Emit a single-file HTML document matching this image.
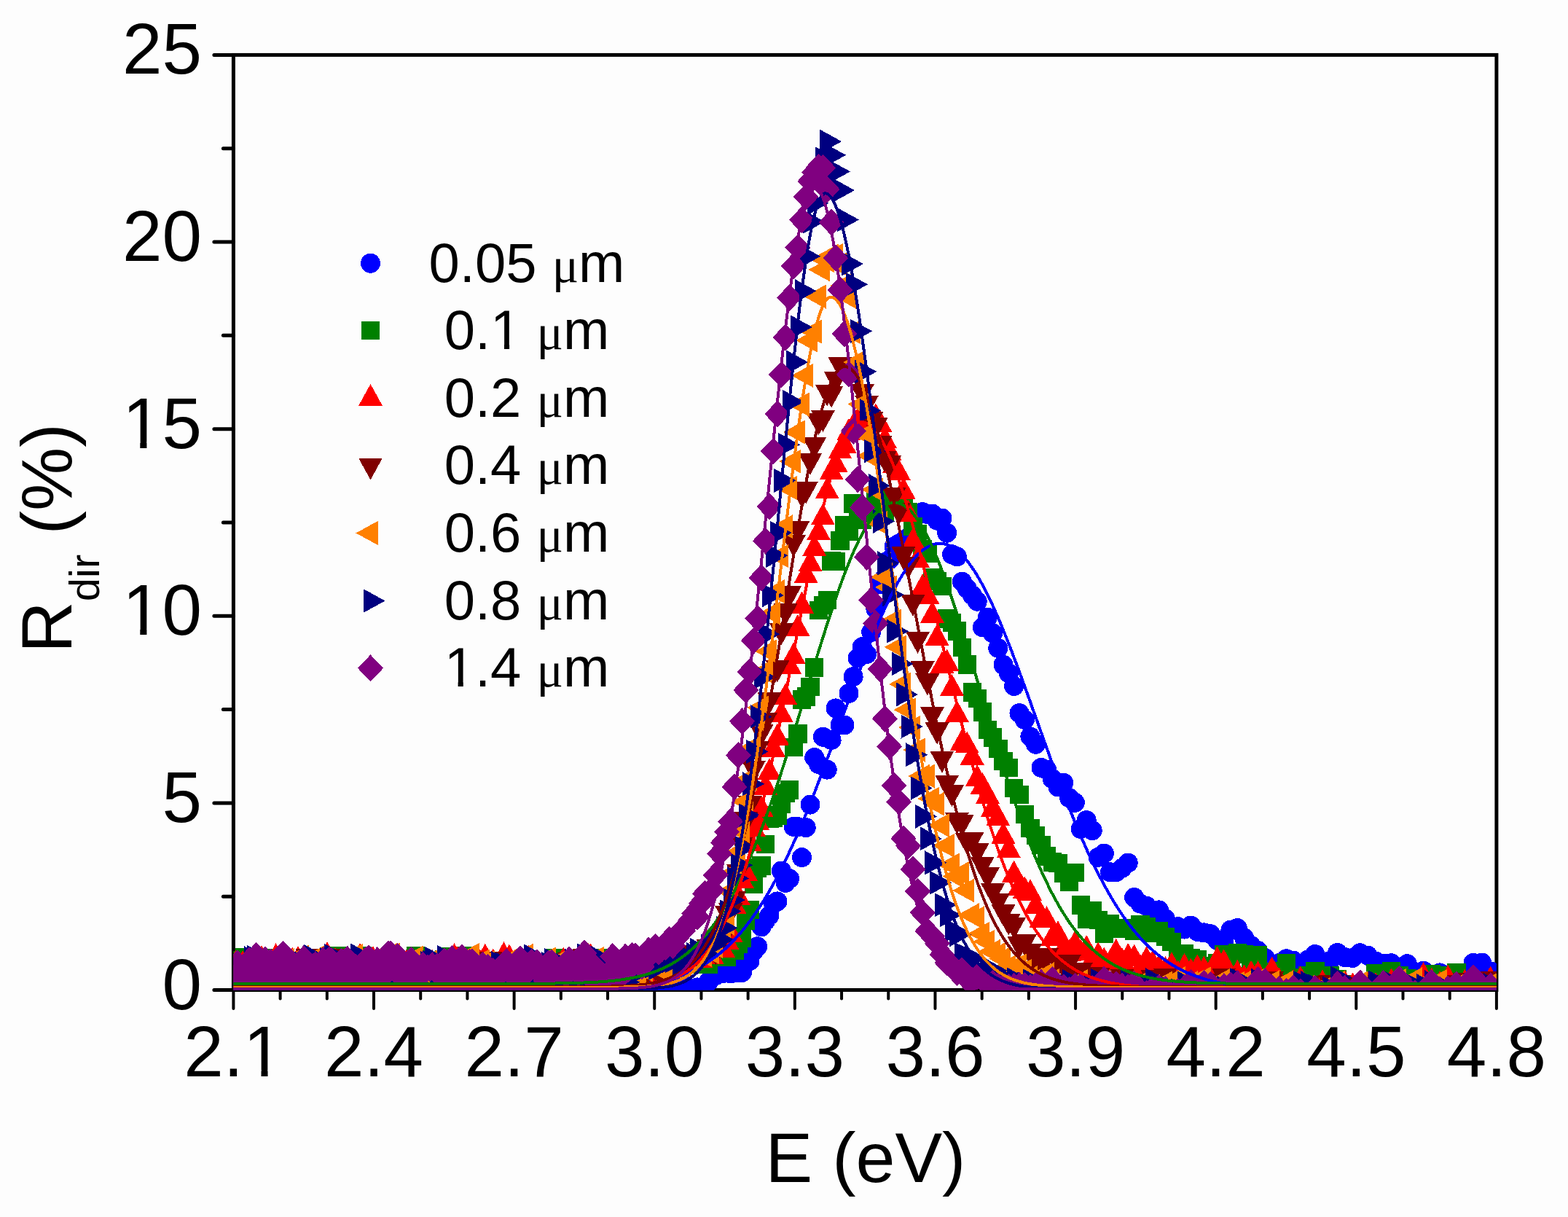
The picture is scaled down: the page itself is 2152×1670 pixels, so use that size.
<!DOCTYPE html>
<html><head><meta charset="utf-8"><style>
html,body{margin:0;padding:0;background:#fdfdfd;}
svg{display:block;}
</style></head><body>
<svg width="2152" height="1670" viewBox="0 0 2152 1670">
<rect width="2152" height="1670" fill="#fdfdfd"/>
<g stroke="#000" stroke-width="5" stroke-linecap="round" fill="none"><line x1="293.9" y1="1358.50" x2="320.4" y2="1358.50"/><line x1="293.9" y1="1101.88" x2="320.4" y2="1101.88"/><line x1="293.9" y1="845.26" x2="320.4" y2="845.26"/><line x1="293.9" y1="588.64" x2="320.4" y2="588.64"/><line x1="293.9" y1="332.02" x2="320.4" y2="332.02"/><line x1="293.9" y1="75.40" x2="320.4" y2="75.40"/><line x1="306.4" y1="1230.19" x2="320.4" y2="1230.19"/><line x1="306.4" y1="973.57" x2="320.4" y2="973.57"/><line x1="306.4" y1="716.95" x2="320.4" y2="716.95"/><line x1="306.4" y1="460.33" x2="320.4" y2="460.33"/><line x1="306.4" y1="203.71" x2="320.4" y2="203.71"/><line x1="320.40" y1="1358.5" x2="320.40" y2="1384.0" stroke-width="4"/><line x1="384.60" y1="1358.5" x2="384.60" y2="1370.5" stroke-width="4"/><line x1="448.81" y1="1358.5" x2="448.81" y2="1370.5" stroke-width="4"/><line x1="513.01" y1="1358.5" x2="513.01" y2="1384.0" stroke-width="4"/><line x1="577.21" y1="1358.5" x2="577.21" y2="1370.5" stroke-width="4"/><line x1="641.42" y1="1358.5" x2="641.42" y2="1370.5" stroke-width="4"/><line x1="705.62" y1="1358.5" x2="705.62" y2="1384.0" stroke-width="4"/><line x1="769.83" y1="1358.5" x2="769.83" y2="1370.5" stroke-width="4"/><line x1="834.03" y1="1358.5" x2="834.03" y2="1370.5" stroke-width="4"/><line x1="898.23" y1="1358.5" x2="898.23" y2="1384.0" stroke-width="4"/><line x1="962.44" y1="1358.5" x2="962.44" y2="1370.5" stroke-width="4"/><line x1="1026.64" y1="1358.5" x2="1026.64" y2="1370.5" stroke-width="4"/><line x1="1090.84" y1="1358.5" x2="1090.84" y2="1384.0" stroke-width="4"/><line x1="1155.05" y1="1358.5" x2="1155.05" y2="1370.5" stroke-width="4"/><line x1="1219.25" y1="1358.5" x2="1219.25" y2="1370.5" stroke-width="4"/><line x1="1283.46" y1="1358.5" x2="1283.46" y2="1384.0" stroke-width="4"/><line x1="1347.66" y1="1358.5" x2="1347.66" y2="1370.5" stroke-width="4"/><line x1="1411.86" y1="1358.5" x2="1411.86" y2="1370.5" stroke-width="4"/><line x1="1476.07" y1="1358.5" x2="1476.07" y2="1384.0" stroke-width="4"/><line x1="1540.27" y1="1358.5" x2="1540.27" y2="1370.5" stroke-width="4"/><line x1="1604.47" y1="1358.5" x2="1604.47" y2="1370.5" stroke-width="4"/><line x1="1668.68" y1="1358.5" x2="1668.68" y2="1384.0" stroke-width="4"/><line x1="1732.88" y1="1358.5" x2="1732.88" y2="1370.5" stroke-width="4"/><line x1="1797.09" y1="1358.5" x2="1797.09" y2="1370.5" stroke-width="4"/><line x1="1861.29" y1="1358.5" x2="1861.29" y2="1384.0" stroke-width="4"/><line x1="1925.49" y1="1358.5" x2="1925.49" y2="1370.5" stroke-width="4"/><line x1="1989.70" y1="1358.5" x2="1989.70" y2="1370.5" stroke-width="4"/><line x1="2053.90" y1="1358.5" x2="2053.90" y2="1384.0" stroke-width="4"/></g>
<rect x="320.4" y="75.4" width="1733.5" height="1283.1" fill="none" stroke="#000" stroke-width="5"/>
<defs><clipPath id="cp"><rect x="320.4" y="75.4" width="1733.5" height="1283.3999999999999"/></clipPath></defs>
<g clip-path="url(#cp)" shape-rendering="crispEdges"><path fill="#0000ff" d="M2032.1,1332.9a13.5,13.5 0 1,0 27.0,0a13.5,13.5 0 1,0 -27.0,0ZM2020.2,1321.1a13.5,13.5 0 1,0 27.0,0a13.5,13.5 0 1,0 -27.0,0ZM2008.5,1321.4a13.5,13.5 0 1,0 27.0,0a13.5,13.5 0 1,0 -27.0,0ZM1996.9,1335.4a13.5,13.5 0 1,0 27.0,0a13.5,13.5 0 1,0 -27.0,0ZM1985.3,1336.9a13.5,13.5 0 1,0 27.0,0a13.5,13.5 0 1,0 -27.0,0ZM1973.9,1341.6a13.5,13.5 0 1,0 27.0,0a13.5,13.5 0 1,0 -27.0,0ZM1962.5,1334.9a13.5,13.5 0 1,0 27.0,0a13.5,13.5 0 1,0 -27.0,0ZM1951.2,1338.9a13.5,13.5 0 1,0 27.0,0a13.5,13.5 0 1,0 -27.0,0ZM1940.0,1332.1a13.5,13.5 0 1,0 27.0,0a13.5,13.5 0 1,0 -27.0,0ZM1928.9,1349.0a13.5,13.5 0 1,0 27.0,0a13.5,13.5 0 1,0 -27.0,0ZM1917.8,1322.7a13.5,13.5 0 1,0 27.0,0a13.5,13.5 0 1,0 -27.0,0ZM1906.9,1332.2a13.5,13.5 0 1,0 27.0,0a13.5,13.5 0 1,0 -27.0,0ZM1896.0,1321.8a13.5,13.5 0 1,0 27.0,0a13.5,13.5 0 1,0 -27.0,0ZM1885.2,1322.0a13.5,13.5 0 1,0 27.0,0a13.5,13.5 0 1,0 -27.0,0ZM1874.5,1319.2a13.5,13.5 0 1,0 27.0,0a13.5,13.5 0 1,0 -27.0,0ZM1863.8,1311.3a13.5,13.5 0 1,0 27.0,0a13.5,13.5 0 1,0 -27.0,0ZM1853.3,1307.8a13.5,13.5 0 1,0 27.0,0a13.5,13.5 0 1,0 -27.0,0ZM1842.8,1314.5a13.5,13.5 0 1,0 27.0,0a13.5,13.5 0 1,0 -27.0,0ZM1832.4,1313.7a13.5,13.5 0 1,0 27.0,0a13.5,13.5 0 1,0 -27.0,0ZM1822.0,1307.4a13.5,13.5 0 1,0 27.0,0a13.5,13.5 0 1,0 -27.0,0ZM1811.8,1318.5a13.5,13.5 0 1,0 27.0,0a13.5,13.5 0 1,0 -27.0,0ZM1801.6,1323.1a13.5,13.5 0 1,0 27.0,0a13.5,13.5 0 1,0 -27.0,0ZM1791.4,1309.5a13.5,13.5 0 1,0 27.0,0a13.5,13.5 0 1,0 -27.0,0ZM1781.4,1317.1a13.5,13.5 0 1,0 27.0,0a13.5,13.5 0 1,0 -27.0,0ZM1771.4,1325.9a13.5,13.5 0 1,0 27.0,0a13.5,13.5 0 1,0 -27.0,0ZM1761.5,1318.1a13.5,13.5 0 1,0 27.0,0a13.5,13.5 0 1,0 -27.0,0ZM1751.7,1315.8a13.5,13.5 0 1,0 27.0,0a13.5,13.5 0 1,0 -27.0,0ZM1741.9,1321.7a13.5,13.5 0 1,0 27.0,0a13.5,13.5 0 1,0 -27.0,0ZM1732.2,1324.7a13.5,13.5 0 1,0 27.0,0a13.5,13.5 0 1,0 -27.0,0ZM1722.6,1314.6a13.5,13.5 0 1,0 27.0,0a13.5,13.5 0 1,0 -27.0,0ZM1713.0,1304.6a13.5,13.5 0 1,0 27.0,0a13.5,13.5 0 1,0 -27.0,0ZM1703.5,1297.7a13.5,13.5 0 1,0 27.0,0a13.5,13.5 0 1,0 -27.0,0ZM1694.1,1287.0a13.5,13.5 0 1,0 27.0,0a13.5,13.5 0 1,0 -27.0,0ZM1684.7,1273.5a13.5,13.5 0 1,0 27.0,0a13.5,13.5 0 1,0 -27.0,0ZM1675.4,1276.1a13.5,13.5 0 1,0 27.0,0a13.5,13.5 0 1,0 -27.0,0ZM1666.2,1291.8a13.5,13.5 0 1,0 27.0,0a13.5,13.5 0 1,0 -27.0,0ZM1657.0,1290.0a13.5,13.5 0 1,0 27.0,0a13.5,13.5 0 1,0 -27.0,0ZM1647.9,1281.7a13.5,13.5 0 1,0 27.0,0a13.5,13.5 0 1,0 -27.0,0ZM1638.8,1279.9a13.5,13.5 0 1,0 27.0,0a13.5,13.5 0 1,0 -27.0,0ZM1629.8,1278.3a13.5,13.5 0 1,0 27.0,0a13.5,13.5 0 1,0 -27.0,0ZM1620.9,1270.1a13.5,13.5 0 1,0 27.0,0a13.5,13.5 0 1,0 -27.0,0ZM1612.0,1275.0a13.5,13.5 0 1,0 27.0,0a13.5,13.5 0 1,0 -27.0,0ZM1603.2,1271.7a13.5,13.5 0 1,0 27.0,0a13.5,13.5 0 1,0 -27.0,0ZM1594.5,1289.5a13.5,13.5 0 1,0 27.0,0a13.5,13.5 0 1,0 -27.0,0ZM1585.8,1260.9a13.5,13.5 0 1,0 27.0,0a13.5,13.5 0 1,0 -27.0,0ZM1577.1,1248.9a13.5,13.5 0 1,0 27.0,0a13.5,13.5 0 1,0 -27.0,0ZM1568.5,1259.3a13.5,13.5 0 1,0 27.0,0a13.5,13.5 0 1,0 -27.0,0ZM1560.0,1243.3a13.5,13.5 0 1,0 27.0,0a13.5,13.5 0 1,0 -27.0,0ZM1551.5,1240.1a13.5,13.5 0 1,0 27.0,0a13.5,13.5 0 1,0 -27.0,0ZM1543.1,1231.5a13.5,13.5 0 1,0 27.0,0a13.5,13.5 0 1,0 -27.0,0ZM1534.7,1184.0a13.5,13.5 0 1,0 27.0,0a13.5,13.5 0 1,0 -27.0,0ZM1526.4,1191.3a13.5,13.5 0 1,0 27.0,0a13.5,13.5 0 1,0 -27.0,0ZM1518.2,1196.7a13.5,13.5 0 1,0 27.0,0a13.5,13.5 0 1,0 -27.0,0ZM1510.0,1196.8a13.5,13.5 0 1,0 27.0,0a13.5,13.5 0 1,0 -27.0,0ZM1501.8,1171.1a13.5,13.5 0 1,0 27.0,0a13.5,13.5 0 1,0 -27.0,0ZM1493.7,1176.4a13.5,13.5 0 1,0 27.0,0a13.5,13.5 0 1,0 -27.0,0ZM1485.7,1139.7a13.5,13.5 0 1,0 27.0,0a13.5,13.5 0 1,0 -27.0,0ZM1477.7,1125.6a13.5,13.5 0 1,0 27.0,0a13.5,13.5 0 1,0 -27.0,0ZM1469.7,1137.5a13.5,13.5 0 1,0 27.0,0a13.5,13.5 0 1,0 -27.0,0ZM1461.8,1101.3a13.5,13.5 0 1,0 27.0,0a13.5,13.5 0 1,0 -27.0,0ZM1454.0,1094.9a13.5,13.5 0 1,0 27.0,0a13.5,13.5 0 1,0 -27.0,0ZM1446.2,1074.4a13.5,13.5 0 1,0 27.0,0a13.5,13.5 0 1,0 -27.0,0ZM1438.4,1079.9a13.5,13.5 0 1,0 27.0,0a13.5,13.5 0 1,0 -27.0,0ZM1430.7,1068.8a13.5,13.5 0 1,0 27.0,0a13.5,13.5 0 1,0 -27.0,0ZM1423.1,1056.1a13.5,13.5 0 1,0 27.0,0a13.5,13.5 0 1,0 -27.0,0ZM1415.5,1053.4a13.5,13.5 0 1,0 27.0,0a13.5,13.5 0 1,0 -27.0,0ZM1407.9,1021.3a13.5,13.5 0 1,0 27.0,0a13.5,13.5 0 1,0 -27.0,0ZM1400.4,1010.8a13.5,13.5 0 1,0 27.0,0a13.5,13.5 0 1,0 -27.0,0ZM1392.9,987.6a13.5,13.5 0 1,0 27.0,0a13.5,13.5 0 1,0 -27.0,0ZM1385.5,978.6a13.5,13.5 0 1,0 27.0,0a13.5,13.5 0 1,0 -27.0,0ZM1378.1,941.5a13.5,13.5 0 1,0 27.0,0a13.5,13.5 0 1,0 -27.0,0ZM1370.8,923.7a13.5,13.5 0 1,0 27.0,0a13.5,13.5 0 1,0 -27.0,0ZM1363.5,912.3a13.5,13.5 0 1,0 27.0,0a13.5,13.5 0 1,0 -27.0,0ZM1356.3,889.4a13.5,13.5 0 1,0 27.0,0a13.5,13.5 0 1,0 -27.0,0ZM1349.1,868.9a13.5,13.5 0 1,0 27.0,0a13.5,13.5 0 1,0 -27.0,0ZM1341.9,847.3a13.5,13.5 0 1,0 27.0,0a13.5,13.5 0 1,0 -27.0,0ZM1334.8,860.8a13.5,13.5 0 1,0 27.0,0a13.5,13.5 0 1,0 -27.0,0ZM1327.7,825.2a13.5,13.5 0 1,0 27.0,0a13.5,13.5 0 1,0 -27.0,0ZM1320.7,816.6a13.5,13.5 0 1,0 27.0,0a13.5,13.5 0 1,0 -27.0,0ZM1313.7,807.6a13.5,13.5 0 1,0 27.0,0a13.5,13.5 0 1,0 -27.0,0ZM1306.8,798.2a13.5,13.5 0 1,0 27.0,0a13.5,13.5 0 1,0 -27.0,0ZM1299.9,763.8a13.5,13.5 0 1,0 27.0,0a13.5,13.5 0 1,0 -27.0,0ZM1293.0,760.7a13.5,13.5 0 1,0 27.0,0a13.5,13.5 0 1,0 -27.0,0ZM1286.2,731.2a13.5,13.5 0 1,0 27.0,0a13.5,13.5 0 1,0 -27.0,0ZM1279.4,711.1a13.5,13.5 0 1,0 27.0,0a13.5,13.5 0 1,0 -27.0,0ZM1272.6,714.2a13.5,13.5 0 1,0 27.0,0a13.5,13.5 0 1,0 -27.0,0ZM1265.9,705.0a13.5,13.5 0 1,0 27.0,0a13.5,13.5 0 1,0 -27.0,0ZM1259.3,705.6a13.5,13.5 0 1,0 27.0,0a13.5,13.5 0 1,0 -27.0,0ZM1252.6,702.6a13.5,13.5 0 1,0 27.0,0a13.5,13.5 0 1,0 -27.0,0ZM1246.0,705.1a13.5,13.5 0 1,0 27.0,0a13.5,13.5 0 1,0 -27.0,0ZM1239.5,711.3a13.5,13.5 0 1,0 27.0,0a13.5,13.5 0 1,0 -27.0,0ZM1233.0,737.6a13.5,13.5 0 1,0 27.0,0a13.5,13.5 0 1,0 -27.0,0ZM1226.5,742.5a13.5,13.5 0 1,0 27.0,0a13.5,13.5 0 1,0 -27.0,0ZM1220.1,746.1a13.5,13.5 0 1,0 27.0,0a13.5,13.5 0 1,0 -27.0,0ZM1213.6,750.0a13.5,13.5 0 1,0 27.0,0a13.5,13.5 0 1,0 -27.0,0ZM1207.3,768.1a13.5,13.5 0 1,0 27.0,0a13.5,13.5 0 1,0 -27.0,0ZM1200.9,792.8a13.5,13.5 0 1,0 27.0,0a13.5,13.5 0 1,0 -27.0,0ZM1194.6,801.4a13.5,13.5 0 1,0 27.0,0a13.5,13.5 0 1,0 -27.0,0ZM1188.4,835.6a13.5,13.5 0 1,0 27.0,0a13.5,13.5 0 1,0 -27.0,0ZM1182.2,867.4a13.5,13.5 0 1,0 27.0,0a13.5,13.5 0 1,0 -27.0,0ZM1176.0,897.6a13.5,13.5 0 1,0 27.0,0a13.5,13.5 0 1,0 -27.0,0ZM1169.8,887.7a13.5,13.5 0 1,0 27.0,0a13.5,13.5 0 1,0 -27.0,0ZM1163.7,903.1a13.5,13.5 0 1,0 27.0,0a13.5,13.5 0 1,0 -27.0,0ZM1157.6,928.6a13.5,13.5 0 1,0 27.0,0a13.5,13.5 0 1,0 -27.0,0ZM1151.5,951.5a13.5,13.5 0 1,0 27.0,0a13.5,13.5 0 1,0 -27.0,0ZM1145.5,995.0a13.5,13.5 0 1,0 27.0,0a13.5,13.5 0 1,0 -27.0,0ZM1139.5,994.8a13.5,13.5 0 1,0 27.0,0a13.5,13.5 0 1,0 -27.0,0ZM1133.5,971.9a13.5,13.5 0 1,0 27.0,0a13.5,13.5 0 1,0 -27.0,0ZM1127.6,1015.4a13.5,13.5 0 1,0 27.0,0a13.5,13.5 0 1,0 -27.0,0ZM1121.7,1056.1a13.5,13.5 0 1,0 27.0,0a13.5,13.5 0 1,0 -27.0,0ZM1115.9,1011.2a13.5,13.5 0 1,0 27.0,0a13.5,13.5 0 1,0 -27.0,0ZM1110.0,1048.6a13.5,13.5 0 1,0 27.0,0a13.5,13.5 0 1,0 -27.0,0ZM1104.2,1039.6a13.5,13.5 0 1,0 27.0,0a13.5,13.5 0 1,0 -27.0,0ZM1098.5,1104.1a13.5,13.5 0 1,0 27.0,0a13.5,13.5 0 1,0 -27.0,0ZM1092.7,1135.6a13.5,13.5 0 1,0 27.0,0a13.5,13.5 0 1,0 -27.0,0ZM1087.0,1176.6a13.5,13.5 0 1,0 27.0,0a13.5,13.5 0 1,0 -27.0,0ZM1081.4,1134.7a13.5,13.5 0 1,0 27.0,0a13.5,13.5 0 1,0 -27.0,0ZM1075.7,1134.4a13.5,13.5 0 1,0 27.0,0a13.5,13.5 0 1,0 -27.0,0ZM1070.1,1205.7a13.5,13.5 0 1,0 27.0,0a13.5,13.5 0 1,0 -27.0,0ZM1064.5,1211.3a13.5,13.5 0 1,0 27.0,0a13.5,13.5 0 1,0 -27.0,0ZM1058.9,1195.1a13.5,13.5 0 1,0 27.0,0a13.5,13.5 0 1,0 -27.0,0ZM1053.4,1236.9a13.5,13.5 0 1,0 27.0,0a13.5,13.5 0 1,0 -27.0,0ZM1047.9,1240.3a13.5,13.5 0 1,0 27.0,0a13.5,13.5 0 1,0 -27.0,0ZM1042.5,1256.2a13.5,13.5 0 1,0 27.0,0a13.5,13.5 0 1,0 -27.0,0ZM1037.0,1263.7a13.5,13.5 0 1,0 27.0,0a13.5,13.5 0 1,0 -27.0,0ZM1031.6,1271.8a13.5,13.5 0 1,0 27.0,0a13.5,13.5 0 1,0 -27.0,0ZM1026.2,1298.8a13.5,13.5 0 1,0 27.0,0a13.5,13.5 0 1,0 -27.0,0ZM1020.9,1304.9a13.5,13.5 0 1,0 27.0,0a13.5,13.5 0 1,0 -27.0,0ZM1015.5,1318.7a13.5,13.5 0 1,0 27.0,0a13.5,13.5 0 1,0 -27.0,0ZM1010.2,1319.1a13.5,13.5 0 1,0 27.0,0a13.5,13.5 0 1,0 -27.0,0ZM1005.0,1334.4a13.5,13.5 0 1,0 27.0,0a13.5,13.5 0 1,0 -27.0,0ZM999.7,1334.5a13.5,13.5 0 1,0 27.0,0a13.5,13.5 0 1,0 -27.0,0ZM994.5,1325.8a13.5,13.5 0 1,0 27.0,0a13.5,13.5 0 1,0 -27.0,0ZM989.3,1335.9a13.5,13.5 0 1,0 27.0,0a13.5,13.5 0 1,0 -27.0,0ZM984.1,1332.7a13.5,13.5 0 1,0 27.0,0a13.5,13.5 0 1,0 -27.0,0ZM979.0,1335.5a13.5,13.5 0 1,0 27.0,0a13.5,13.5 0 1,0 -27.0,0ZM973.9,1334.0a13.5,13.5 0 1,0 27.0,0a13.5,13.5 0 1,0 -27.0,0ZM968.8,1338.7a13.5,13.5 0 1,0 27.0,0a13.5,13.5 0 1,0 -27.0,0ZM963.7,1339.8a13.5,13.5 0 1,0 27.0,0a13.5,13.5 0 1,0 -27.0,0ZM958.7,1347.7a13.5,13.5 0 1,0 27.0,0a13.5,13.5 0 1,0 -27.0,0ZM953.7,1352.8a13.5,13.5 0 1,0 27.0,0a13.5,13.5 0 1,0 -27.0,0ZM948.7,1354.8a13.5,13.5 0 1,0 27.0,0a13.5,13.5 0 1,0 -27.0,0ZM943.7,1354.9a13.5,13.5 0 1,0 27.0,0a13.5,13.5 0 1,0 -27.0,0ZM938.8,1359.0a13.5,13.5 0 1,0 27.0,0a13.5,13.5 0 1,0 -27.0,0ZM933.9,1356.1a13.5,13.5 0 1,0 27.0,0a13.5,13.5 0 1,0 -27.0,0ZM929.0,1353.6a13.5,13.5 0 1,0 27.0,0a13.5,13.5 0 1,0 -27.0,0ZM924.1,1351.6a13.5,13.5 0 1,0 27.0,0a13.5,13.5 0 1,0 -27.0,0ZM919.3,1354.1a13.5,13.5 0 1,0 27.0,0a13.5,13.5 0 1,0 -27.0,0ZM914.5,1361.7a13.5,13.5 0 1,0 27.0,0a13.5,13.5 0 1,0 -27.0,0ZM909.7,1351.6a13.5,13.5 0 1,0 27.0,0a13.5,13.5 0 1,0 -27.0,0ZM904.9,1349.5a13.5,13.5 0 1,0 27.0,0a13.5,13.5 0 1,0 -27.0,0ZM900.1,1344.4a13.5,13.5 0 1,0 27.0,0a13.5,13.5 0 1,0 -27.0,0ZM895.4,1346.4a13.5,13.5 0 1,0 27.0,0a13.5,13.5 0 1,0 -27.0,0ZM890.7,1352.2a13.5,13.5 0 1,0 27.0,0a13.5,13.5 0 1,0 -27.0,0ZM886.0,1352.1a13.5,13.5 0 1,0 27.0,0a13.5,13.5 0 1,0 -27.0,0ZM881.4,1337.0a13.5,13.5 0 1,0 27.0,0a13.5,13.5 0 1,0 -27.0,0ZM876.8,1343.1a13.5,13.5 0 1,0 27.0,0a13.5,13.5 0 1,0 -27.0,0ZM872.1,1335.7a13.5,13.5 0 1,0 27.0,0a13.5,13.5 0 1,0 -27.0,0ZM867.6,1333.4a13.5,13.5 0 1,0 27.0,0a13.5,13.5 0 1,0 -27.0,0ZM863.0,1351.7a13.5,13.5 0 1,0 27.0,0a13.5,13.5 0 1,0 -27.0,0ZM858.4,1342.7a13.5,13.5 0 1,0 27.0,0a13.5,13.5 0 1,0 -27.0,0ZM853.9,1341.6a13.5,13.5 0 1,0 27.0,0a13.5,13.5 0 1,0 -27.0,0ZM849.4,1340.2a13.5,13.5 0 1,0 27.0,0a13.5,13.5 0 1,0 -27.0,0ZM844.9,1339.7a13.5,13.5 0 1,0 27.0,0a13.5,13.5 0 1,0 -27.0,0ZM840.5,1342.1a13.5,13.5 0 1,0 27.0,0a13.5,13.5 0 1,0 -27.0,0ZM836.0,1342.0a13.5,13.5 0 1,0 27.0,0a13.5,13.5 0 1,0 -27.0,0ZM831.6,1357.5a13.5,13.5 0 1,0 27.0,0a13.5,13.5 0 1,0 -27.0,0ZM827.2,1344.8a13.5,13.5 0 1,0 27.0,0a13.5,13.5 0 1,0 -27.0,0ZM822.8,1350.7a13.5,13.5 0 1,0 27.0,0a13.5,13.5 0 1,0 -27.0,0ZM818.5,1341.8a13.5,13.5 0 1,0 27.0,0a13.5,13.5 0 1,0 -27.0,0ZM814.2,1347.9a13.5,13.5 0 1,0 27.0,0a13.5,13.5 0 1,0 -27.0,0ZM809.8,1336.7a13.5,13.5 0 1,0 27.0,0a13.5,13.5 0 1,0 -27.0,0ZM805.5,1334.6a13.5,13.5 0 1,0 27.0,0a13.5,13.5 0 1,0 -27.0,0ZM801.3,1339.9a13.5,13.5 0 1,0 27.0,0a13.5,13.5 0 1,0 -27.0,0ZM797.0,1339.8a13.5,13.5 0 1,0 27.0,0a13.5,13.5 0 1,0 -27.0,0ZM792.8,1342.1a13.5,13.5 0 1,0 27.0,0a13.5,13.5 0 1,0 -27.0,0ZM788.6,1347.7a13.5,13.5 0 1,0 27.0,0a13.5,13.5 0 1,0 -27.0,0ZM784.4,1344.8a13.5,13.5 0 1,0 27.0,0a13.5,13.5 0 1,0 -27.0,0ZM780.2,1348.2a13.5,13.5 0 1,0 27.0,0a13.5,13.5 0 1,0 -27.0,0ZM776.0,1339.1a13.5,13.5 0 1,0 27.0,0a13.5,13.5 0 1,0 -27.0,0ZM771.9,1343.0a13.5,13.5 0 1,0 27.0,0a13.5,13.5 0 1,0 -27.0,0ZM767.8,1337.1a13.5,13.5 0 1,0 27.0,0a13.5,13.5 0 1,0 -27.0,0ZM763.7,1356.8a13.5,13.5 0 1,0 27.0,0a13.5,13.5 0 1,0 -27.0,0ZM759.6,1333.9a13.5,13.5 0 1,0 27.0,0a13.5,13.5 0 1,0 -27.0,0ZM755.5,1351.0a13.5,13.5 0 1,0 27.0,0a13.5,13.5 0 1,0 -27.0,0ZM751.5,1350.7a13.5,13.5 0 1,0 27.0,0a13.5,13.5 0 1,0 -27.0,0ZM747.4,1345.1a13.5,13.5 0 1,0 27.0,0a13.5,13.5 0 1,0 -27.0,0ZM743.4,1348.9a13.5,13.5 0 1,0 27.0,0a13.5,13.5 0 1,0 -27.0,0ZM739.4,1340.1a13.5,13.5 0 1,0 27.0,0a13.5,13.5 0 1,0 -27.0,0ZM735.5,1349.0a13.5,13.5 0 1,0 27.0,0a13.5,13.5 0 1,0 -27.0,0ZM731.5,1354.1a13.5,13.5 0 1,0 27.0,0a13.5,13.5 0 1,0 -27.0,0ZM727.6,1351.8a13.5,13.5 0 1,0 27.0,0a13.5,13.5 0 1,0 -27.0,0ZM723.6,1329.6a13.5,13.5 0 1,0 27.0,0a13.5,13.5 0 1,0 -27.0,0ZM719.7,1342.6a13.5,13.5 0 1,0 27.0,0a13.5,13.5 0 1,0 -27.0,0ZM715.8,1355.2a13.5,13.5 0 1,0 27.0,0a13.5,13.5 0 1,0 -27.0,0ZM712.0,1343.0a13.5,13.5 0 1,0 27.0,0a13.5,13.5 0 1,0 -27.0,0ZM708.1,1359.2a13.5,13.5 0 1,0 27.0,0a13.5,13.5 0 1,0 -27.0,0ZM704.3,1324.6a13.5,13.5 0 1,0 27.0,0a13.5,13.5 0 1,0 -27.0,0ZM700.5,1358.8a13.5,13.5 0 1,0 27.0,0a13.5,13.5 0 1,0 -27.0,0ZM696.7,1338.2a13.5,13.5 0 1,0 27.0,0a13.5,13.5 0 1,0 -27.0,0ZM692.9,1337.5a13.5,13.5 0 1,0 27.0,0a13.5,13.5 0 1,0 -27.0,0ZM689.1,1358.1a13.5,13.5 0 1,0 27.0,0a13.5,13.5 0 1,0 -27.0,0ZM685.4,1340.0a13.5,13.5 0 1,0 27.0,0a13.5,13.5 0 1,0 -27.0,0ZM681.6,1332.8a13.5,13.5 0 1,0 27.0,0a13.5,13.5 0 1,0 -27.0,0ZM677.9,1338.3a13.5,13.5 0 1,0 27.0,0a13.5,13.5 0 1,0 -27.0,0ZM674.2,1340.4a13.5,13.5 0 1,0 27.0,0a13.5,13.5 0 1,0 -27.0,0ZM670.5,1333.3a13.5,13.5 0 1,0 27.0,0a13.5,13.5 0 1,0 -27.0,0ZM666.8,1341.4a13.5,13.5 0 1,0 27.0,0a13.5,13.5 0 1,0 -27.0,0ZM663.2,1339.6a13.5,13.5 0 1,0 27.0,0a13.5,13.5 0 1,0 -27.0,0ZM659.5,1344.4a13.5,13.5 0 1,0 27.0,0a13.5,13.5 0 1,0 -27.0,0ZM655.9,1336.6a13.5,13.5 0 1,0 27.0,0a13.5,13.5 0 1,0 -27.0,0ZM652.3,1352.8a13.5,13.5 0 1,0 27.0,0a13.5,13.5 0 1,0 -27.0,0ZM648.7,1334.9a13.5,13.5 0 1,0 27.0,0a13.5,13.5 0 1,0 -27.0,0ZM645.1,1348.3a13.5,13.5 0 1,0 27.0,0a13.5,13.5 0 1,0 -27.0,0ZM641.5,1354.4a13.5,13.5 0 1,0 27.0,0a13.5,13.5 0 1,0 -27.0,0ZM638.0,1339.3a13.5,13.5 0 1,0 27.0,0a13.5,13.5 0 1,0 -27.0,0ZM634.5,1325.6a13.5,13.5 0 1,0 27.0,0a13.5,13.5 0 1,0 -27.0,0ZM630.9,1333.2a13.5,13.5 0 1,0 27.0,0a13.5,13.5 0 1,0 -27.0,0ZM627.4,1348.4a13.5,13.5 0 1,0 27.0,0a13.5,13.5 0 1,0 -27.0,0ZM623.9,1335.9a13.5,13.5 0 1,0 27.0,0a13.5,13.5 0 1,0 -27.0,0ZM620.5,1347.8a13.5,13.5 0 1,0 27.0,0a13.5,13.5 0 1,0 -27.0,0ZM617.0,1344.4a13.5,13.5 0 1,0 27.0,0a13.5,13.5 0 1,0 -27.0,0ZM613.6,1342.2a13.5,13.5 0 1,0 27.0,0a13.5,13.5 0 1,0 -27.0,0ZM610.1,1363.8a13.5,13.5 0 1,0 27.0,0a13.5,13.5 0 1,0 -27.0,0ZM606.7,1341.1a13.5,13.5 0 1,0 27.0,0a13.5,13.5 0 1,0 -27.0,0ZM603.3,1353.7a13.5,13.5 0 1,0 27.0,0a13.5,13.5 0 1,0 -27.0,0ZM599.9,1350.3a13.5,13.5 0 1,0 27.0,0a13.5,13.5 0 1,0 -27.0,0ZM596.5,1358.3a13.5,13.5 0 1,0 27.0,0a13.5,13.5 0 1,0 -27.0,0ZM593.2,1358.8a13.5,13.5 0 1,0 27.0,0a13.5,13.5 0 1,0 -27.0,0ZM589.8,1352.8a13.5,13.5 0 1,0 27.0,0a13.5,13.5 0 1,0 -27.0,0ZM586.5,1334.6a13.5,13.5 0 1,0 27.0,0a13.5,13.5 0 1,0 -27.0,0ZM583.2,1325.9a13.5,13.5 0 1,0 27.0,0a13.5,13.5 0 1,0 -27.0,0ZM579.9,1343.4a13.5,13.5 0 1,0 27.0,0a13.5,13.5 0 1,0 -27.0,0ZM576.6,1331.8a13.5,13.5 0 1,0 27.0,0a13.5,13.5 0 1,0 -27.0,0ZM573.3,1345.8a13.5,13.5 0 1,0 27.0,0a13.5,13.5 0 1,0 -27.0,0ZM570.0,1362.8a13.5,13.5 0 1,0 27.0,0a13.5,13.5 0 1,0 -27.0,0ZM566.7,1341.6a13.5,13.5 0 1,0 27.0,0a13.5,13.5 0 1,0 -27.0,0ZM563.5,1338.5a13.5,13.5 0 1,0 27.0,0a13.5,13.5 0 1,0 -27.0,0ZM560.3,1347.5a13.5,13.5 0 1,0 27.0,0a13.5,13.5 0 1,0 -27.0,0ZM557.1,1340.0a13.5,13.5 0 1,0 27.0,0a13.5,13.5 0 1,0 -27.0,0ZM553.9,1337.2a13.5,13.5 0 1,0 27.0,0a13.5,13.5 0 1,0 -27.0,0ZM550.7,1352.0a13.5,13.5 0 1,0 27.0,0a13.5,13.5 0 1,0 -27.0,0ZM547.5,1358.4a13.5,13.5 0 1,0 27.0,0a13.5,13.5 0 1,0 -27.0,0ZM544.3,1345.4a13.5,13.5 0 1,0 27.0,0a13.5,13.5 0 1,0 -27.0,0ZM541.2,1345.3a13.5,13.5 0 1,0 27.0,0a13.5,13.5 0 1,0 -27.0,0ZM538.0,1346.7a13.5,13.5 0 1,0 27.0,0a13.5,13.5 0 1,0 -27.0,0ZM534.9,1332.9a13.5,13.5 0 1,0 27.0,0a13.5,13.5 0 1,0 -27.0,0ZM531.8,1325.3a13.5,13.5 0 1,0 27.0,0a13.5,13.5 0 1,0 -27.0,0ZM528.7,1347.4a13.5,13.5 0 1,0 27.0,0a13.5,13.5 0 1,0 -27.0,0ZM525.6,1335.9a13.5,13.5 0 1,0 27.0,0a13.5,13.5 0 1,0 -27.0,0ZM522.5,1333.4a13.5,13.5 0 1,0 27.0,0a13.5,13.5 0 1,0 -27.0,0ZM519.5,1335.7a13.5,13.5 0 1,0 27.0,0a13.5,13.5 0 1,0 -27.0,0ZM516.4,1332.3a13.5,13.5 0 1,0 27.0,0a13.5,13.5 0 1,0 -27.0,0ZM513.4,1347.1a13.5,13.5 0 1,0 27.0,0a13.5,13.5 0 1,0 -27.0,0ZM510.3,1335.5a13.5,13.5 0 1,0 27.0,0a13.5,13.5 0 1,0 -27.0,0ZM507.3,1322.5a13.5,13.5 0 1,0 27.0,0a13.5,13.5 0 1,0 -27.0,0ZM504.3,1334.8a13.5,13.5 0 1,0 27.0,0a13.5,13.5 0 1,0 -27.0,0ZM501.3,1349.5a13.5,13.5 0 1,0 27.0,0a13.5,13.5 0 1,0 -27.0,0ZM498.3,1336.8a13.5,13.5 0 1,0 27.0,0a13.5,13.5 0 1,0 -27.0,0ZM495.3,1330.1a13.5,13.5 0 1,0 27.0,0a13.5,13.5 0 1,0 -27.0,0ZM492.4,1339.3a13.5,13.5 0 1,0 27.0,0a13.5,13.5 0 1,0 -27.0,0ZM489.4,1348.9a13.5,13.5 0 1,0 27.0,0a13.5,13.5 0 1,0 -27.0,0ZM486.5,1327.2a13.5,13.5 0 1,0 27.0,0a13.5,13.5 0 1,0 -27.0,0ZM483.6,1356.0a13.5,13.5 0 1,0 27.0,0a13.5,13.5 0 1,0 -27.0,0ZM480.7,1337.9a13.5,13.5 0 1,0 27.0,0a13.5,13.5 0 1,0 -27.0,0ZM477.8,1343.3a13.5,13.5 0 1,0 27.0,0a13.5,13.5 0 1,0 -27.0,0ZM474.9,1355.4a13.5,13.5 0 1,0 27.0,0a13.5,13.5 0 1,0 -27.0,0ZM472.0,1330.5a13.5,13.5 0 1,0 27.0,0a13.5,13.5 0 1,0 -27.0,0ZM469.1,1339.5a13.5,13.5 0 1,0 27.0,0a13.5,13.5 0 1,0 -27.0,0ZM466.2,1355.2a13.5,13.5 0 1,0 27.0,0a13.5,13.5 0 1,0 -27.0,0ZM463.4,1336.9a13.5,13.5 0 1,0 27.0,0a13.5,13.5 0 1,0 -27.0,0ZM460.6,1347.6a13.5,13.5 0 1,0 27.0,0a13.5,13.5 0 1,0 -27.0,0ZM457.7,1362.8a13.5,13.5 0 1,0 27.0,0a13.5,13.5 0 1,0 -27.0,0ZM454.9,1350.2a13.5,13.5 0 1,0 27.0,0a13.5,13.5 0 1,0 -27.0,0ZM452.1,1340.4a13.5,13.5 0 1,0 27.0,0a13.5,13.5 0 1,0 -27.0,0ZM449.3,1336.5a13.5,13.5 0 1,0 27.0,0a13.5,13.5 0 1,0 -27.0,0ZM446.5,1341.4a13.5,13.5 0 1,0 27.0,0a13.5,13.5 0 1,0 -27.0,0ZM443.7,1342.6a13.5,13.5 0 1,0 27.0,0a13.5,13.5 0 1,0 -27.0,0ZM441.0,1338.2a13.5,13.5 0 1,0 27.0,0a13.5,13.5 0 1,0 -27.0,0ZM438.2,1345.3a13.5,13.5 0 1,0 27.0,0a13.5,13.5 0 1,0 -27.0,0ZM435.5,1330.9a13.5,13.5 0 1,0 27.0,0a13.5,13.5 0 1,0 -27.0,0ZM432.7,1341.6a13.5,13.5 0 1,0 27.0,0a13.5,13.5 0 1,0 -27.0,0ZM430.0,1340.1a13.5,13.5 0 1,0 27.0,0a13.5,13.5 0 1,0 -27.0,0ZM427.3,1337.5a13.5,13.5 0 1,0 27.0,0a13.5,13.5 0 1,0 -27.0,0ZM424.6,1354.0a13.5,13.5 0 1,0 27.0,0a13.5,13.5 0 1,0 -27.0,0ZM421.9,1350.4a13.5,13.5 0 1,0 27.0,0a13.5,13.5 0 1,0 -27.0,0ZM419.2,1327.3a13.5,13.5 0 1,0 27.0,0a13.5,13.5 0 1,0 -27.0,0ZM416.5,1339.6a13.5,13.5 0 1,0 27.0,0a13.5,13.5 0 1,0 -27.0,0ZM413.9,1346.0a13.5,13.5 0 1,0 27.0,0a13.5,13.5 0 1,0 -27.0,0ZM411.2,1339.6a13.5,13.5 0 1,0 27.0,0a13.5,13.5 0 1,0 -27.0,0ZM408.6,1348.1a13.5,13.5 0 1,0 27.0,0a13.5,13.5 0 1,0 -27.0,0ZM405.9,1340.2a13.5,13.5 0 1,0 27.0,0a13.5,13.5 0 1,0 -27.0,0ZM403.3,1350.0a13.5,13.5 0 1,0 27.0,0a13.5,13.5 0 1,0 -27.0,0ZM400.7,1340.3a13.5,13.5 0 1,0 27.0,0a13.5,13.5 0 1,0 -27.0,0ZM398.1,1359.4a13.5,13.5 0 1,0 27.0,0a13.5,13.5 0 1,0 -27.0,0ZM395.5,1329.4a13.5,13.5 0 1,0 27.0,0a13.5,13.5 0 1,0 -27.0,0ZM392.9,1348.4a13.5,13.5 0 1,0 27.0,0a13.5,13.5 0 1,0 -27.0,0ZM390.3,1359.4a13.5,13.5 0 1,0 27.0,0a13.5,13.5 0 1,0 -27.0,0ZM387.7,1345.4a13.5,13.5 0 1,0 27.0,0a13.5,13.5 0 1,0 -27.0,0ZM385.2,1346.9a13.5,13.5 0 1,0 27.0,0a13.5,13.5 0 1,0 -27.0,0ZM382.6,1341.5a13.5,13.5 0 1,0 27.0,0a13.5,13.5 0 1,0 -27.0,0ZM380.1,1354.9a13.5,13.5 0 1,0 27.0,0a13.5,13.5 0 1,0 -27.0,0ZM377.6,1339.0a13.5,13.5 0 1,0 27.0,0a13.5,13.5 0 1,0 -27.0,0ZM375.0,1322.5a13.5,13.5 0 1,0 27.0,0a13.5,13.5 0 1,0 -27.0,0ZM372.5,1356.3a13.5,13.5 0 1,0 27.0,0a13.5,13.5 0 1,0 -27.0,0ZM370.0,1339.6a13.5,13.5 0 1,0 27.0,0a13.5,13.5 0 1,0 -27.0,0ZM367.5,1346.3a13.5,13.5 0 1,0 27.0,0a13.5,13.5 0 1,0 -27.0,0ZM365.0,1341.1a13.5,13.5 0 1,0 27.0,0a13.5,13.5 0 1,0 -27.0,0ZM362.5,1361.8a13.5,13.5 0 1,0 27.0,0a13.5,13.5 0 1,0 -27.0,0ZM360.1,1355.0a13.5,13.5 0 1,0 27.0,0a13.5,13.5 0 1,0 -27.0,0ZM357.6,1338.4a13.5,13.5 0 1,0 27.0,0a13.5,13.5 0 1,0 -27.0,0ZM355.2,1343.5a13.5,13.5 0 1,0 27.0,0a13.5,13.5 0 1,0 -27.0,0ZM352.7,1326.2a13.5,13.5 0 1,0 27.0,0a13.5,13.5 0 1,0 -27.0,0ZM350.3,1350.4a13.5,13.5 0 1,0 27.0,0a13.5,13.5 0 1,0 -27.0,0ZM347.8,1341.3a13.5,13.5 0 1,0 27.0,0a13.5,13.5 0 1,0 -27.0,0ZM345.4,1322.5a13.5,13.5 0 1,0 27.0,0a13.5,13.5 0 1,0 -27.0,0ZM343.0,1351.0a13.5,13.5 0 1,0 27.0,0a13.5,13.5 0 1,0 -27.0,0ZM340.6,1352.4a13.5,13.5 0 1,0 27.0,0a13.5,13.5 0 1,0 -27.0,0ZM338.2,1343.5a13.5,13.5 0 1,0 27.0,0a13.5,13.5 0 1,0 -27.0,0ZM335.8,1343.6a13.5,13.5 0 1,0 27.0,0a13.5,13.5 0 1,0 -27.0,0ZM333.4,1334.4a13.5,13.5 0 1,0 27.0,0a13.5,13.5 0 1,0 -27.0,0ZM331.1,1341.8a13.5,13.5 0 1,0 27.0,0a13.5,13.5 0 1,0 -27.0,0ZM328.7,1350.9a13.5,13.5 0 1,0 27.0,0a13.5,13.5 0 1,0 -27.0,0ZM326.4,1340.9a13.5,13.5 0 1,0 27.0,0a13.5,13.5 0 1,0 -27.0,0ZM324.0,1322.5a13.5,13.5 0 1,0 27.0,0a13.5,13.5 0 1,0 -27.0,0ZM321.7,1330.0a13.5,13.5 0 1,0 27.0,0a13.5,13.5 0 1,0 -27.0,0ZM319.3,1363.8a13.5,13.5 0 1,0 27.0,0a13.5,13.5 0 1,0 -27.0,0ZM317.0,1344.6a13.5,13.5 0 1,0 27.0,0a13.5,13.5 0 1,0 -27.0,0ZM314.7,1352.1a13.5,13.5 0 1,0 27.0,0a13.5,13.5 0 1,0 -27.0,0ZM312.4,1336.7a13.5,13.5 0 1,0 27.0,0a13.5,13.5 0 1,0 -27.0,0ZM310.1,1344.9a13.5,13.5 0 1,0 27.0,0a13.5,13.5 0 1,0 -27.0,0ZM307.8,1323.1a13.5,13.5 0 1,0 27.0,0a13.5,13.5 0 1,0 -27.0,0Z"/>
<path fill="#008000" d="M2032.9,1340.8h25.4v25.4h-25.4ZM2021.0,1339.7h25.4v25.4h-25.4ZM2009.3,1340.7h25.4v25.4h-25.4ZM1997.7,1336.1h25.4v25.4h-25.4ZM1986.1,1321.5h25.4v25.4h-25.4ZM1974.7,1343.7h25.4v25.4h-25.4ZM1963.3,1325.7h25.4v25.4h-25.4ZM1952.0,1323.8h25.4v25.4h-25.4ZM1940.8,1335.6h25.4v25.4h-25.4ZM1929.7,1338.4h25.4v25.4h-25.4ZM1918.6,1330.4h25.4v25.4h-25.4ZM1907.7,1325.5h25.4v25.4h-25.4ZM1896.8,1320.2h25.4v25.4h-25.4ZM1886.0,1328.2h25.4v25.4h-25.4ZM1875.3,1323.2h25.4v25.4h-25.4ZM1864.6,1336.9h25.4v25.4h-25.4ZM1854.1,1338.8h25.4v25.4h-25.4ZM1843.6,1343.3h25.4v25.4h-25.4ZM1833.2,1337.9h25.4v25.4h-25.4ZM1822.8,1331.0h25.4v25.4h-25.4ZM1812.6,1326.1h25.4v25.4h-25.4ZM1802.4,1335.9h25.4v25.4h-25.4ZM1792.2,1320.3h25.4v25.4h-25.4ZM1782.2,1326.1h25.4v25.4h-25.4ZM1772.2,1329.2h25.4v25.4h-25.4ZM1762.3,1329.2h25.4v25.4h-25.4ZM1752.5,1308.8h25.4v25.4h-25.4ZM1742.7,1319.6h25.4v25.4h-25.4ZM1733.0,1323.9h25.4v25.4h-25.4ZM1723.4,1320.7h25.4v25.4h-25.4ZM1713.8,1297.5h25.4v25.4h-25.4ZM1704.3,1311.3h25.4v25.4h-25.4ZM1694.9,1296.9h25.4v25.4h-25.4ZM1685.5,1294.8h25.4v25.4h-25.4ZM1676.2,1319.3h25.4v25.4h-25.4ZM1667.0,1296.8h25.4v25.4h-25.4ZM1657.8,1308.8h25.4v25.4h-25.4ZM1648.7,1315.8h25.4v25.4h-25.4ZM1639.6,1312.6h25.4v25.4h-25.4ZM1630.6,1304.1h25.4v25.4h-25.4ZM1621.7,1301.6h25.4v25.4h-25.4ZM1612.8,1296.1h25.4v25.4h-25.4ZM1604.0,1299.2h25.4v25.4h-25.4ZM1595.3,1280.0h25.4v25.4h-25.4ZM1586.6,1272.7h25.4v25.4h-25.4ZM1577.9,1265.1h25.4v25.4h-25.4ZM1569.3,1268.0h25.4v25.4h-25.4ZM1560.8,1258.8h25.4v25.4h-25.4ZM1552.3,1256.0h25.4v25.4h-25.4ZM1543.9,1264.2h25.4v25.4h-25.4ZM1535.5,1261.1h25.4v25.4h-25.4ZM1527.2,1262.0h25.4v25.4h-25.4ZM1519.0,1260.7h25.4v25.4h-25.4ZM1510.8,1255.2h25.4v25.4h-25.4ZM1502.6,1268.1h25.4v25.4h-25.4ZM1494.5,1250.0h25.4v25.4h-25.4ZM1486.5,1237.3h25.4v25.4h-25.4ZM1478.5,1249.0h25.4v25.4h-25.4ZM1470.5,1229.1h25.4v25.4h-25.4ZM1462.6,1184.9h25.4v25.4h-25.4ZM1454.8,1197.8h25.4v25.4h-25.4ZM1447.0,1185.5h25.4v25.4h-25.4ZM1439.2,1171.7h25.4v25.4h-25.4ZM1431.5,1170.4h25.4v25.4h-25.4ZM1423.9,1162.2h25.4v25.4h-25.4ZM1416.3,1146.6h25.4v25.4h-25.4ZM1408.7,1133.7h25.4v25.4h-25.4ZM1401.2,1123.5h25.4v25.4h-25.4ZM1393.7,1105.0h25.4v25.4h-25.4ZM1386.3,1077.7h25.4v25.4h-25.4ZM1378.9,1069.0h25.4v25.4h-25.4ZM1371.6,1040.9h25.4v25.4h-25.4ZM1364.3,1031.7h25.4v25.4h-25.4ZM1357.1,1014.6h25.4v25.4h-25.4ZM1349.9,999.4h25.4v25.4h-25.4ZM1342.7,988.9h25.4v25.4h-25.4ZM1335.6,964.2h25.4v25.4h-25.4ZM1328.5,945.6h25.4v25.4h-25.4ZM1321.5,937.1h25.4v25.4h-25.4ZM1314.5,899.3h25.4v25.4h-25.4ZM1307.6,875.6h25.4v25.4h-25.4ZM1300.7,853.2h25.4v25.4h-25.4ZM1293.8,841.8h25.4v25.4h-25.4ZM1287.0,836.3h25.4v25.4h-25.4ZM1280.2,791.8h25.4v25.4h-25.4ZM1273.4,784.9h25.4v25.4h-25.4ZM1266.7,780.0h25.4v25.4h-25.4ZM1260.1,746.8h25.4v25.4h-25.4ZM1253.4,740.6h25.4v25.4h-25.4ZM1246.8,719.7h25.4v25.4h-25.4ZM1240.3,709.6h25.4v25.4h-25.4ZM1233.8,690.4h25.4v25.4h-25.4ZM1227.3,684.0h25.4v25.4h-25.4ZM1220.9,680.8h25.4v25.4h-25.4ZM1214.4,679.1h25.4v25.4h-25.4ZM1208.1,671.8h25.4v25.4h-25.4ZM1201.7,689.8h25.4v25.4h-25.4ZM1195.4,668.9h25.4v25.4h-25.4ZM1189.2,675.5h25.4v25.4h-25.4ZM1183.0,696.9h25.4v25.4h-25.4ZM1176.8,690.3h25.4v25.4h-25.4ZM1170.6,701.0h25.4v25.4h-25.4ZM1164.5,692.9h25.4v25.4h-25.4ZM1158.4,678.3h25.4v25.4h-25.4ZM1152.3,716.9h25.4v25.4h-25.4ZM1146.3,707.9h25.4v25.4h-25.4ZM1140.3,729.3h25.4v25.4h-25.4ZM1134.3,758.0h25.4v25.4h-25.4ZM1128.4,757.4h25.4v25.4h-25.4ZM1122.5,810.9h25.4v25.4h-25.4ZM1116.7,817.9h25.4v25.4h-25.4ZM1110.8,824.8h25.4v25.4h-25.4ZM1105.0,903.2h25.4v25.4h-25.4ZM1099.3,929.5h25.4v25.4h-25.4ZM1093.5,943.3h25.4v25.4h-25.4ZM1087.8,947.4h25.4v25.4h-25.4ZM1082.2,994.2h25.4v25.4h-25.4ZM1076.5,1013.0h25.4v25.4h-25.4ZM1070.9,1071.2h25.4v25.4h-25.4ZM1065.3,1075.7h25.4v25.4h-25.4ZM1059.7,1090.4h25.4v25.4h-25.4ZM1054.2,1106.3h25.4v25.4h-25.4ZM1048.7,1109.1h25.4v25.4h-25.4ZM1043.3,1110.1h25.4v25.4h-25.4ZM1037.8,1145.5h25.4v25.4h-25.4ZM1032.4,1175.4h25.4v25.4h-25.4ZM1027.0,1178.4h25.4v25.4h-25.4ZM1021.7,1200.5h25.4v25.4h-25.4ZM1016.3,1236.0h25.4v25.4h-25.4ZM1011.0,1250.8h25.4v25.4h-25.4ZM1005.8,1274.1h25.4v25.4h-25.4ZM1000.5,1282.3h25.4v25.4h-25.4ZM995.3,1291.2h25.4v25.4h-25.4ZM990.1,1288.8h25.4v25.4h-25.4ZM984.9,1300.9h25.4v25.4h-25.4ZM979.8,1300.9h25.4v25.4h-25.4ZM974.7,1300.5h25.4v25.4h-25.4ZM969.6,1297.7h25.4v25.4h-25.4ZM964.5,1298.2h25.4v25.4h-25.4ZM959.5,1310.6h25.4v25.4h-25.4ZM954.5,1299.9h25.4v25.4h-25.4ZM949.5,1305.2h25.4v25.4h-25.4ZM944.5,1301.0h25.4v25.4h-25.4ZM939.6,1302.3h25.4v25.4h-25.4ZM934.7,1311.0h25.4v25.4h-25.4ZM929.8,1308.5h25.4v25.4h-25.4ZM924.9,1310.7h25.4v25.4h-25.4ZM920.1,1307.7h25.4v25.4h-25.4ZM915.3,1301.5h25.4v25.4h-25.4ZM910.5,1310.4h25.4v25.4h-25.4ZM905.7,1314.8h25.4v25.4h-25.4ZM900.9,1301.4h25.4v25.4h-25.4ZM896.2,1317.8h25.4v25.4h-25.4ZM891.5,1313.3h25.4v25.4h-25.4ZM886.8,1314.0h25.4v25.4h-25.4ZM882.2,1321.6h25.4v25.4h-25.4ZM877.6,1310.6h25.4v25.4h-25.4ZM872.9,1309.2h25.4v25.4h-25.4ZM868.4,1317.0h25.4v25.4h-25.4ZM863.8,1316.7h25.4v25.4h-25.4ZM859.2,1318.8h25.4v25.4h-25.4ZM854.7,1331.7h25.4v25.4h-25.4ZM850.2,1316.6h25.4v25.4h-25.4ZM845.7,1329.5h25.4v25.4h-25.4ZM841.3,1327.8h25.4v25.4h-25.4ZM836.8,1316.0h25.4v25.4h-25.4ZM832.4,1311.1h25.4v25.4h-25.4ZM828.0,1328.6h25.4v25.4h-25.4ZM823.6,1308.5h25.4v25.4h-25.4ZM819.3,1301.8h25.4v25.4h-25.4ZM815.0,1318.4h25.4v25.4h-25.4ZM810.6,1320.9h25.4v25.4h-25.4ZM806.3,1318.0h25.4v25.4h-25.4ZM802.1,1324.3h25.4v25.4h-25.4ZM797.8,1329.0h25.4v25.4h-25.4ZM793.6,1313.4h25.4v25.4h-25.4ZM789.4,1312.7h25.4v25.4h-25.4ZM785.2,1325.3h25.4v25.4h-25.4ZM781.0,1324.3h25.4v25.4h-25.4ZM776.8,1326.6h25.4v25.4h-25.4ZM772.7,1327.4h25.4v25.4h-25.4ZM768.6,1330.1h25.4v25.4h-25.4ZM764.5,1335.7h25.4v25.4h-25.4ZM760.4,1310.8h25.4v25.4h-25.4ZM756.3,1323.7h25.4v25.4h-25.4ZM752.3,1319.4h25.4v25.4h-25.4ZM748.2,1301.6h25.4v25.4h-25.4ZM744.2,1325.1h25.4v25.4h-25.4ZM740.2,1314.1h25.4v25.4h-25.4ZM736.3,1334.1h25.4v25.4h-25.4ZM732.3,1326.6h25.4v25.4h-25.4ZM728.4,1313.0h25.4v25.4h-25.4ZM724.4,1322.8h25.4v25.4h-25.4ZM720.5,1334.9h25.4v25.4h-25.4ZM716.6,1336.0h25.4v25.4h-25.4ZM712.8,1316.7h25.4v25.4h-25.4ZM708.9,1329.8h25.4v25.4h-25.4ZM705.1,1313.2h25.4v25.4h-25.4ZM701.3,1317.4h25.4v25.4h-25.4ZM697.5,1323.5h25.4v25.4h-25.4ZM693.7,1320.9h25.4v25.4h-25.4ZM689.9,1312.5h25.4v25.4h-25.4ZM686.2,1319.9h25.4v25.4h-25.4ZM682.4,1330.0h25.4v25.4h-25.4ZM678.7,1316.8h25.4v25.4h-25.4ZM675.0,1323.9h25.4v25.4h-25.4ZM671.3,1322.6h25.4v25.4h-25.4ZM667.6,1314.4h25.4v25.4h-25.4ZM664.0,1316.9h25.4v25.4h-25.4ZM660.3,1309.8h25.4v25.4h-25.4ZM656.7,1322.1h25.4v25.4h-25.4ZM653.1,1324.9h25.4v25.4h-25.4ZM649.5,1323.7h25.4v25.4h-25.4ZM645.9,1316.4h25.4v25.4h-25.4ZM642.3,1328.5h25.4v25.4h-25.4ZM638.8,1323.9h25.4v25.4h-25.4ZM635.3,1328.8h25.4v25.4h-25.4ZM631.7,1328.1h25.4v25.4h-25.4ZM628.2,1322.0h25.4v25.4h-25.4ZM624.7,1299.4h25.4v25.4h-25.4ZM621.3,1324.1h25.4v25.4h-25.4ZM617.8,1317.6h25.4v25.4h-25.4ZM614.4,1319.2h25.4v25.4h-25.4ZM610.9,1322.0h25.4v25.4h-25.4ZM607.5,1319.9h25.4v25.4h-25.4ZM604.1,1300.3h25.4v25.4h-25.4ZM600.7,1322.8h25.4v25.4h-25.4ZM597.3,1303.9h25.4v25.4h-25.4ZM594.0,1313.6h25.4v25.4h-25.4ZM590.6,1329.0h25.4v25.4h-25.4ZM587.3,1326.7h25.4v25.4h-25.4ZM584.0,1324.8h25.4v25.4h-25.4ZM580.7,1331.2h25.4v25.4h-25.4ZM577.4,1308.5h25.4v25.4h-25.4ZM574.1,1316.0h25.4v25.4h-25.4ZM570.8,1314.8h25.4v25.4h-25.4ZM567.5,1330.6h25.4v25.4h-25.4ZM564.3,1315.4h25.4v25.4h-25.4ZM561.1,1325.6h25.4v25.4h-25.4ZM557.9,1299.4h25.4v25.4h-25.4ZM554.7,1321.1h25.4v25.4h-25.4ZM551.5,1317.3h25.4v25.4h-25.4ZM548.3,1316.0h25.4v25.4h-25.4ZM545.1,1324.9h25.4v25.4h-25.4ZM542.0,1324.1h25.4v25.4h-25.4ZM538.8,1324.1h25.4v25.4h-25.4ZM535.7,1311.5h25.4v25.4h-25.4ZM532.6,1327.5h25.4v25.4h-25.4ZM529.5,1321.8h25.4v25.4h-25.4ZM526.4,1316.8h25.4v25.4h-25.4ZM523.3,1324.3h25.4v25.4h-25.4ZM520.3,1333.9h25.4v25.4h-25.4ZM517.2,1332.2h25.4v25.4h-25.4ZM514.2,1324.4h25.4v25.4h-25.4ZM511.1,1329.9h25.4v25.4h-25.4ZM508.1,1310.4h25.4v25.4h-25.4ZM505.1,1320.0h25.4v25.4h-25.4ZM502.1,1320.4h25.4v25.4h-25.4ZM499.1,1330.4h25.4v25.4h-25.4ZM496.1,1314.9h25.4v25.4h-25.4ZM493.2,1323.8h25.4v25.4h-25.4ZM490.2,1329.8h25.4v25.4h-25.4ZM487.3,1326.7h25.4v25.4h-25.4ZM484.4,1299.4h25.4v25.4h-25.4ZM481.5,1326.4h25.4v25.4h-25.4ZM478.6,1329.0h25.4v25.4h-25.4ZM475.7,1308.6h25.4v25.4h-25.4ZM472.8,1312.8h25.4v25.4h-25.4ZM469.9,1323.1h25.4v25.4h-25.4ZM467.0,1306.4h25.4v25.4h-25.4ZM464.2,1335.0h25.4v25.4h-25.4ZM461.4,1325.1h25.4v25.4h-25.4ZM458.5,1336.8h25.4v25.4h-25.4ZM455.7,1306.5h25.4v25.4h-25.4ZM452.9,1319.9h25.4v25.4h-25.4ZM450.1,1299.4h25.4v25.4h-25.4ZM447.3,1315.7h25.4v25.4h-25.4ZM444.5,1315.5h25.4v25.4h-25.4ZM441.8,1331.7h25.4v25.4h-25.4ZM439.0,1332.3h25.4v25.4h-25.4ZM436.3,1325.3h25.4v25.4h-25.4ZM433.5,1311.4h25.4v25.4h-25.4ZM430.8,1331.0h25.4v25.4h-25.4ZM428.1,1340.9h25.4v25.4h-25.4ZM425.4,1312.1h25.4v25.4h-25.4ZM422.7,1311.5h25.4v25.4h-25.4ZM420.0,1329.9h25.4v25.4h-25.4ZM417.3,1316.3h25.4v25.4h-25.4ZM414.7,1309.5h25.4v25.4h-25.4ZM412.0,1309.0h25.4v25.4h-25.4ZM409.4,1336.6h25.4v25.4h-25.4ZM406.7,1320.3h25.4v25.4h-25.4ZM404.1,1328.7h25.4v25.4h-25.4ZM401.5,1311.3h25.4v25.4h-25.4ZM398.9,1320.1h25.4v25.4h-25.4ZM396.3,1333.2h25.4v25.4h-25.4ZM393.7,1320.0h25.4v25.4h-25.4ZM391.1,1315.1h25.4v25.4h-25.4ZM388.5,1336.8h25.4v25.4h-25.4ZM386.0,1334.8h25.4v25.4h-25.4ZM383.4,1328.1h25.4v25.4h-25.4ZM380.9,1324.3h25.4v25.4h-25.4ZM378.4,1327.0h25.4v25.4h-25.4ZM375.8,1339.8h25.4v25.4h-25.4ZM373.3,1337.1h25.4v25.4h-25.4ZM370.8,1321.7h25.4v25.4h-25.4ZM368.3,1317.2h25.4v25.4h-25.4ZM365.8,1330.3h25.4v25.4h-25.4ZM363.3,1319.6h25.4v25.4h-25.4ZM360.9,1302.3h25.4v25.4h-25.4ZM358.4,1323.4h25.4v25.4h-25.4ZM356.0,1325.7h25.4v25.4h-25.4ZM353.5,1328.4h25.4v25.4h-25.4ZM351.1,1316.4h25.4v25.4h-25.4ZM348.6,1318.8h25.4v25.4h-25.4ZM346.2,1318.5h25.4v25.4h-25.4ZM343.8,1324.8h25.4v25.4h-25.4ZM341.4,1316.8h25.4v25.4h-25.4ZM339.0,1316.8h25.4v25.4h-25.4ZM336.6,1322.4h25.4v25.4h-25.4ZM334.2,1309.2h25.4v25.4h-25.4ZM331.9,1336.6h25.4v25.4h-25.4ZM329.5,1313.6h25.4v25.4h-25.4ZM327.2,1322.1h25.4v25.4h-25.4ZM324.8,1312.2h25.4v25.4h-25.4ZM322.5,1301.4h25.4v25.4h-25.4ZM320.1,1320.2h25.4v25.4h-25.4ZM317.8,1322.6h25.4v25.4h-25.4ZM315.5,1320.8h25.4v25.4h-25.4ZM313.2,1306.5h25.4v25.4h-25.4ZM310.9,1304.9h25.4v25.4h-25.4ZM308.6,1318.8h25.4v25.4h-25.4Z"/>
<path fill="#ff0000" d="M2045.6,1325.7L2062.1,1355.7L2029.1,1355.7ZM2033.7,1333.0L2050.2,1363.0L2017.2,1363.0ZM2022.0,1325.2L2038.5,1355.2L2005.5,1355.2ZM2010.4,1329.6L2026.9,1359.6L1993.9,1359.6ZM1998.8,1341.6L2015.3,1371.6L1982.3,1371.6ZM1987.4,1323.7L2003.9,1353.7L1970.9,1353.7ZM1976.0,1332.2L1992.5,1362.2L1959.5,1362.2ZM1964.7,1327.9L1981.2,1357.9L1948.2,1357.9ZM1953.5,1320.0L1970.0,1350.0L1937.0,1350.0ZM1942.4,1332.0L1958.9,1362.0L1925.9,1362.0ZM1931.3,1342.2L1947.8,1372.2L1914.8,1372.2ZM1920.4,1340.0L1936.9,1370.0L1903.9,1370.0ZM1909.5,1328.5L1926.0,1358.5L1893.0,1358.5ZM1898.7,1346.2L1915.2,1376.2L1882.2,1376.2ZM1888.0,1334.1L1904.5,1364.1L1871.5,1364.1ZM1877.3,1333.2L1893.8,1363.2L1860.8,1363.2ZM1866.8,1343.8L1883.3,1373.8L1850.3,1373.8ZM1856.3,1334.3L1872.8,1364.3L1839.8,1364.3ZM1845.9,1331.3L1862.4,1361.3L1829.4,1361.3ZM1835.5,1340.3L1852.0,1370.3L1819.0,1370.3ZM1825.3,1337.9L1841.8,1367.9L1808.8,1367.9ZM1815.1,1330.4L1831.6,1360.4L1798.6,1360.4ZM1804.9,1342.8L1821.4,1372.8L1788.4,1372.8ZM1794.9,1339.4L1811.4,1369.4L1778.4,1369.4ZM1784.9,1325.7L1801.4,1355.7L1768.4,1355.7ZM1775.0,1330.3L1791.5,1360.3L1758.5,1360.3ZM1765.2,1339.0L1781.7,1369.0L1748.7,1369.0ZM1755.4,1327.4L1771.9,1357.4L1738.9,1357.4ZM1745.7,1312.4L1762.2,1342.4L1729.2,1342.4ZM1736.1,1335.0L1752.6,1365.0L1719.6,1365.0ZM1726.5,1317.9L1743.0,1347.9L1710.0,1347.9ZM1717.0,1317.7L1733.5,1347.7L1700.5,1347.7ZM1707.6,1323.5L1724.1,1353.5L1691.1,1353.5ZM1698.2,1316.9L1714.7,1346.9L1681.7,1346.9ZM1688.9,1322.1L1705.4,1352.1L1672.4,1352.1ZM1679.7,1302.3L1696.2,1332.3L1663.2,1332.3ZM1670.5,1298.5L1687.0,1328.5L1654.0,1328.5ZM1661.4,1316.3L1677.9,1346.3L1644.9,1346.3ZM1652.3,1311.7L1668.8,1341.7L1635.8,1341.7ZM1643.3,1309.4L1659.8,1339.4L1626.8,1339.4ZM1634.4,1314.6L1650.9,1344.6L1617.9,1344.6ZM1625.5,1307.8L1642.0,1337.8L1609.0,1337.8ZM1616.7,1317.4L1633.2,1347.4L1600.2,1347.4ZM1608.0,1306.3L1624.5,1336.3L1591.5,1336.3ZM1599.3,1312.1L1615.8,1342.1L1582.8,1342.1ZM1590.6,1309.1L1607.1,1339.1L1574.1,1339.1ZM1582.0,1303.6L1598.5,1333.6L1565.5,1333.6ZM1573.5,1298.3L1590.0,1328.3L1557.0,1328.3ZM1565.0,1309.3L1581.5,1339.3L1548.5,1339.3ZM1556.6,1295.7L1573.1,1325.7L1540.1,1325.7ZM1548.2,1294.0L1564.7,1324.0L1531.7,1324.0ZM1539.9,1299.8L1556.4,1329.8L1523.4,1329.8ZM1531.7,1287.8L1548.2,1317.8L1515.2,1317.8ZM1523.5,1302.1L1540.0,1332.1L1507.0,1332.1ZM1515.3,1299.5L1531.8,1329.5L1498.8,1329.5ZM1507.2,1292.3L1523.7,1322.3L1490.7,1322.3ZM1499.2,1297.5L1515.7,1327.5L1482.7,1327.5ZM1491.2,1283.1L1507.7,1313.1L1474.7,1313.1ZM1483.2,1288.3L1499.7,1318.3L1466.7,1318.3ZM1475.3,1276.9L1491.8,1306.9L1458.8,1306.9ZM1467.5,1289.1L1484.0,1319.1L1451.0,1319.1ZM1459.7,1282.9L1476.2,1312.9L1443.2,1312.9ZM1451.9,1263.0L1468.4,1293.0L1435.4,1293.0ZM1444.2,1267.9L1460.7,1297.9L1427.7,1297.9ZM1436.6,1243.3L1453.1,1273.3L1420.1,1273.3ZM1429.0,1242.6L1445.5,1272.6L1412.5,1272.6ZM1421.4,1224.0L1437.9,1254.0L1404.9,1254.0ZM1413.9,1206.2L1430.4,1236.2L1397.4,1236.2ZM1406.4,1202.5L1422.9,1232.5L1389.9,1232.5ZM1399.0,1198.8L1415.5,1228.8L1382.5,1228.8ZM1391.6,1180.6L1408.1,1210.6L1375.1,1210.6ZM1384.3,1146.9L1400.8,1176.9L1367.8,1176.9ZM1377.0,1127.7L1393.5,1157.7L1360.5,1157.7ZM1369.8,1103.3L1386.3,1133.3L1353.3,1133.3ZM1362.6,1090.6L1379.1,1120.6L1346.1,1120.6ZM1355.4,1072.7L1371.9,1102.7L1338.9,1102.7ZM1348.3,1059.5L1364.8,1089.5L1331.8,1089.5ZM1341.2,1049.2L1357.7,1079.2L1324.7,1079.2ZM1334.2,1019.6L1350.7,1049.6L1317.7,1049.6ZM1327.2,1003.4L1343.7,1033.4L1310.7,1033.4ZM1320.3,1000.0L1336.8,1030.0L1303.8,1030.0ZM1313.4,960.9L1329.9,990.9L1296.9,990.9ZM1306.5,924.9L1323.0,954.9L1290.0,954.9ZM1299.7,890.6L1316.2,920.6L1283.2,920.6ZM1292.9,893.7L1309.4,923.7L1276.4,923.7ZM1286.1,855.8L1302.6,885.8L1269.6,885.8ZM1279.4,824.8L1295.9,854.8L1262.9,854.8ZM1272.8,798.6L1289.3,828.6L1256.3,828.6ZM1266.1,787.3L1282.6,817.3L1249.6,817.3ZM1259.5,749.0L1276.0,779.0L1243.0,779.0ZM1253.0,723.8L1269.5,753.8L1236.5,753.8ZM1246.5,685.6L1263.0,715.6L1230.0,715.6ZM1240.0,654.7L1256.5,684.7L1223.5,684.7ZM1233.6,629.4L1250.1,659.4L1217.1,659.4ZM1227.1,619.2L1243.6,649.2L1210.6,649.2ZM1220.8,601.7L1237.3,631.7L1204.3,631.7ZM1214.4,584.9L1230.9,614.9L1197.9,614.9ZM1208.1,563.3L1224.6,593.3L1191.6,593.3ZM1201.9,553.4L1218.4,583.4L1185.4,583.4ZM1195.7,553.8L1212.2,583.8L1179.2,583.8ZM1189.5,555.4L1206.0,585.4L1173.0,585.4ZM1183.3,555.5L1199.8,585.5L1166.8,585.5ZM1177.2,558.6L1193.7,588.6L1160.7,588.6ZM1171.1,566.5L1187.6,596.5L1154.6,596.5ZM1165.0,573.6L1181.5,603.6L1148.5,603.6ZM1159.0,591.8L1175.5,621.8L1142.5,621.8ZM1153.0,599.4L1169.5,629.4L1136.5,629.4ZM1147.0,617.8L1163.5,647.8L1130.5,647.8ZM1141.1,628.2L1157.6,658.2L1124.6,658.2ZM1135.2,654.4L1151.7,684.4L1118.7,684.4ZM1129.4,690.3L1145.9,720.3L1112.9,720.3ZM1123.5,711.1L1140.0,741.1L1107.0,741.1ZM1117.7,733.0L1134.2,763.0L1101.2,763.0ZM1112.0,754.3L1128.5,784.3L1095.5,784.3ZM1106.2,769.9L1122.7,799.9L1089.7,799.9ZM1100.5,811.6L1117.0,841.6L1084.0,841.6ZM1094.9,842.9L1111.4,872.9L1078.4,872.9ZM1089.2,881.2L1105.7,911.2L1072.7,911.2ZM1083.6,894.8L1100.1,924.8L1067.1,924.8ZM1078.0,937.2L1094.5,967.2L1061.5,967.2ZM1072.4,961.2L1088.9,991.2L1055.9,991.2ZM1066.9,992.6L1083.4,1022.6L1050.4,1022.6ZM1061.4,1008.5L1077.9,1038.5L1044.9,1038.5ZM1056.0,1040.3L1072.5,1070.3L1039.5,1070.3ZM1050.5,1060.7L1067.0,1090.7L1034.0,1090.7ZM1045.1,1091.1L1061.6,1121.1L1028.6,1121.1ZM1039.7,1109.2L1056.2,1139.2L1023.2,1139.2ZM1034.4,1118.0L1050.9,1148.0L1017.9,1148.0ZM1029.0,1137.6L1045.5,1167.6L1012.5,1167.6ZM1023.7,1179.1L1040.2,1209.1L1007.2,1209.1ZM1018.5,1189.1L1035.0,1219.1L1002.0,1219.1ZM1013.2,1211.6L1029.7,1241.6L996.7,1241.6ZM1008.0,1223.8L1024.5,1253.8L991.5,1253.8ZM1002.8,1262.5L1019.3,1292.5L986.3,1292.5ZM997.6,1272.5L1014.1,1302.5L981.1,1302.5ZM992.5,1284.0L1009.0,1314.0L976.0,1314.0ZM987.4,1281.1L1003.9,1311.1L970.9,1311.1ZM982.3,1284.1L998.8,1314.1L965.8,1314.1ZM977.2,1292.9L993.7,1322.9L960.7,1322.9ZM972.2,1285.1L988.7,1315.1L955.7,1315.1ZM967.2,1283.7L983.7,1313.7L950.7,1313.7ZM962.2,1297.9L978.7,1327.9L945.7,1327.9ZM957.2,1293.4L973.7,1323.4L940.7,1323.4ZM952.3,1298.1L968.8,1328.1L935.8,1328.1ZM947.4,1301.1L963.9,1331.1L930.9,1331.1ZM942.5,1300.8L959.0,1330.8L926.0,1330.8ZM937.6,1300.3L954.1,1330.3L921.1,1330.3ZM932.8,1306.5L949.3,1336.5L916.3,1336.5ZM928.0,1300.9L944.5,1330.9L911.5,1330.9ZM923.2,1297.1L939.7,1327.1L906.7,1327.1ZM918.4,1307.1L934.9,1337.1L901.9,1337.1ZM913.6,1305.7L930.1,1335.7L897.1,1335.7ZM908.9,1308.6L925.4,1338.6L892.4,1338.6ZM904.2,1302.7L920.7,1332.7L887.7,1332.7ZM899.5,1306.0L916.0,1336.0L883.0,1336.0ZM894.9,1301.2L911.4,1331.2L878.4,1331.2ZM890.3,1309.0L906.8,1339.0L873.8,1339.0ZM885.6,1317.1L902.1,1347.1L869.1,1347.1ZM881.1,1304.9L897.6,1334.9L864.6,1334.9ZM876.5,1311.4L893.0,1341.4L860.0,1341.4ZM871.9,1301.6L888.4,1331.6L855.4,1331.6ZM867.4,1305.0L883.9,1335.0L850.9,1335.0ZM862.9,1327.2L879.4,1357.2L846.4,1357.2ZM858.4,1328.2L874.9,1358.2L841.9,1358.2ZM854.0,1311.8L870.5,1341.8L837.5,1341.8ZM849.5,1319.2L866.0,1349.2L833.0,1349.2ZM845.1,1331.5L861.6,1361.5L828.6,1361.5ZM840.7,1318.1L857.2,1348.1L824.2,1348.1ZM836.3,1299.8L852.8,1329.8L819.8,1329.8ZM832.0,1306.4L848.5,1336.4L815.5,1336.4ZM827.7,1322.1L844.2,1352.1L811.2,1352.1ZM823.3,1310.0L839.8,1340.0L806.8,1340.0ZM819.0,1302.4L835.5,1332.4L802.5,1332.4ZM814.8,1314.8L831.3,1344.8L798.3,1344.8ZM810.5,1294.6L827.0,1324.6L794.0,1324.6ZM806.3,1320.3L822.8,1350.3L789.8,1350.3ZM802.1,1292.1L818.6,1322.1L785.6,1322.1ZM797.9,1297.0L814.4,1327.0L781.4,1327.0ZM793.7,1307.5L810.2,1337.5L777.2,1337.5ZM789.5,1310.6L806.0,1340.6L773.0,1340.6ZM785.4,1312.6L801.9,1342.6L768.9,1342.6ZM781.3,1322.6L797.8,1352.6L764.8,1352.6ZM777.2,1302.7L793.7,1332.7L760.7,1332.7ZM773.1,1299.7L789.6,1329.7L756.6,1329.7ZM769.0,1304.8L785.5,1334.8L752.5,1334.8ZM765.0,1310.0L781.5,1340.0L748.5,1340.0ZM760.9,1311.8L777.4,1341.8L744.4,1341.8ZM756.9,1322.6L773.4,1352.6L740.4,1352.6ZM752.9,1319.7L769.4,1349.7L736.4,1349.7ZM749.0,1327.9L765.5,1357.9L732.5,1357.9ZM745.0,1307.9L761.5,1337.9L728.5,1337.9ZM741.1,1322.2L757.6,1352.2L724.6,1352.2ZM737.1,1304.2L753.6,1334.2L720.6,1334.2ZM733.2,1319.8L749.7,1349.8L716.7,1349.8ZM729.3,1298.2L745.8,1328.2L712.8,1328.2ZM725.5,1296.6L742.0,1326.6L709.0,1326.6ZM721.6,1297.0L738.1,1327.0L705.1,1327.0ZM717.8,1301.0L734.3,1331.0L701.3,1331.0ZM714.0,1316.0L730.5,1346.0L697.5,1346.0ZM710.2,1316.1L726.7,1346.1L693.7,1346.1ZM706.4,1320.5L722.9,1350.5L689.9,1350.5ZM702.6,1309.5L719.1,1339.5L686.1,1339.5ZM698.9,1295.5L715.4,1325.5L682.4,1325.5ZM695.1,1324.2L711.6,1354.2L678.6,1354.2ZM691.4,1292.1L707.9,1322.1L674.9,1322.1ZM687.7,1318.8L704.2,1348.8L671.2,1348.8ZM684.0,1325.0L700.5,1355.0L667.5,1355.0ZM680.3,1309.4L696.8,1339.4L663.8,1339.4ZM676.7,1301.7L693.2,1331.7L660.2,1331.7ZM673.0,1316.6L689.5,1346.6L656.5,1346.6ZM669.4,1323.5L685.9,1353.5L652.9,1353.5ZM665.8,1294.7L682.3,1324.7L649.3,1324.7ZM662.2,1324.3L678.7,1354.3L645.7,1354.3ZM658.6,1302.6L675.1,1332.6L642.1,1332.6ZM655.0,1311.3L671.5,1341.3L638.5,1341.3ZM651.5,1316.8L668.0,1346.8L635.0,1346.8ZM648.0,1312.4L664.5,1342.4L631.5,1342.4ZM644.4,1324.2L660.9,1354.2L627.9,1354.2ZM640.9,1324.4L657.4,1354.4L624.4,1354.4ZM637.4,1309.7L653.9,1339.7L620.9,1339.7ZM634.0,1323.7L650.5,1353.7L617.5,1353.7ZM630.5,1320.9L647.0,1350.9L614.0,1350.9ZM627.1,1297.9L643.6,1327.9L610.6,1327.9ZM623.6,1294.2L640.1,1324.2L607.1,1324.2ZM620.2,1301.4L636.7,1331.4L603.7,1331.4ZM616.8,1303.6L633.3,1333.6L600.3,1333.6ZM613.4,1315.5L629.9,1345.5L596.9,1345.5ZM610.0,1311.9L626.5,1341.9L593.5,1341.9ZM606.7,1320.5L623.2,1350.5L590.2,1350.5ZM603.3,1333.6L619.8,1363.6L586.8,1363.6ZM600.0,1310.9L616.5,1340.9L583.5,1340.9ZM596.7,1310.6L613.2,1340.6L580.2,1340.6ZM593.4,1302.7L609.9,1332.7L576.9,1332.7ZM590.1,1325.3L606.6,1355.3L573.6,1355.3ZM586.8,1301.0L603.3,1331.0L570.3,1331.0ZM583.5,1318.5L600.0,1348.5L567.0,1348.5ZM580.2,1325.8L596.7,1355.8L563.7,1355.8ZM577.0,1315.6L593.5,1345.6L560.5,1345.6ZM573.8,1303.3L590.3,1333.3L557.3,1333.3ZM570.6,1313.1L587.1,1343.1L554.1,1343.1ZM567.4,1308.4L583.9,1338.4L550.9,1338.4ZM564.2,1322.1L580.7,1352.1L547.7,1352.1ZM561.0,1308.0L577.5,1338.0L544.5,1338.0ZM557.8,1302.8L574.3,1332.8L541.3,1332.8ZM554.7,1322.1L571.2,1352.1L538.2,1352.1ZM551.5,1308.6L568.0,1338.6L535.0,1338.6ZM548.4,1326.9L564.9,1356.9L531.9,1356.9ZM545.3,1310.6L561.8,1340.6L528.8,1340.6ZM542.2,1328.5L558.7,1358.5L525.7,1358.5ZM539.1,1308.8L555.6,1338.8L522.6,1338.8ZM536.0,1313.0L552.5,1343.0L519.5,1343.0ZM533.0,1324.6L549.5,1354.6L516.5,1354.6ZM529.9,1309.2L546.4,1339.2L513.4,1339.2ZM526.9,1323.2L543.4,1353.2L510.4,1353.2ZM523.8,1312.1L540.3,1342.1L507.3,1342.1ZM520.8,1322.4L537.3,1352.4L504.3,1352.4ZM517.8,1307.4L534.3,1337.4L501.3,1337.4ZM514.8,1318.8L531.3,1348.8L498.3,1348.8ZM511.8,1298.1L528.3,1328.1L495.3,1328.1ZM508.8,1308.2L525.3,1338.2L492.3,1338.2ZM505.9,1307.4L522.4,1337.4L489.4,1337.4ZM502.9,1326.7L519.4,1356.7L486.4,1356.7ZM500.0,1333.6L516.5,1363.6L483.5,1363.6ZM497.1,1321.2L513.6,1351.2L480.6,1351.2ZM494.2,1294.1L510.7,1324.1L477.7,1324.1ZM491.3,1322.6L507.8,1352.6L474.8,1352.6ZM488.4,1300.2L504.9,1330.2L471.9,1330.2ZM485.5,1299.9L502.0,1329.9L469.0,1329.9ZM482.6,1318.9L499.1,1348.9L466.1,1348.9ZM479.7,1315.0L496.2,1345.0L463.2,1345.0ZM476.9,1299.3L493.4,1329.3L460.4,1329.3ZM474.1,1315.5L490.6,1345.5L457.6,1345.5ZM471.2,1317.1L487.7,1347.1L454.7,1347.1ZM468.4,1318.8L484.9,1348.8L451.9,1348.8ZM465.6,1312.1L482.1,1342.1L449.1,1342.1ZM462.8,1314.0L479.3,1344.0L446.3,1344.0ZM460.0,1300.1L476.5,1330.1L443.5,1330.1ZM457.2,1310.4L473.7,1340.4L440.7,1340.4ZM454.5,1300.6L471.0,1330.6L438.0,1330.6ZM451.7,1313.9L468.2,1343.9L435.2,1343.9ZM449.0,1292.1L465.5,1322.1L432.5,1322.1ZM446.2,1314.0L462.7,1344.0L429.7,1344.0ZM443.5,1314.3L460.0,1344.3L427.0,1344.3ZM440.8,1321.1L457.3,1351.1L424.3,1351.1ZM438.1,1330.3L454.6,1360.3L421.6,1360.3ZM435.4,1321.8L451.9,1351.8L418.9,1351.8ZM432.7,1310.6L449.2,1340.6L416.2,1340.6ZM430.0,1323.1L446.5,1353.1L413.5,1353.1ZM427.4,1304.2L443.9,1334.2L410.9,1334.2ZM424.7,1329.7L441.2,1359.7L408.2,1359.7ZM422.1,1330.1L438.6,1360.1L405.6,1360.1ZM419.4,1309.7L435.9,1339.7L402.9,1339.7ZM416.8,1308.9L433.3,1338.9L400.3,1338.9ZM414.2,1324.5L430.7,1354.5L397.7,1354.5ZM411.6,1301.6L428.1,1331.6L395.1,1331.6ZM409.0,1298.5L425.5,1328.5L392.5,1328.5ZM406.4,1309.0L422.9,1339.0L389.9,1339.0ZM403.8,1326.1L420.3,1356.1L387.3,1356.1ZM401.2,1299.9L417.7,1329.9L384.7,1329.9ZM398.7,1315.7L415.2,1345.7L382.2,1345.7ZM396.1,1314.6L412.6,1344.6L379.6,1344.6ZM393.6,1307.8L410.1,1337.8L377.1,1337.8ZM391.1,1319.9L407.6,1349.9L374.6,1349.9ZM388.5,1297.1L405.0,1327.1L372.0,1327.1ZM386.0,1319.2L402.5,1349.2L369.5,1349.2ZM383.5,1301.7L400.0,1331.7L367.0,1331.7ZM381.0,1304.7L397.5,1334.7L364.5,1334.7ZM378.5,1294.4L395.0,1324.4L362.0,1324.4ZM376.0,1307.5L392.5,1337.5L359.5,1337.5ZM373.6,1303.8L390.1,1333.8L357.1,1333.8ZM371.1,1316.7L387.6,1346.7L354.6,1346.7ZM368.7,1315.1L385.2,1345.1L352.2,1345.1ZM366.2,1318.9L382.7,1348.9L349.7,1348.9ZM363.8,1304.8L380.3,1334.8L347.3,1334.8ZM361.3,1319.3L377.8,1349.3L344.8,1349.3ZM358.9,1297.0L375.4,1327.0L342.4,1327.0ZM356.5,1313.7L373.0,1343.7L340.0,1343.7ZM354.1,1324.8L370.6,1354.8L337.6,1354.8ZM351.7,1319.4L368.2,1349.4L335.2,1349.4ZM349.3,1300.5L365.8,1330.5L332.8,1330.5ZM346.9,1317.5L363.4,1347.5L330.4,1347.5ZM344.6,1306.4L361.1,1336.4L328.1,1336.4ZM342.2,1328.7L358.7,1358.7L325.7,1358.7ZM339.9,1307.8L356.4,1337.8L323.4,1337.8ZM337.5,1304.4L354.0,1334.4L321.0,1334.4ZM335.2,1307.1L351.7,1337.1L318.7,1337.1ZM332.8,1304.2L349.3,1334.2L316.3,1334.2ZM330.5,1322.5L347.0,1352.5L314.0,1352.5ZM328.2,1329.3L344.7,1359.3L311.7,1359.3ZM325.9,1325.8L342.4,1355.8L309.4,1355.8ZM323.6,1303.6L340.1,1333.6L307.1,1333.6ZM321.3,1308.1L337.8,1338.1L304.8,1338.1Z"/>
<path fill="#800000" d="M2045.6,1363.0L2062.1,1333.0L2029.1,1333.0ZM2033.7,1372.6L2050.2,1342.6L2017.2,1342.6ZM2022.0,1371.0L2038.5,1341.0L2005.5,1341.0ZM2010.4,1365.2L2026.9,1335.2L1993.9,1335.2ZM1998.8,1367.5L2015.3,1337.5L1982.3,1337.5ZM1987.4,1369.2L2003.9,1339.2L1970.9,1339.2ZM1976.0,1376.1L1992.5,1346.1L1959.5,1346.1ZM1964.7,1380.6L1981.2,1350.6L1948.2,1350.6ZM1953.5,1370.7L1970.0,1340.7L1937.0,1340.7ZM1942.4,1377.0L1958.9,1347.0L1925.9,1347.0ZM1931.3,1367.5L1947.8,1337.5L1914.8,1337.5ZM1920.4,1371.9L1936.9,1341.9L1903.9,1341.9ZM1909.5,1378.6L1926.0,1348.6L1893.0,1348.6ZM1898.7,1371.5L1915.2,1341.5L1882.2,1341.5ZM1888.0,1368.4L1904.5,1338.4L1871.5,1338.4ZM1877.3,1372.1L1893.8,1342.1L1860.8,1342.1ZM1866.8,1378.9L1883.3,1348.9L1850.3,1348.9ZM1856.3,1371.5L1872.8,1341.5L1839.8,1341.5ZM1845.9,1370.9L1862.4,1340.9L1829.4,1340.9ZM1835.5,1367.6L1852.0,1337.6L1819.0,1337.6ZM1825.3,1368.3L1841.8,1338.3L1808.8,1338.3ZM1815.1,1379.7L1831.6,1349.7L1798.6,1349.7ZM1804.9,1376.8L1821.4,1346.8L1788.4,1346.8ZM1794.9,1369.2L1811.4,1339.2L1778.4,1339.2ZM1784.9,1385.1L1801.4,1355.1L1768.4,1355.1ZM1775.0,1367.9L1791.5,1337.9L1758.5,1337.9ZM1765.2,1379.1L1781.7,1349.1L1748.7,1349.1ZM1755.4,1376.2L1771.9,1346.2L1738.9,1346.2ZM1745.7,1363.2L1762.2,1333.2L1729.2,1333.2ZM1736.1,1373.5L1752.6,1343.5L1719.6,1343.5ZM1726.5,1375.1L1743.0,1345.1L1710.0,1345.1ZM1717.0,1371.0L1733.5,1341.0L1700.5,1341.0ZM1707.6,1373.4L1724.1,1343.4L1691.1,1343.4ZM1698.2,1377.0L1714.7,1347.0L1681.7,1347.0ZM1688.9,1370.8L1705.4,1340.8L1672.4,1340.8ZM1679.7,1358.7L1696.2,1328.7L1663.2,1328.7ZM1670.5,1366.0L1687.0,1336.0L1654.0,1336.0ZM1661.4,1369.1L1677.9,1339.1L1644.9,1339.1ZM1652.3,1370.1L1668.8,1340.1L1635.8,1340.1ZM1643.3,1366.3L1659.8,1336.3L1626.8,1336.3ZM1634.4,1367.3L1650.9,1337.3L1617.9,1337.3ZM1625.5,1377.1L1642.0,1347.1L1609.0,1347.1ZM1616.7,1367.7L1633.2,1337.7L1600.2,1337.7ZM1608.0,1370.5L1624.5,1340.5L1591.5,1340.5ZM1599.3,1359.0L1615.8,1329.0L1582.8,1329.0ZM1590.6,1371.7L1607.1,1341.7L1574.1,1341.7ZM1582.0,1361.2L1598.5,1331.2L1565.5,1331.2ZM1573.5,1376.8L1590.0,1346.8L1557.0,1346.8ZM1565.0,1366.1L1581.5,1336.1L1548.5,1336.1ZM1556.6,1372.1L1573.1,1342.1L1540.1,1342.1ZM1548.2,1372.2L1564.7,1342.2L1531.7,1342.2ZM1539.9,1360.0L1556.4,1330.0L1523.4,1330.0ZM1531.7,1370.6L1548.2,1340.6L1515.2,1340.6ZM1523.5,1363.8L1540.0,1333.8L1507.0,1333.8ZM1515.3,1366.1L1531.8,1336.1L1498.8,1336.1ZM1507.2,1357.9L1523.7,1327.9L1490.7,1327.9ZM1499.2,1357.2L1515.7,1327.2L1482.7,1327.2ZM1491.2,1369.2L1507.7,1339.2L1474.7,1339.2ZM1483.2,1351.2L1499.7,1321.2L1466.7,1321.2ZM1475.3,1356.7L1491.8,1326.7L1458.8,1326.7ZM1467.5,1339.6L1484.0,1309.6L1451.0,1309.6ZM1459.7,1343.4L1476.2,1313.4L1443.2,1313.4ZM1451.9,1340.4L1468.4,1310.4L1435.4,1310.4ZM1444.2,1353.2L1460.7,1323.2L1427.7,1323.2ZM1436.6,1330.5L1453.1,1300.5L1420.1,1300.5ZM1429.0,1335.6L1445.5,1305.6L1412.5,1305.6ZM1421.4,1338.1L1437.9,1308.1L1404.9,1308.1ZM1413.9,1324.7L1430.4,1294.7L1397.4,1294.7ZM1406.4,1312.1L1422.9,1282.1L1389.9,1282.1ZM1399.0,1315.4L1415.5,1285.4L1382.5,1285.4ZM1391.6,1288.8L1408.1,1258.8L1375.1,1258.8ZM1384.3,1283.6L1400.8,1253.6L1367.8,1253.6ZM1377.0,1271.2L1393.5,1241.2L1360.5,1241.2ZM1369.8,1255.5L1386.3,1225.5L1353.3,1225.5ZM1362.6,1242.3L1379.1,1212.3L1346.1,1212.3ZM1355.4,1220.2L1371.9,1190.2L1338.9,1190.2ZM1348.3,1205.8L1364.8,1175.8L1331.8,1175.8ZM1341.2,1187.0L1357.7,1157.0L1324.7,1157.0ZM1334.2,1171.7L1350.7,1141.7L1317.7,1141.7ZM1327.2,1172.9L1343.7,1142.9L1310.7,1142.9ZM1320.3,1147.9L1336.8,1117.9L1303.8,1117.9ZM1313.4,1144.9L1329.9,1114.9L1296.9,1114.9ZM1306.5,1107.2L1323.0,1077.2L1290.0,1077.2ZM1299.7,1093.5L1316.2,1063.5L1283.2,1063.5ZM1292.9,1060.7L1309.4,1030.7L1276.4,1030.7ZM1286.1,1021.4L1302.6,991.4L1269.6,991.4ZM1279.4,1000.2L1295.9,970.2L1262.9,970.2ZM1272.8,954.3L1289.3,924.3L1256.3,924.3ZM1266.1,937.4L1282.6,907.4L1249.6,907.4ZM1259.5,896.8L1276.0,866.8L1243.0,866.8ZM1253.0,845.9L1269.5,815.9L1236.5,815.9ZM1246.5,794.3L1263.0,764.3L1230.0,764.3ZM1240.0,779.9L1256.5,749.9L1223.5,749.9ZM1233.6,720.4L1250.1,690.4L1217.1,690.4ZM1227.1,699.1L1243.6,669.1L1210.6,669.1ZM1220.8,655.0L1237.3,625.0L1204.3,625.0ZM1214.4,648.5L1230.9,618.5L1197.9,618.5ZM1208.1,627.9L1224.6,597.9L1191.6,597.9ZM1201.9,603.4L1218.4,573.4L1185.4,573.4ZM1195.7,595.4L1212.2,565.4L1179.2,565.4ZM1189.5,572.6L1206.0,542.6L1173.0,542.6ZM1183.3,557.2L1199.8,527.2L1166.8,527.2ZM1177.2,533.7L1193.7,503.7L1160.7,503.7ZM1171.1,524.0L1187.6,494.0L1154.6,494.0ZM1165.0,523.3L1181.5,493.3L1148.5,493.3ZM1159.0,520.5L1175.5,490.5L1142.5,490.5ZM1153.0,520.3L1169.5,490.3L1136.5,490.3ZM1147.0,539.6L1163.5,509.6L1130.5,509.6ZM1141.1,559.5L1157.6,529.5L1124.6,529.5ZM1135.2,557.7L1151.7,527.7L1118.7,527.7ZM1129.4,593.1L1145.9,563.1L1112.9,563.1ZM1123.5,597.2L1140.0,567.2L1107.0,567.2ZM1117.7,629.9L1134.2,599.9L1101.2,599.9ZM1112.0,651.7L1128.5,621.7L1095.5,621.7ZM1106.2,691.3L1122.7,661.3L1089.7,661.3ZM1100.5,697.0L1117.0,667.0L1084.0,667.0ZM1094.9,745.0L1111.4,715.0L1078.4,715.0ZM1089.2,764.4L1105.7,734.4L1072.7,734.4ZM1083.6,834.3L1100.1,804.3L1067.1,804.3ZM1078.0,858.4L1094.5,828.4L1061.5,828.4ZM1072.4,885.3L1088.9,855.3L1055.9,855.3ZM1066.9,936.3L1083.4,906.3L1050.4,906.3ZM1061.4,941.2L1077.9,911.2L1044.9,911.2ZM1056.0,980.2L1072.5,950.2L1039.5,950.2ZM1050.5,1007.8L1067.0,977.8L1034.0,977.8ZM1045.1,1023.9L1061.6,993.9L1028.6,993.9ZM1039.7,1046.8L1056.2,1016.8L1023.2,1016.8ZM1034.4,1073.9L1050.9,1043.9L1017.9,1043.9ZM1029.0,1121.8L1045.5,1091.8L1012.5,1091.8ZM1023.7,1144.3L1040.2,1114.3L1007.2,1114.3ZM1018.5,1179.0L1035.0,1149.0L1002.0,1149.0ZM1013.2,1215.5L1029.7,1185.5L996.7,1185.5ZM1008.0,1252.5L1024.5,1222.5L991.5,1222.5ZM1002.8,1269.4L1019.3,1239.4L986.3,1239.4ZM997.6,1273.0L1014.1,1243.0L981.1,1243.0ZM992.5,1304.7L1009.0,1274.7L976.0,1274.7ZM987.4,1311.8L1003.9,1281.8L970.9,1281.8ZM982.3,1324.7L998.8,1294.7L965.8,1294.7ZM977.2,1318.7L993.7,1288.7L960.7,1288.7ZM972.2,1319.4L988.7,1289.4L955.7,1289.4ZM967.2,1324.0L983.7,1294.0L950.7,1294.0ZM962.2,1322.6L978.7,1292.6L945.7,1292.6ZM957.2,1334.8L973.7,1304.8L940.7,1304.8ZM952.3,1327.0L968.8,1297.0L935.8,1297.0ZM947.4,1341.1L963.9,1311.1L930.9,1311.1ZM942.5,1329.7L959.0,1299.7L926.0,1299.7ZM937.6,1331.0L954.1,1301.0L921.1,1301.0ZM932.8,1342.8L949.3,1312.8L916.3,1312.8ZM928.0,1335.6L944.5,1305.6L911.5,1305.6ZM923.2,1347.0L939.7,1317.0L906.7,1317.0ZM918.4,1349.6L934.9,1319.6L901.9,1319.6ZM913.6,1350.5L930.1,1320.5L897.1,1320.5ZM908.9,1349.9L925.4,1319.9L892.4,1319.9ZM904.2,1351.0L920.7,1321.0L887.7,1321.0ZM899.5,1346.5L916.0,1316.5L883.0,1316.5ZM894.9,1337.2L911.4,1307.2L878.4,1307.2ZM890.3,1349.0L906.8,1319.0L873.8,1319.0ZM885.6,1353.5L902.1,1323.5L869.1,1323.5ZM881.1,1344.5L897.6,1314.5L864.6,1314.5ZM876.5,1351.4L893.0,1321.4L860.0,1321.4ZM871.9,1349.6L888.4,1319.6L855.4,1319.6ZM867.4,1347.8L883.9,1317.8L850.9,1317.8ZM862.9,1347.9L879.4,1317.9L846.4,1317.9ZM858.4,1357.6L874.9,1327.6L841.9,1327.6ZM854.0,1354.4L870.5,1324.4L837.5,1324.4ZM849.5,1344.1L866.0,1314.1L833.0,1314.1ZM845.1,1356.3L861.6,1326.3L828.6,1326.3ZM840.7,1355.3L857.2,1325.3L824.2,1325.3ZM836.3,1349.9L852.8,1319.9L819.8,1319.9ZM832.0,1348.7L848.5,1318.7L815.5,1318.7ZM827.7,1356.3L844.2,1326.3L811.2,1326.3ZM823.3,1347.2L839.8,1317.2L806.8,1317.2ZM819.0,1353.1L835.5,1323.1L802.5,1323.1ZM814.8,1366.6L831.3,1336.6L798.3,1336.6ZM810.5,1346.3L827.0,1316.3L794.0,1316.3ZM806.3,1362.0L822.8,1332.0L789.8,1332.0ZM802.1,1332.1L818.6,1302.1L785.6,1302.1ZM797.9,1350.0L814.4,1320.0L781.4,1320.0ZM793.7,1355.9L810.2,1325.9L777.2,1325.9ZM789.5,1344.2L806.0,1314.2L773.0,1314.2ZM785.4,1337.8L801.9,1307.8L768.9,1307.8ZM781.3,1337.3L797.8,1307.3L764.8,1307.3ZM777.2,1349.8L793.7,1319.8L760.7,1319.8ZM773.1,1341.9L789.6,1311.9L756.6,1311.9ZM769.0,1345.7L785.5,1315.7L752.5,1315.7ZM765.0,1352.0L781.5,1322.0L748.5,1322.0ZM760.9,1368.6L777.4,1338.6L744.4,1338.6ZM756.9,1352.7L773.4,1322.7L740.4,1322.7ZM752.9,1373.6L769.4,1343.6L736.4,1343.6ZM749.0,1362.1L765.5,1332.1L732.5,1332.1ZM745.0,1338.8L761.5,1308.8L728.5,1308.8ZM741.1,1351.1L757.6,1321.1L724.6,1321.1ZM737.1,1353.4L753.6,1323.4L720.6,1323.4ZM733.2,1362.0L749.7,1332.0L716.7,1332.0ZM729.3,1361.8L745.8,1331.8L712.8,1331.8ZM725.5,1360.0L742.0,1330.0L709.0,1330.0ZM721.6,1367.4L738.1,1337.4L705.1,1337.4ZM717.8,1373.6L734.3,1343.6L701.3,1343.6ZM714.0,1342.3L730.5,1312.3L697.5,1312.3ZM710.2,1335.8L726.7,1305.8L693.7,1305.8ZM706.4,1359.6L722.9,1329.6L689.9,1329.6ZM702.6,1345.0L719.1,1315.0L686.1,1315.0ZM698.9,1365.7L715.4,1335.7L682.4,1335.7ZM695.1,1349.3L711.6,1319.3L678.6,1319.3ZM691.4,1367.3L707.9,1337.3L674.9,1337.3ZM687.7,1343.5L704.2,1313.5L671.2,1313.5ZM684.0,1352.4L700.5,1322.4L667.5,1322.4ZM680.3,1366.2L696.8,1336.2L663.8,1336.2ZM676.7,1347.3L693.2,1317.3L660.2,1317.3ZM673.0,1335.9L689.5,1305.9L656.5,1305.9ZM669.4,1352.9L685.9,1322.9L652.9,1322.9ZM665.8,1353.4L682.3,1323.4L649.3,1323.4ZM662.2,1352.9L678.7,1322.9L645.7,1322.9ZM658.6,1351.7L675.1,1321.7L642.1,1321.7ZM655.0,1340.0L671.5,1310.0L638.5,1310.0ZM651.5,1339.6L668.0,1309.6L635.0,1309.6ZM648.0,1373.6L664.5,1343.6L631.5,1343.6ZM644.4,1340.5L660.9,1310.5L627.9,1310.5ZM640.9,1355.1L657.4,1325.1L624.4,1325.1ZM637.4,1335.7L653.9,1305.7L620.9,1305.7ZM634.0,1348.2L650.5,1318.2L617.5,1318.2ZM630.5,1343.0L647.0,1313.0L614.0,1313.0ZM627.1,1358.3L643.6,1328.3L610.6,1328.3ZM623.6,1366.9L640.1,1336.9L607.1,1336.9ZM620.2,1350.5L636.7,1320.5L603.7,1320.5ZM616.8,1343.0L633.3,1313.0L600.3,1313.0ZM613.4,1345.4L629.9,1315.4L596.9,1315.4ZM610.0,1344.9L626.5,1314.9L593.5,1314.9ZM606.7,1350.7L623.2,1320.7L590.2,1320.7ZM603.3,1345.5L619.8,1315.5L586.8,1315.5ZM600.0,1361.6L616.5,1331.6L583.5,1331.6ZM596.7,1354.5L613.2,1324.5L580.2,1324.5ZM593.4,1369.2L609.9,1339.2L576.9,1339.2ZM590.1,1353.6L606.6,1323.6L573.6,1323.6ZM586.8,1356.2L603.3,1326.2L570.3,1326.2ZM583.5,1352.5L600.0,1322.5L567.0,1322.5ZM580.2,1342.2L596.7,1312.2L563.7,1312.2ZM577.0,1352.4L593.5,1322.4L560.5,1322.4ZM573.8,1373.6L590.3,1343.6L557.3,1343.6ZM570.6,1338.8L587.1,1308.8L554.1,1308.8ZM567.4,1351.4L583.9,1321.4L550.9,1321.4ZM564.2,1345.0L580.7,1315.0L547.7,1315.0ZM561.0,1361.2L577.5,1331.2L544.5,1331.2ZM557.8,1344.4L574.3,1314.4L541.3,1314.4ZM554.7,1337.1L571.2,1307.1L538.2,1307.1ZM551.5,1369.8L568.0,1339.8L535.0,1339.8ZM548.4,1340.3L564.9,1310.3L531.9,1310.3ZM545.3,1362.7L561.8,1332.7L528.8,1332.7ZM542.2,1361.0L558.7,1331.0L525.7,1331.0ZM539.1,1353.0L555.6,1323.0L522.6,1323.0ZM536.0,1332.1L552.5,1302.1L519.5,1302.1ZM533.0,1371.8L549.5,1341.8L516.5,1341.8ZM529.9,1359.7L546.4,1329.7L513.4,1329.7ZM526.9,1352.6L543.4,1322.6L510.4,1322.6ZM523.8,1346.3L540.3,1316.3L507.3,1316.3ZM520.8,1354.2L537.3,1324.2L504.3,1324.2ZM517.8,1348.6L534.3,1318.6L501.3,1318.6ZM514.8,1363.8L531.3,1333.8L498.3,1333.8ZM511.8,1345.0L528.3,1315.0L495.3,1315.0ZM508.8,1342.1L525.3,1312.1L492.3,1312.1ZM505.9,1364.5L522.4,1334.5L489.4,1334.5ZM502.9,1361.2L519.4,1331.2L486.4,1331.2ZM500.0,1348.9L516.5,1318.9L483.5,1318.9ZM497.1,1349.6L513.6,1319.6L480.6,1319.6ZM494.2,1347.5L510.7,1317.5L477.7,1317.5ZM491.3,1365.7L507.8,1335.7L474.8,1335.7ZM488.4,1357.1L504.9,1327.1L471.9,1327.1ZM485.5,1358.1L502.0,1328.1L469.0,1328.1ZM482.6,1338.9L499.1,1308.9L466.1,1308.9ZM479.7,1354.0L496.2,1324.0L463.2,1324.0ZM476.9,1358.3L493.4,1328.3L460.4,1328.3ZM474.1,1362.4L490.6,1332.4L457.6,1332.4ZM471.2,1353.0L487.7,1323.0L454.7,1323.0ZM468.4,1340.5L484.9,1310.5L451.9,1310.5ZM465.6,1369.2L482.1,1339.2L449.1,1339.2ZM462.8,1351.8L479.3,1321.8L446.3,1321.8ZM460.0,1347.7L476.5,1317.7L443.5,1317.7ZM457.2,1332.2L473.7,1302.2L440.7,1302.2ZM454.5,1345.9L471.0,1315.9L438.0,1315.9ZM451.7,1338.8L468.2,1308.8L435.2,1308.8ZM449.0,1352.5L465.5,1322.5L432.5,1322.5ZM446.2,1367.5L462.7,1337.5L429.7,1337.5ZM443.5,1367.8L460.0,1337.8L427.0,1337.8ZM440.8,1360.5L457.3,1330.5L424.3,1330.5ZM438.1,1351.6L454.6,1321.6L421.6,1321.6ZM435.4,1356.0L451.9,1326.0L418.9,1326.0ZM432.7,1357.9L449.2,1327.9L416.2,1327.9ZM430.0,1334.1L446.5,1304.1L413.5,1304.1ZM427.4,1373.6L443.9,1343.6L410.9,1343.6ZM424.7,1364.0L441.2,1334.0L408.2,1334.0ZM422.1,1332.1L438.6,1302.1L405.6,1302.1ZM419.4,1349.8L435.9,1319.8L402.9,1319.8ZM416.8,1360.0L433.3,1330.0L400.3,1330.0ZM414.2,1364.7L430.7,1334.7L397.7,1334.7ZM411.6,1344.6L428.1,1314.6L395.1,1314.6ZM409.0,1345.7L425.5,1315.7L392.5,1315.7ZM406.4,1344.5L422.9,1314.5L389.9,1314.5ZM403.8,1366.6L420.3,1336.6L387.3,1336.6ZM401.2,1351.6L417.7,1321.6L384.7,1321.6ZM398.7,1355.3L415.2,1325.3L382.2,1325.3ZM396.1,1348.4L412.6,1318.4L379.6,1318.4ZM393.6,1369.9L410.1,1339.9L377.1,1339.9ZM391.1,1346.8L407.6,1316.8L374.6,1316.8ZM388.5,1336.9L405.0,1306.9L372.0,1306.9ZM386.0,1367.3L402.5,1337.3L369.5,1337.3ZM383.5,1343.8L400.0,1313.8L367.0,1313.8ZM381.0,1335.5L397.5,1305.5L364.5,1305.5ZM378.5,1343.7L395.0,1313.7L362.0,1313.7ZM376.0,1353.5L392.5,1323.5L359.5,1323.5ZM373.6,1351.6L390.1,1321.6L357.1,1321.6ZM371.1,1358.5L387.6,1328.5L354.6,1328.5ZM368.7,1350.6L385.2,1320.6L352.2,1320.6ZM366.2,1363.8L382.7,1333.8L349.7,1333.8ZM363.8,1352.4L380.3,1322.4L347.3,1322.4ZM361.3,1361.7L377.8,1331.7L344.8,1331.7ZM358.9,1368.1L375.4,1338.1L342.4,1338.1ZM356.5,1337.2L373.0,1307.2L340.0,1307.2ZM354.1,1372.3L370.6,1342.3L337.6,1342.3ZM351.7,1334.2L368.2,1304.2L335.2,1304.2ZM349.3,1373.6L365.8,1343.6L332.8,1343.6ZM346.9,1343.1L363.4,1313.1L330.4,1313.1ZM344.6,1350.9L361.1,1320.9L328.1,1320.9ZM342.2,1369.9L358.7,1339.9L325.7,1339.9ZM339.9,1358.2L356.4,1328.2L323.4,1328.2ZM337.5,1363.6L354.0,1333.6L321.0,1333.6ZM335.2,1362.9L351.7,1332.9L318.7,1332.9ZM332.8,1343.6L349.3,1313.6L316.3,1313.6ZM330.5,1365.2L347.0,1335.2L314.0,1335.2ZM328.2,1373.1L344.7,1343.1L311.7,1343.1ZM325.9,1341.2L342.4,1311.2L309.4,1311.2ZM323.6,1348.8L340.1,1318.8L307.1,1318.8ZM321.3,1352.9L337.8,1322.9L304.8,1322.9Z"/>
<path fill="#ff8000" d="M2025.6,1350.9L2055.6,1334.4L2055.6,1367.4ZM2013.7,1371.3L2043.7,1354.8L2043.7,1387.8ZM2002.0,1359.1L2032.0,1342.6L2032.0,1375.6ZM1990.4,1346.6L2020.4,1330.1L2020.4,1363.1ZM1978.8,1365.8L2008.8,1349.3L2008.8,1382.3ZM1967.4,1356.6L1997.4,1340.1L1997.4,1373.1ZM1956.0,1346.3L1986.0,1329.8L1986.0,1362.8ZM1944.7,1365.2L1974.7,1348.7L1974.7,1381.7ZM1933.5,1351.2L1963.5,1334.7L1963.5,1367.7ZM1922.4,1343.5L1952.4,1327.0L1952.4,1360.0ZM1911.3,1353.8L1941.3,1337.3L1941.3,1370.3ZM1900.4,1345.4L1930.4,1328.9L1930.4,1361.9ZM1889.5,1357.9L1919.5,1341.4L1919.5,1374.4ZM1878.7,1359.9L1908.7,1343.4L1908.7,1376.4ZM1868.0,1353.6L1898.0,1337.1L1898.0,1370.1ZM1857.3,1367.0L1887.3,1350.5L1887.3,1383.5ZM1846.8,1349.1L1876.8,1332.6L1876.8,1365.6ZM1836.3,1356.5L1866.3,1340.0L1866.3,1373.0ZM1825.9,1365.9L1855.9,1349.4L1855.9,1382.4ZM1815.5,1348.9L1845.5,1332.4L1845.5,1365.4ZM1805.3,1352.1L1835.3,1335.6L1835.3,1368.6ZM1795.1,1359.1L1825.1,1342.6L1825.1,1375.6ZM1784.9,1361.1L1814.9,1344.6L1814.9,1377.6ZM1774.9,1354.2L1804.9,1337.7L1804.9,1370.7ZM1764.9,1367.7L1794.9,1351.2L1794.9,1384.2ZM1755.0,1364.7L1785.0,1348.2L1785.0,1381.2ZM1745.2,1347.8L1775.2,1331.3L1775.2,1364.3ZM1735.4,1354.2L1765.4,1337.7L1765.4,1370.7ZM1725.7,1347.9L1755.7,1331.4L1755.7,1364.4ZM1716.1,1355.0L1746.1,1338.5L1746.1,1371.5ZM1706.5,1344.6L1736.5,1328.1L1736.5,1361.1ZM1697.0,1363.4L1727.0,1346.9L1727.0,1379.9ZM1687.6,1347.8L1717.6,1331.3L1717.6,1364.3ZM1678.2,1349.4L1708.2,1332.9L1708.2,1365.9ZM1668.9,1347.8L1698.9,1331.3L1698.9,1364.3ZM1659.7,1344.7L1689.7,1328.2L1689.7,1361.2ZM1650.5,1358.0L1680.5,1341.5L1680.5,1374.5ZM1641.4,1355.3L1671.4,1338.8L1671.4,1371.8ZM1632.3,1342.8L1662.3,1326.3L1662.3,1359.3ZM1623.3,1346.6L1653.3,1330.1L1653.3,1363.1ZM1614.4,1348.5L1644.4,1332.0L1644.4,1365.0ZM1605.5,1364.9L1635.5,1348.4L1635.5,1381.4ZM1596.7,1342.8L1626.7,1326.3L1626.7,1359.3ZM1588.0,1351.8L1618.0,1335.3L1618.0,1368.3ZM1579.3,1348.9L1609.3,1332.4L1609.3,1365.4ZM1570.6,1366.9L1600.6,1350.4L1600.6,1383.4ZM1562.0,1353.0L1592.0,1336.5L1592.0,1369.5ZM1553.5,1369.5L1583.5,1353.0L1583.5,1386.0ZM1545.0,1349.8L1575.0,1333.3L1575.0,1366.3ZM1536.6,1355.0L1566.6,1338.5L1566.6,1371.5ZM1528.2,1353.5L1558.2,1337.0L1558.2,1370.0ZM1519.9,1361.6L1549.9,1345.1L1549.9,1378.1ZM1511.7,1352.9L1541.7,1336.4L1541.7,1369.4ZM1503.5,1355.7L1533.5,1339.2L1533.5,1372.2ZM1495.3,1365.3L1525.3,1348.8L1525.3,1381.8ZM1487.2,1352.3L1517.2,1335.8L1517.2,1368.8ZM1479.2,1354.9L1509.2,1338.4L1509.2,1371.4ZM1471.2,1361.7L1501.2,1345.2L1501.2,1378.2ZM1463.2,1346.4L1493.2,1329.9L1493.2,1362.9ZM1455.3,1359.3L1485.3,1342.8L1485.3,1375.8ZM1447.5,1354.9L1477.5,1338.4L1477.5,1371.4ZM1439.7,1360.2L1469.7,1343.7L1469.7,1376.7ZM1431.9,1358.0L1461.9,1341.5L1461.9,1374.5ZM1424.2,1345.5L1454.2,1329.0L1454.2,1362.0ZM1416.6,1336.9L1446.6,1320.4L1446.6,1353.4ZM1409.0,1347.8L1439.0,1331.3L1439.0,1364.3ZM1401.4,1343.9L1431.4,1327.4L1431.4,1360.4ZM1393.9,1341.6L1423.9,1325.1L1423.9,1358.1ZM1386.4,1332.2L1416.4,1315.7L1416.4,1348.7ZM1379.0,1324.9L1409.0,1308.4L1409.0,1341.4ZM1371.6,1328.3L1401.6,1311.8L1401.6,1344.8ZM1364.3,1326.8L1394.3,1310.3L1394.3,1343.3ZM1357.0,1315.5L1387.0,1299.0L1387.0,1332.0ZM1349.8,1309.6L1379.8,1293.1L1379.8,1326.1ZM1342.6,1305.4L1372.6,1288.9L1372.6,1321.9ZM1335.4,1292.1L1365.4,1275.6L1365.4,1308.6ZM1328.3,1281.2L1358.3,1264.7L1358.3,1297.7ZM1321.2,1259.6L1351.2,1243.1L1351.2,1276.1ZM1314.2,1255.5L1344.2,1239.0L1344.2,1272.0ZM1307.2,1222.0L1337.2,1205.5L1337.2,1238.5ZM1300.3,1198.3L1330.3,1181.8L1330.3,1214.8ZM1293.4,1202.6L1323.4,1186.1L1323.4,1219.1ZM1286.5,1187.1L1316.5,1170.6L1316.5,1203.6ZM1279.7,1160.4L1309.7,1143.9L1309.7,1176.9ZM1272.9,1132.6L1302.9,1116.1L1302.9,1149.1ZM1266.1,1103.1L1296.1,1086.6L1296.1,1119.6ZM1259.4,1096.1L1289.4,1079.6L1289.4,1112.6ZM1252.8,1065.2L1282.8,1048.7L1282.8,1081.7ZM1246.1,1065.1L1276.1,1048.6L1276.1,1081.6ZM1239.5,1029.0L1269.5,1012.5L1269.5,1045.5ZM1233.0,998.2L1263.0,981.7L1263.0,1014.7ZM1226.5,974.1L1256.5,957.6L1256.5,990.6ZM1220.0,938.9L1250.0,922.4L1250.0,955.4ZM1213.6,888.0L1243.6,871.5L1243.6,904.5ZM1207.1,851.7L1237.1,835.2L1237.1,868.2ZM1200.8,805.9L1230.8,789.4L1230.8,822.4ZM1194.4,791.8L1224.4,775.3L1224.4,808.3ZM1188.1,717.4L1218.1,700.9L1218.1,733.9ZM1181.9,671.8L1211.9,655.3L1211.9,688.3ZM1175.7,625.6L1205.7,609.1L1205.7,642.1ZM1169.5,596.6L1199.5,580.1L1199.5,613.1ZM1163.3,554.7L1193.3,538.2L1193.3,571.2ZM1157.2,497.1L1187.2,480.6L1187.2,513.6ZM1151.1,455.7L1181.1,439.2L1181.1,472.2ZM1145.0,407.3L1175.0,390.8L1175.0,423.8ZM1139.0,392.0L1169.0,375.5L1169.0,408.5ZM1133.0,362.3L1163.0,345.8L1163.0,378.8ZM1127.0,350.5L1157.0,334.0L1157.0,367.0ZM1121.1,350.9L1151.1,334.4L1151.1,367.4ZM1115.2,357.8L1145.2,341.3L1145.2,374.3ZM1109.4,370.1L1139.4,353.6L1139.4,386.6ZM1103.5,407.1L1133.5,390.6L1133.5,423.6ZM1097.7,455.0L1127.7,438.5L1127.7,471.5ZM1092.0,467.1L1122.0,450.6L1122.0,483.6ZM1086.2,515.4L1116.2,498.9L1116.2,531.9ZM1080.5,555.2L1110.5,538.7L1110.5,571.7ZM1074.9,593.0L1104.9,576.5L1104.9,609.5ZM1069.2,633.2L1099.2,616.7L1099.2,649.7ZM1063.6,669.6L1093.6,653.1L1093.6,686.1ZM1058.0,722.7L1088.0,706.2L1088.0,739.2ZM1052.4,763.0L1082.4,746.5L1082.4,779.5ZM1046.9,811.6L1076.9,795.1L1076.9,828.1ZM1041.4,841.5L1071.4,825.0L1071.4,858.0ZM1036.0,893.8L1066.0,877.3L1066.0,910.3ZM1030.5,921.5L1060.5,905.0L1060.5,938.0ZM1025.1,971.1L1055.1,954.6L1055.1,987.6ZM1019.7,987.6L1049.7,971.1L1049.7,1004.1ZM1014.4,1025.9L1044.4,1009.4L1044.4,1042.4ZM1009.0,1068.9L1039.0,1052.4L1039.0,1085.4ZM1003.7,1100.1L1033.7,1083.6L1033.7,1116.6ZM998.5,1140.1L1028.5,1123.6L1028.5,1156.6ZM993.2,1170.2L1023.2,1153.7L1023.2,1186.7ZM988.0,1197.5L1018.0,1181.0L1018.0,1214.0ZM982.8,1223.2L1012.8,1206.7L1012.8,1239.7ZM977.6,1267.1L1007.6,1250.6L1007.6,1283.6ZM972.5,1273.3L1002.5,1256.8L1002.5,1289.8ZM967.4,1278.0L997.4,1261.5L997.4,1294.5ZM962.3,1298.8L992.3,1282.3L992.3,1315.3ZM957.2,1306.8L987.2,1290.3L987.2,1323.3ZM952.2,1299.2L982.2,1282.7L982.2,1315.7ZM947.2,1310.6L977.2,1294.1L977.2,1327.1ZM942.2,1300.2L972.2,1283.7L972.2,1316.7ZM937.2,1308.0L967.2,1291.5L967.2,1324.5ZM932.3,1313.9L962.3,1297.4L962.3,1330.4ZM927.4,1316.6L957.4,1300.1L957.4,1333.1ZM922.5,1318.0L952.5,1301.5L952.5,1334.5ZM917.6,1319.7L947.6,1303.2L947.6,1336.2ZM912.8,1321.8L942.8,1305.3L942.8,1338.3ZM908.0,1328.0L938.0,1311.5L938.0,1344.5ZM903.2,1323.9L933.2,1307.4L933.2,1340.4ZM898.4,1320.2L928.4,1303.7L928.4,1336.7ZM893.6,1328.7L923.6,1312.2L923.6,1345.2ZM888.9,1330.0L918.9,1313.5L918.9,1346.5ZM884.2,1328.5L914.2,1312.0L914.2,1345.0ZM879.5,1316.0L909.5,1299.5L909.5,1332.5ZM874.9,1317.8L904.9,1301.3L904.9,1334.3ZM870.3,1322.7L900.3,1306.2L900.3,1339.2ZM865.6,1330.7L895.6,1314.2L895.6,1347.2ZM861.1,1320.8L891.1,1304.3L891.1,1337.3ZM856.5,1341.2L886.5,1324.7L886.5,1357.7ZM851.9,1323.2L881.9,1306.7L881.9,1339.7ZM847.4,1328.0L877.4,1311.5L877.4,1344.5ZM842.9,1313.4L872.9,1296.9L872.9,1329.9ZM838.4,1324.2L868.4,1307.7L868.4,1340.7ZM834.0,1334.1L864.0,1317.6L864.0,1350.6ZM829.5,1328.0L859.5,1311.5L859.5,1344.5ZM825.1,1337.8L855.1,1321.3L855.1,1354.3ZM820.7,1326.2L850.7,1309.7L850.7,1342.7ZM816.3,1335.4L846.3,1318.9L846.3,1351.9ZM812.0,1322.6L842.0,1306.1L842.0,1339.1ZM807.7,1320.2L837.7,1303.7L837.7,1336.7ZM803.3,1343.1L833.3,1326.6L833.3,1359.6ZM799.0,1315.2L829.0,1298.7L829.0,1331.7ZM794.8,1351.5L824.8,1335.0L824.8,1368.0ZM790.5,1344.7L820.5,1328.2L820.5,1361.2ZM786.3,1322.2L816.3,1305.7L816.3,1338.7ZM782.1,1322.2L812.1,1305.7L812.1,1338.7ZM777.9,1310.0L807.9,1293.5L807.9,1326.5ZM773.7,1333.2L803.7,1316.7L803.7,1349.7ZM769.5,1331.7L799.5,1315.2L799.5,1348.2ZM765.4,1321.7L795.4,1305.2L795.4,1338.2ZM761.3,1337.1L791.3,1320.6L791.3,1353.6ZM757.2,1324.9L787.2,1308.4L787.2,1341.4ZM753.1,1337.2L783.1,1320.7L783.1,1353.7ZM749.0,1335.4L779.0,1318.9L779.0,1351.9ZM745.0,1321.3L775.0,1304.8L775.0,1337.8ZM740.9,1324.6L770.9,1308.1L770.9,1341.1ZM736.9,1340.3L766.9,1323.8L766.9,1356.8ZM732.9,1315.8L762.9,1299.3L762.9,1332.3ZM729.0,1346.3L759.0,1329.8L759.0,1362.8ZM725.0,1326.2L755.0,1309.7L755.0,1342.7ZM721.1,1322.4L751.1,1305.9L751.1,1338.9ZM717.1,1335.7L747.1,1319.2L747.1,1352.2ZM713.2,1344.1L743.2,1327.6L743.2,1360.6ZM709.3,1341.7L739.3,1325.2L739.3,1358.2ZM705.5,1328.6L735.5,1312.1L735.5,1345.1ZM701.6,1311.4L731.6,1294.9L731.6,1327.9ZM697.8,1333.4L727.8,1316.9L727.8,1349.9ZM694.0,1351.2L724.0,1334.7L724.0,1367.7ZM690.2,1336.6L720.2,1320.1L720.2,1353.1ZM686.4,1349.4L716.4,1332.9L716.4,1365.9ZM682.6,1316.6L712.6,1300.1L712.6,1333.1ZM678.9,1324.8L708.9,1308.3L708.9,1341.3ZM675.1,1325.5L705.1,1309.0L705.1,1342.0ZM671.4,1351.5L701.4,1335.0L701.4,1368.0ZM667.7,1348.6L697.7,1332.1L697.7,1365.1ZM664.0,1344.3L694.0,1327.8L694.0,1360.8ZM660.3,1333.7L690.3,1317.2L690.3,1350.2ZM656.7,1333.6L686.7,1317.1L686.7,1350.1ZM653.0,1337.3L683.0,1320.8L683.0,1353.8ZM649.4,1320.4L679.4,1303.9L679.4,1336.9ZM645.8,1343.0L675.8,1326.5L675.8,1359.5ZM642.2,1318.7L672.2,1302.2L672.2,1335.2ZM638.6,1324.7L668.6,1308.2L668.6,1341.2ZM635.0,1341.1L665.0,1324.6L665.0,1357.6ZM631.5,1335.5L661.5,1319.0L661.5,1352.0ZM628.0,1310.2L658.0,1293.7L658.0,1326.7ZM624.4,1326.6L654.4,1310.1L654.4,1343.1ZM620.9,1344.3L650.9,1327.8L650.9,1360.8ZM617.4,1332.3L647.4,1315.8L647.4,1348.8ZM614.0,1334.9L644.0,1318.4L644.0,1351.4ZM610.5,1323.5L640.5,1307.0L640.5,1340.0ZM607.1,1338.3L637.1,1321.8L637.1,1354.8ZM603.6,1322.1L633.6,1305.6L633.6,1338.6ZM600.2,1334.4L630.2,1317.9L630.2,1350.9ZM596.8,1337.5L626.8,1321.0L626.8,1354.0ZM593.4,1319.6L623.4,1303.1L623.4,1336.1ZM590.0,1327.2L620.0,1310.7L620.0,1343.7ZM586.7,1349.9L616.7,1333.4L616.7,1366.4ZM583.3,1329.2L613.3,1312.7L613.3,1345.7ZM580.0,1331.0L610.0,1314.5L610.0,1347.5ZM576.7,1327.3L606.7,1310.8L606.7,1343.8ZM573.4,1318.2L603.4,1301.7L603.4,1334.7ZM570.1,1347.0L600.1,1330.5L600.1,1363.5ZM566.8,1324.1L596.8,1307.6L596.8,1340.6ZM563.5,1334.9L593.5,1318.4L593.5,1351.4ZM560.2,1322.0L590.2,1305.5L590.2,1338.5ZM557.0,1340.6L587.0,1324.1L587.0,1357.1ZM553.8,1328.6L583.8,1312.1L583.8,1345.1ZM550.6,1314.3L580.6,1297.8L580.6,1330.8ZM547.4,1331.1L577.4,1314.6L577.4,1347.6ZM544.2,1322.3L574.2,1305.8L574.2,1338.8ZM541.0,1351.5L571.0,1335.0L571.0,1368.0ZM537.8,1343.3L567.8,1326.8L567.8,1359.8ZM534.7,1342.3L564.7,1325.8L564.7,1358.8ZM531.5,1334.0L561.5,1317.5L561.5,1350.5ZM528.4,1333.6L558.4,1317.1L558.4,1350.1ZM525.3,1323.5L555.3,1307.0L555.3,1340.0ZM522.2,1343.1L552.2,1326.6L552.2,1359.6ZM519.1,1310.0L549.1,1293.5L549.1,1326.5ZM516.0,1310.0L546.0,1293.5L546.0,1326.5ZM513.0,1337.9L543.0,1321.4L543.0,1354.4ZM509.9,1322.7L539.9,1306.2L539.9,1339.2ZM506.9,1310.2L536.9,1293.7L536.9,1326.7ZM503.8,1334.1L533.8,1317.6L533.8,1350.6ZM500.8,1327.8L530.8,1311.3L530.8,1344.3ZM497.8,1318.5L527.8,1302.0L527.8,1335.0ZM494.8,1317.4L524.8,1300.9L524.8,1333.9ZM491.8,1327.5L521.8,1311.0L521.8,1344.0ZM488.8,1331.3L518.8,1314.8L518.8,1347.8ZM485.9,1324.4L515.9,1307.9L515.9,1340.9ZM482.9,1331.2L512.9,1314.7L512.9,1347.7ZM480.0,1318.1L510.0,1301.6L510.0,1334.6ZM477.1,1332.2L507.1,1315.7L507.1,1348.7ZM474.2,1334.2L504.2,1317.7L504.2,1350.7ZM471.3,1339.2L501.3,1322.7L501.3,1355.7ZM468.4,1311.2L498.4,1294.7L498.4,1327.7ZM465.5,1335.0L495.5,1318.5L495.5,1351.5ZM462.6,1344.0L492.6,1327.5L492.6,1360.5ZM459.7,1324.3L489.7,1307.8L489.7,1340.8ZM456.9,1336.3L486.9,1319.8L486.9,1352.8ZM454.1,1323.8L484.1,1307.3L484.1,1340.3ZM451.2,1331.7L481.2,1315.2L481.2,1348.2ZM448.4,1329.9L478.4,1313.4L478.4,1346.4ZM445.6,1330.3L475.6,1313.8L475.6,1346.8ZM442.8,1327.1L472.8,1310.6L472.8,1343.6ZM440.0,1332.4L470.0,1315.9L470.0,1348.9ZM437.2,1340.0L467.2,1323.5L467.2,1356.5ZM434.5,1327.8L464.5,1311.3L464.5,1344.3ZM431.7,1325.4L461.7,1308.9L461.7,1341.9ZM429.0,1348.3L459.0,1331.8L459.0,1364.8ZM426.2,1335.1L456.2,1318.6L456.2,1351.6ZM423.5,1327.6L453.5,1311.1L453.5,1344.1ZM420.8,1322.5L450.8,1306.0L450.8,1339.0ZM418.1,1312.3L448.1,1295.8L448.1,1328.8ZM415.4,1320.6L445.4,1304.1L445.4,1337.1ZM412.7,1322.8L442.7,1306.3L442.7,1339.3ZM410.0,1329.6L440.0,1313.1L440.0,1346.1ZM407.4,1326.7L437.4,1310.2L437.4,1343.2ZM404.7,1331.3L434.7,1314.8L434.7,1347.8ZM402.1,1324.0L432.1,1307.5L432.1,1340.5ZM399.4,1351.5L429.4,1335.0L429.4,1368.0ZM396.8,1332.1L426.8,1315.6L426.8,1348.6ZM394.2,1312.7L424.2,1296.2L424.2,1329.2ZM391.6,1336.9L421.6,1320.4L421.6,1353.4ZM389.0,1345.5L419.0,1329.0L419.0,1362.0ZM386.4,1336.9L416.4,1320.4L416.4,1353.4ZM383.8,1332.1L413.8,1315.6L413.8,1348.6ZM381.2,1319.9L411.2,1303.4L411.2,1336.4ZM378.7,1351.5L408.7,1335.0L408.7,1368.0ZM376.1,1333.6L406.1,1317.1L406.1,1350.1ZM373.6,1317.5L403.6,1301.0L403.6,1334.0ZM371.1,1326.4L401.1,1309.9L401.1,1342.9ZM368.5,1339.6L398.5,1323.1L398.5,1356.1ZM366.0,1317.1L396.0,1300.6L396.0,1333.6ZM363.5,1329.7L393.5,1313.2L393.5,1346.2ZM361.0,1331.8L391.0,1315.3L391.0,1348.3ZM358.5,1330.0L388.5,1313.5L388.5,1346.5ZM356.0,1336.0L386.0,1319.5L386.0,1352.5ZM353.6,1320.4L383.6,1303.9L383.6,1336.9ZM351.1,1318.6L381.1,1302.1L381.1,1335.1ZM348.7,1328.1L378.7,1311.6L378.7,1344.6ZM346.2,1322.7L376.2,1306.2L376.2,1339.2ZM343.8,1330.0L373.8,1313.5L373.8,1346.5ZM341.3,1333.9L371.3,1317.4L371.3,1350.4ZM338.9,1329.1L368.9,1312.6L368.9,1345.6ZM336.5,1334.1L366.5,1317.6L366.5,1350.6ZM334.1,1331.1L364.1,1314.6L364.1,1347.6ZM331.7,1331.8L361.7,1315.3L361.7,1348.3ZM329.3,1314.9L359.3,1298.4L359.3,1331.4ZM326.9,1347.9L356.9,1331.4L356.9,1364.4ZM324.6,1335.0L354.6,1318.5L354.6,1351.5ZM322.2,1322.8L352.2,1306.3L352.2,1339.3ZM319.9,1338.0L349.9,1321.5L349.9,1354.5ZM317.5,1332.7L347.5,1316.2L347.5,1349.2ZM315.2,1330.6L345.2,1314.1L345.2,1347.1ZM312.8,1332.0L342.8,1315.5L342.8,1348.5ZM310.5,1329.3L340.5,1312.8L340.5,1345.8ZM308.2,1339.0L338.2,1322.5L338.2,1355.5ZM305.9,1335.8L335.9,1319.3L335.9,1352.3ZM303.6,1342.2L333.6,1325.7L333.6,1358.7ZM301.3,1335.2L331.3,1318.7L331.3,1351.7Z"/>
<path fill="#000080" d="M2065.6,1351.5L2035.6,1335.0L2035.6,1368.0ZM2053.7,1359.3L2023.7,1342.8L2023.7,1375.8ZM2042.0,1359.0L2012.0,1342.5L2012.0,1375.5ZM2030.4,1363.0L2000.4,1346.5L2000.4,1379.5ZM2018.8,1364.9L1988.8,1348.4L1988.8,1381.4ZM2007.4,1366.5L1977.4,1350.0L1977.4,1383.0ZM1996.0,1351.8L1966.0,1335.3L1966.0,1368.3ZM1984.7,1347.5L1954.7,1331.0L1954.7,1364.0ZM1973.5,1352.3L1943.5,1335.8L1943.5,1368.8ZM1962.4,1353.4L1932.4,1336.9L1932.4,1369.9ZM1951.3,1353.3L1921.3,1336.8L1921.3,1369.8ZM1940.4,1356.3L1910.4,1339.8L1910.4,1372.8ZM1929.5,1348.6L1899.5,1332.1L1899.5,1365.1ZM1918.7,1360.9L1888.7,1344.4L1888.7,1377.4ZM1908.0,1347.9L1878.0,1331.4L1878.0,1364.4ZM1897.3,1356.5L1867.3,1340.0L1867.3,1373.0ZM1886.8,1355.8L1856.8,1339.3L1856.8,1372.3ZM1876.3,1364.0L1846.3,1347.5L1846.3,1380.5ZM1865.9,1354.9L1835.9,1338.4L1835.9,1371.4ZM1855.5,1341.5L1825.5,1325.0L1825.5,1358.0ZM1845.3,1355.9L1815.3,1339.4L1815.3,1372.4ZM1835.1,1358.2L1805.1,1341.7L1805.1,1374.7ZM1824.9,1352.7L1794.9,1336.2L1794.9,1369.2ZM1814.9,1348.5L1784.9,1332.0L1784.9,1365.0ZM1804.9,1348.2L1774.9,1331.7L1774.9,1364.7ZM1795.0,1360.3L1765.0,1343.8L1765.0,1376.8ZM1785.2,1363.6L1755.2,1347.1L1755.2,1380.1ZM1775.4,1362.7L1745.4,1346.2L1745.4,1379.2ZM1765.7,1355.8L1735.7,1339.3L1735.7,1372.3ZM1756.1,1369.2L1726.1,1352.7L1726.1,1385.7ZM1746.5,1344.8L1716.5,1328.3L1716.5,1361.3ZM1737.0,1360.0L1707.0,1343.5L1707.0,1376.5ZM1727.6,1357.0L1697.6,1340.5L1697.6,1373.5ZM1718.2,1344.3L1688.2,1327.8L1688.2,1360.8ZM1708.9,1362.4L1678.9,1345.9L1678.9,1378.9ZM1699.7,1355.4L1669.7,1338.9L1669.7,1371.9ZM1690.5,1360.1L1660.5,1343.6L1660.5,1376.6ZM1681.4,1351.4L1651.4,1334.9L1651.4,1367.9ZM1672.3,1360.0L1642.3,1343.5L1642.3,1376.5ZM1663.3,1353.6L1633.3,1337.1L1633.3,1370.1ZM1654.4,1361.0L1624.4,1344.5L1624.4,1377.5ZM1645.5,1348.7L1615.5,1332.2L1615.5,1365.2ZM1636.7,1359.0L1606.7,1342.5L1606.7,1375.5ZM1628.0,1364.1L1598.0,1347.6L1598.0,1380.6ZM1619.3,1353.7L1589.3,1337.2L1589.3,1370.2ZM1610.6,1368.9L1580.6,1352.4L1580.6,1385.4ZM1602.0,1344.7L1572.0,1328.2L1572.0,1361.2ZM1593.5,1352.4L1563.5,1335.9L1563.5,1368.9ZM1585.0,1353.2L1555.0,1336.7L1555.0,1369.7ZM1576.6,1354.6L1546.6,1338.1L1546.6,1371.1ZM1568.2,1347.2L1538.2,1330.7L1538.2,1363.7ZM1559.9,1355.1L1529.9,1338.6L1529.9,1371.6ZM1551.7,1356.7L1521.7,1340.2L1521.7,1373.2ZM1543.5,1359.0L1513.5,1342.5L1513.5,1375.5ZM1535.3,1354.0L1505.3,1337.5L1505.3,1370.5ZM1527.2,1345.3L1497.2,1328.8L1497.2,1361.8ZM1519.2,1361.6L1489.2,1345.1L1489.2,1378.1ZM1511.2,1349.9L1481.2,1333.4L1481.2,1366.4ZM1503.2,1353.8L1473.2,1337.3L1473.2,1370.3ZM1495.3,1352.2L1465.3,1335.7L1465.3,1368.7ZM1487.5,1346.2L1457.5,1329.7L1457.5,1362.7ZM1479.7,1350.6L1449.7,1334.1L1449.7,1367.1ZM1471.9,1359.6L1441.9,1343.1L1441.9,1376.1ZM1464.2,1354.4L1434.2,1337.9L1434.2,1370.9ZM1456.6,1361.1L1426.6,1344.6L1426.6,1377.6ZM1449.0,1352.6L1419.0,1336.1L1419.0,1369.1ZM1441.4,1357.9L1411.4,1341.4L1411.4,1374.4ZM1433.9,1345.8L1403.9,1329.3L1403.9,1362.3ZM1426.4,1350.2L1396.4,1333.7L1396.4,1366.7ZM1419.0,1360.4L1389.0,1343.9L1389.0,1376.9ZM1411.6,1343.7L1381.6,1327.2L1381.6,1360.2ZM1404.3,1351.0L1374.3,1334.5L1374.3,1367.5ZM1397.0,1349.7L1367.0,1333.2L1367.0,1366.2ZM1389.8,1338.5L1359.8,1322.0L1359.8,1355.0ZM1382.6,1331.8L1352.6,1315.3L1352.6,1348.3ZM1375.4,1328.7L1345.4,1312.2L1345.4,1345.2ZM1368.3,1336.9L1338.3,1320.4L1338.3,1353.4ZM1361.2,1333.6L1331.2,1317.1L1331.2,1350.1ZM1354.2,1315.0L1324.2,1298.5L1324.2,1331.5ZM1347.2,1312.3L1317.2,1295.8L1317.2,1328.8ZM1340.3,1309.4L1310.3,1292.9L1310.3,1325.9ZM1333.4,1282.7L1303.4,1266.2L1303.4,1299.2ZM1326.5,1276.5L1296.5,1260.0L1296.5,1293.0ZM1319.7,1255.9L1289.7,1239.4L1289.7,1272.4ZM1312.9,1241.7L1282.9,1225.2L1282.9,1258.2ZM1306.1,1211.2L1276.1,1194.7L1276.1,1227.7ZM1299.4,1183.9L1269.4,1167.4L1269.4,1200.4ZM1292.8,1150.8L1262.8,1134.3L1262.8,1167.3ZM1286.1,1120.4L1256.1,1103.9L1256.1,1136.9ZM1279.5,1081.6L1249.5,1065.1L1249.5,1098.1ZM1273.0,1035.7L1243.0,1019.2L1243.0,1052.2ZM1266.5,997.0L1236.5,980.5L1236.5,1013.5ZM1260.0,953.0L1230.0,936.5L1230.0,969.5ZM1253.6,910.9L1223.6,894.4L1223.6,927.4ZM1247.1,866.2L1217.1,849.7L1217.1,882.7ZM1240.8,816.2L1210.8,799.7L1210.8,832.7ZM1234.4,772.8L1204.4,756.3L1204.4,789.3ZM1228.1,715.4L1198.1,698.9L1198.1,731.9ZM1221.9,666.5L1191.9,650.0L1191.9,683.0ZM1215.7,619.1L1185.7,602.6L1185.7,635.6ZM1209.5,563.4L1179.5,546.9L1179.5,579.9ZM1203.3,509.9L1173.3,493.4L1173.3,526.4ZM1197.2,454.4L1167.2,437.9L1167.2,470.9ZM1191.1,390.3L1161.1,373.8L1161.1,406.8ZM1185.0,362.1L1155.0,345.6L1155.0,378.6ZM1179.0,301.5L1149.0,285.0L1149.0,318.0ZM1173.0,261.1L1143.0,244.6L1143.0,277.6ZM1167.0,235.4L1137.0,218.9L1137.0,251.9ZM1161.1,212.8L1131.1,196.3L1131.1,229.3ZM1155.2,194.1L1125.2,177.6L1125.2,210.6ZM1149.4,218.1L1119.4,201.6L1119.4,234.6ZM1143.5,243.3L1113.5,226.8L1113.5,259.8ZM1137.7,278.8L1107.7,262.3L1107.7,295.3ZM1132.0,304.2L1102.0,287.7L1102.0,320.7ZM1126.2,351.8L1096.2,335.3L1096.2,368.3ZM1120.5,399.3L1090.5,382.8L1090.5,415.8ZM1114.9,448.9L1084.9,432.4L1084.9,465.4ZM1109.2,497.0L1079.2,480.5L1079.2,513.5ZM1103.6,551.2L1073.6,534.7L1073.6,567.7ZM1098.0,610.3L1068.0,593.8L1068.0,626.8ZM1092.4,659.4L1062.4,642.9L1062.4,675.9ZM1086.9,731.2L1056.9,714.7L1056.9,747.7ZM1081.4,762.4L1051.4,745.9L1051.4,778.9ZM1076.0,816.9L1046.0,800.4L1046.0,833.4ZM1070.5,870.3L1040.5,853.8L1040.5,886.8ZM1065.1,929.3L1035.1,912.8L1035.1,945.8ZM1059.7,983.4L1029.7,966.9L1029.7,999.9ZM1054.4,1031.4L1024.4,1014.9L1024.4,1047.9ZM1049.0,1075.7L1019.0,1059.2L1019.0,1092.2ZM1043.7,1118.8L1013.7,1102.3L1013.7,1135.3ZM1038.5,1163.2L1008.5,1146.7L1008.5,1179.7ZM1033.2,1187.3L1003.2,1170.8L1003.2,1203.8ZM1028.0,1205.4L998.0,1188.9L998.0,1221.9ZM1022.8,1235.1L992.8,1218.6L992.8,1251.6ZM1017.6,1250.6L987.6,1234.1L987.6,1267.1ZM1012.5,1273.3L982.5,1256.8L982.5,1289.8ZM1007.4,1289.3L977.4,1272.8L977.4,1305.8ZM1002.3,1289.9L972.3,1273.4L972.3,1306.4ZM997.2,1297.2L967.2,1280.7L967.2,1313.7ZM992.2,1298.1L962.2,1281.6L962.2,1314.6ZM987.2,1309.0L957.2,1292.5L957.2,1325.5ZM982.2,1309.0L952.2,1292.5L952.2,1325.5ZM977.2,1303.6L947.2,1287.1L947.2,1320.1ZM972.3,1309.7L942.3,1293.2L942.3,1326.2ZM967.4,1316.6L937.4,1300.1L937.4,1333.1ZM962.5,1322.0L932.5,1305.5L932.5,1338.5ZM957.6,1314.4L927.6,1297.9L927.6,1330.9ZM952.8,1322.5L922.8,1306.0L922.8,1339.0ZM948.0,1312.4L918.0,1295.9L918.0,1328.9ZM943.2,1318.7L913.2,1302.2L913.2,1335.2ZM938.4,1319.0L908.4,1302.5L908.4,1335.5ZM933.6,1314.4L903.6,1297.9L903.6,1330.9ZM928.9,1322.6L898.9,1306.1L898.9,1339.1ZM924.2,1321.3L894.2,1304.8L894.2,1337.8ZM919.5,1328.9L889.5,1312.4L889.5,1345.4ZM914.9,1326.1L884.9,1309.6L884.9,1342.6ZM910.3,1326.0L880.3,1309.5L880.3,1342.5ZM905.6,1328.5L875.6,1312.0L875.6,1345.0ZM901.1,1319.9L871.1,1303.4L871.1,1336.4ZM896.5,1332.8L866.5,1316.3L866.5,1349.3ZM891.9,1326.7L861.9,1310.2L861.9,1343.2ZM887.4,1338.2L857.4,1321.7L857.4,1354.7ZM882.9,1334.6L852.9,1318.1L852.9,1351.1ZM878.4,1347.7L848.4,1331.2L848.4,1364.2ZM874.0,1328.5L844.0,1312.0L844.0,1345.0ZM869.5,1334.1L839.5,1317.6L839.5,1350.6ZM865.1,1334.6L835.1,1318.1L835.1,1351.1ZM860.7,1343.5L830.7,1327.0L830.7,1360.0ZM856.3,1343.2L826.3,1326.7L826.3,1359.7ZM852.0,1342.2L822.0,1325.7L822.0,1358.7ZM847.7,1340.7L817.7,1324.2L817.7,1357.2ZM843.3,1324.7L813.3,1308.2L813.3,1341.2ZM839.0,1352.6L809.0,1336.1L809.0,1369.1ZM834.8,1311.1L804.8,1294.6L804.8,1327.6ZM830.5,1324.9L800.5,1308.4L800.5,1341.4ZM826.3,1335.9L796.3,1319.4L796.3,1352.4ZM822.1,1311.1L792.1,1294.6L792.1,1327.6ZM817.9,1341.9L787.9,1325.4L787.9,1358.4ZM813.7,1331.8L783.7,1315.3L783.7,1348.3ZM809.5,1352.6L779.5,1336.1L779.5,1369.1ZM805.4,1318.1L775.4,1301.6L775.4,1334.6ZM801.3,1336.5L771.3,1320.0L771.3,1353.0ZM797.2,1330.9L767.2,1314.4L767.2,1347.4ZM793.1,1324.3L763.1,1307.8L763.1,1340.8ZM789.0,1346.1L759.0,1329.6L759.0,1362.6ZM785.0,1329.5L755.0,1313.0L755.0,1346.0ZM780.9,1331.7L750.9,1315.2L750.9,1348.2ZM776.9,1317.3L746.9,1300.8L746.9,1333.8ZM772.9,1322.4L742.9,1305.9L742.9,1338.9ZM769.0,1352.6L739.0,1336.1L739.0,1369.1ZM765.0,1328.8L735.0,1312.3L735.0,1345.3ZM761.1,1350.5L731.1,1334.0L731.1,1367.0ZM757.1,1342.8L727.1,1326.3L727.1,1359.3ZM753.2,1337.1L723.2,1320.6L723.2,1353.6ZM749.3,1312.2L719.3,1295.7L719.3,1328.7ZM745.5,1352.6L715.5,1336.1L715.5,1369.1ZM741.6,1338.2L711.6,1321.7L711.6,1354.7ZM737.8,1344.7L707.8,1328.2L707.8,1361.2ZM734.0,1333.3L704.0,1316.8L704.0,1349.8ZM730.2,1331.0L700.2,1314.5L700.2,1347.5ZM726.4,1341.0L696.4,1324.5L696.4,1357.5ZM722.6,1349.9L692.6,1333.4L692.6,1366.4ZM718.9,1329.9L688.9,1313.4L688.9,1346.4ZM715.1,1339.6L685.1,1323.1L685.1,1356.1ZM711.4,1323.8L681.4,1307.3L681.4,1340.3ZM707.7,1322.6L677.7,1306.1L677.7,1339.1ZM704.0,1321.2L674.0,1304.7L674.0,1337.7ZM700.3,1337.7L670.3,1321.2L670.3,1354.2ZM696.7,1344.5L666.7,1328.0L666.7,1361.0ZM693.0,1340.9L663.0,1324.4L663.0,1357.4ZM689.4,1334.0L659.4,1317.5L659.4,1350.5ZM685.8,1330.7L655.8,1314.2L655.8,1347.2ZM682.2,1329.8L652.2,1313.3L652.2,1346.3ZM678.6,1330.1L648.6,1313.6L648.6,1346.6ZM675.0,1323.9L645.0,1307.4L645.0,1340.4ZM671.5,1332.8L641.5,1316.3L641.5,1349.3ZM668.0,1320.8L638.0,1304.3L638.0,1337.3ZM664.4,1319.7L634.4,1303.2L634.4,1336.2ZM660.9,1319.9L630.9,1303.4L630.9,1336.4ZM657.4,1345.0L627.4,1328.5L627.4,1361.5ZM654.0,1328.8L624.0,1312.3L624.0,1345.3ZM650.5,1346.8L620.5,1330.3L620.5,1363.3ZM647.1,1339.5L617.1,1323.0L617.1,1356.0ZM643.6,1323.3L613.6,1306.8L613.6,1339.8ZM640.2,1326.3L610.2,1309.8L610.2,1342.8ZM636.8,1341.3L606.8,1324.8L606.8,1357.8ZM633.4,1315.7L603.4,1299.2L603.4,1332.2ZM630.0,1313.5L600.0,1297.0L600.0,1330.0ZM626.7,1334.4L596.7,1317.9L596.7,1350.9ZM623.3,1335.3L593.3,1318.8L593.3,1351.8ZM620.0,1345.2L590.0,1328.7L590.0,1361.7ZM616.7,1329.7L586.7,1313.2L586.7,1346.2ZM613.4,1315.4L583.4,1298.9L583.4,1331.9ZM610.1,1320.5L580.1,1304.0L580.1,1337.0ZM606.8,1321.3L576.8,1304.8L576.8,1337.8ZM603.5,1327.3L573.5,1310.8L573.5,1343.8ZM600.2,1330.1L570.2,1313.6L570.2,1346.6ZM597.0,1340.4L567.0,1323.9L567.0,1356.9ZM593.8,1335.2L563.8,1318.7L563.8,1351.7ZM590.6,1329.4L560.6,1312.9L560.6,1345.9ZM587.4,1340.3L557.4,1323.8L557.4,1356.8ZM584.2,1339.5L554.2,1323.0L554.2,1356.0ZM581.0,1338.9L551.0,1322.4L551.0,1355.4ZM577.8,1329.3L547.8,1312.8L547.8,1345.8ZM574.7,1337.8L544.7,1321.3L544.7,1354.3ZM571.5,1326.2L541.5,1309.7L541.5,1342.7ZM568.4,1337.0L538.4,1320.5L538.4,1353.5ZM565.3,1338.7L535.3,1322.2L535.3,1355.2ZM562.2,1331.7L532.2,1315.2L532.2,1348.2ZM559.1,1329.1L529.1,1312.6L529.1,1345.6ZM556.0,1326.3L526.0,1309.8L526.0,1342.8ZM553.0,1345.5L523.0,1329.0L523.0,1362.0ZM549.9,1330.0L519.9,1313.5L519.9,1346.5ZM546.9,1330.0L516.9,1313.5L516.9,1346.5ZM543.8,1337.0L513.8,1320.5L513.8,1353.5ZM540.8,1324.0L510.8,1307.5L510.8,1340.5ZM537.8,1319.8L507.8,1303.3L507.8,1336.3ZM534.8,1340.0L504.8,1323.5L504.8,1356.5ZM531.8,1323.8L501.8,1307.3L501.8,1340.3ZM528.8,1317.1L498.8,1300.6L498.8,1333.6ZM525.9,1337.4L495.9,1320.9L495.9,1353.9ZM522.9,1345.4L492.9,1328.9L492.9,1361.9ZM520.0,1322.1L490.0,1305.6L490.0,1338.6ZM517.1,1328.6L487.1,1312.1L487.1,1345.1ZM514.2,1331.2L484.2,1314.7L484.2,1347.7ZM511.3,1311.1L481.3,1294.6L481.3,1327.6ZM508.4,1318.5L478.4,1302.0L478.4,1335.0ZM505.5,1333.6L475.5,1317.1L475.5,1350.1ZM502.6,1323.7L472.6,1307.2L472.6,1340.2ZM499.7,1322.7L469.7,1306.2L469.7,1339.2ZM496.9,1321.0L466.9,1304.5L466.9,1337.5ZM494.1,1324.8L464.1,1308.3L464.1,1341.3ZM491.2,1349.3L461.2,1332.8L461.2,1365.8ZM488.4,1329.1L458.4,1312.6L458.4,1345.6ZM485.6,1329.4L455.6,1312.9L455.6,1345.9ZM482.8,1321.2L452.8,1304.7L452.8,1337.7ZM480.0,1328.8L450.0,1312.3L450.0,1345.3ZM477.2,1332.8L447.2,1316.3L447.2,1349.3ZM474.5,1311.1L444.5,1294.6L444.5,1327.6ZM471.7,1324.3L441.7,1307.8L441.7,1340.8ZM469.0,1316.6L439.0,1300.1L439.0,1333.1ZM466.2,1331.9L436.2,1315.4L436.2,1348.4ZM463.5,1328.1L433.5,1311.6L433.5,1344.6ZM460.8,1351.4L430.8,1334.9L430.8,1367.9ZM458.1,1329.5L428.1,1313.0L428.1,1346.0ZM455.4,1328.7L425.4,1312.2L425.4,1345.2ZM452.7,1337.3L422.7,1320.8L422.7,1353.8ZM450.0,1326.2L420.0,1309.7L420.0,1342.7ZM447.4,1312.5L417.4,1296.0L417.4,1329.0ZM444.7,1336.1L414.7,1319.6L414.7,1352.6ZM442.1,1331.6L412.1,1315.1L412.1,1348.1ZM439.4,1327.9L409.4,1311.4L409.4,1344.4ZM436.8,1336.3L406.8,1319.8L406.8,1352.8ZM434.2,1322.2L404.2,1305.7L404.2,1338.7ZM431.6,1330.9L401.6,1314.4L401.6,1347.4ZM429.0,1346.4L399.0,1329.9L399.0,1362.9ZM426.4,1325.4L396.4,1308.9L396.4,1341.9ZM423.8,1338.7L393.8,1322.2L393.8,1355.2ZM421.2,1323.2L391.2,1306.7L391.2,1339.7ZM418.7,1339.8L388.7,1323.3L388.7,1356.3ZM416.1,1325.5L386.1,1309.0L386.1,1342.0ZM413.6,1340.7L383.6,1324.2L383.6,1357.2ZM411.1,1323.0L381.1,1306.5L381.1,1339.5ZM408.5,1328.9L378.5,1312.4L378.5,1345.4ZM406.0,1325.8L376.0,1309.3L376.0,1342.3ZM403.5,1324.7L373.5,1308.2L373.5,1341.2ZM401.0,1333.4L371.0,1316.9L371.0,1349.9ZM398.5,1337.6L368.5,1321.1L368.5,1354.1ZM396.0,1338.1L366.0,1321.6L366.0,1354.6ZM393.6,1332.9L363.6,1316.4L363.6,1349.4ZM391.1,1327.9L361.1,1311.4L361.1,1344.4ZM388.7,1331.0L358.7,1314.5L358.7,1347.5ZM386.2,1332.1L356.2,1315.6L356.2,1348.6ZM383.8,1318.4L353.8,1301.9L353.8,1334.9ZM381.3,1320.5L351.3,1304.0L351.3,1337.0ZM378.9,1331.0L348.9,1314.5L348.9,1347.5ZM376.5,1330.1L346.5,1313.6L346.5,1346.6ZM374.1,1344.5L344.1,1328.0L344.1,1361.0ZM371.7,1321.0L341.7,1304.5L341.7,1337.5ZM369.3,1313.5L339.3,1297.0L339.3,1330.0ZM366.9,1342.6L336.9,1326.1L336.9,1359.1ZM364.6,1314.5L334.6,1298.0L334.6,1331.0ZM362.2,1331.2L332.2,1314.7L332.2,1347.7ZM359.9,1337.3L329.9,1320.8L329.9,1353.8ZM357.5,1328.5L327.5,1312.0L327.5,1345.0ZM355.2,1334.2L325.2,1317.7L325.2,1350.7ZM352.8,1329.0L322.8,1312.5L322.8,1345.5ZM350.5,1329.5L320.5,1313.0L320.5,1346.0ZM348.2,1335.5L318.2,1319.0L318.2,1352.0ZM345.9,1328.2L315.9,1311.7L315.9,1344.7ZM343.6,1335.5L313.6,1319.0L313.6,1352.0ZM341.3,1345.2L311.3,1328.7L311.3,1361.7Z"/>
<path fill="#800080" d="M2045.6,1334.4L2063.1,1352.9L2045.6,1371.4L2028.1,1352.9ZM2033.7,1341.5L2051.2,1360.0L2033.7,1378.5L2016.2,1360.0ZM2022.0,1323.1L2039.5,1341.6L2022.0,1360.1L2004.5,1341.6ZM2010.4,1348.9L2027.9,1367.4L2010.4,1385.9L1992.9,1367.4ZM1998.8,1332.7L2016.3,1351.2L1998.8,1369.7L1981.3,1351.2ZM1987.4,1338.4L2004.9,1356.9L1987.4,1375.4L1969.9,1356.9ZM1976.0,1339.9L1993.5,1358.4L1976.0,1376.9L1958.5,1358.4ZM1964.7,1329.8L1982.2,1348.3L1964.7,1366.8L1947.2,1348.3ZM1953.5,1350.3L1971.0,1368.8L1953.5,1387.3L1936.0,1368.8ZM1942.4,1344.4L1959.9,1362.9L1942.4,1381.4L1924.9,1362.9ZM1931.3,1338.2L1948.8,1356.7L1931.3,1375.2L1913.8,1356.7ZM1920.4,1325.1L1937.9,1343.6L1920.4,1362.1L1902.9,1343.6ZM1909.5,1336.8L1927.0,1355.3L1909.5,1373.8L1892.0,1355.3ZM1898.7,1331.1L1916.2,1349.6L1898.7,1368.1L1881.2,1349.6ZM1888.0,1350.5L1905.5,1369.0L1888.0,1387.5L1870.5,1369.0ZM1877.3,1346.1L1894.8,1364.6L1877.3,1383.1L1859.8,1364.6ZM1866.8,1330.6L1884.3,1349.1L1866.8,1367.6L1849.3,1349.1ZM1856.3,1341.7L1873.8,1360.2L1856.3,1378.7L1838.8,1360.2ZM1845.9,1337.8L1863.4,1356.3L1845.9,1374.8L1828.4,1356.3ZM1835.5,1332.2L1853.0,1350.7L1835.5,1369.2L1818.0,1350.7ZM1825.3,1351.3L1842.8,1369.8L1825.3,1388.3L1807.8,1369.8ZM1815.1,1345.7L1832.6,1364.2L1815.1,1382.7L1797.6,1364.2ZM1804.9,1337.9L1822.4,1356.4L1804.9,1374.9L1787.4,1356.4ZM1794.9,1348.0L1812.4,1366.5L1794.9,1385.0L1777.4,1366.5ZM1784.9,1342.2L1802.4,1360.7L1784.9,1379.2L1767.4,1360.7ZM1775.0,1337.5L1792.5,1356.0L1775.0,1374.5L1757.5,1356.0ZM1765.2,1341.8L1782.7,1360.3L1765.2,1378.8L1747.7,1360.3ZM1755.4,1339.1L1772.9,1357.6L1755.4,1376.1L1737.9,1357.6ZM1745.7,1336.9L1763.2,1355.4L1745.7,1373.9L1728.2,1355.4ZM1736.1,1328.0L1753.6,1346.5L1736.1,1365.0L1718.6,1346.5ZM1726.5,1326.3L1744.0,1344.8L1726.5,1363.3L1709.0,1344.8ZM1717.0,1339.8L1734.5,1358.3L1717.0,1376.8L1699.5,1358.3ZM1707.6,1342.8L1725.1,1361.3L1707.6,1379.8L1690.1,1361.3ZM1698.2,1331.0L1715.7,1349.5L1698.2,1368.0L1680.7,1349.5ZM1688.9,1333.6L1706.4,1352.1L1688.9,1370.6L1671.4,1352.1ZM1679.7,1335.3L1697.2,1353.8L1679.7,1372.3L1662.2,1353.8ZM1670.5,1343.2L1688.0,1361.7L1670.5,1380.2L1653.0,1361.7ZM1661.4,1332.6L1678.9,1351.1L1661.4,1369.6L1643.9,1351.1ZM1652.3,1331.0L1669.8,1349.5L1652.3,1368.0L1634.8,1349.5ZM1643.3,1349.1L1660.8,1367.6L1643.3,1386.1L1625.8,1367.6ZM1634.4,1330.0L1651.9,1348.5L1634.4,1367.0L1616.9,1348.5ZM1625.5,1337.4L1643.0,1355.9L1625.5,1374.4L1608.0,1355.9ZM1616.7,1341.9L1634.2,1360.4L1616.7,1378.9L1599.2,1360.4ZM1608.0,1347.5L1625.5,1366.0L1608.0,1384.5L1590.5,1366.0ZM1599.3,1339.1L1616.8,1357.6L1599.3,1376.1L1581.8,1357.6ZM1590.6,1337.2L1608.1,1355.7L1590.6,1374.2L1573.1,1355.7ZM1582.0,1339.3L1599.5,1357.8L1582.0,1376.3L1564.5,1357.8ZM1573.5,1344.8L1591.0,1363.3L1573.5,1381.8L1556.0,1363.3ZM1565.0,1344.7L1582.5,1363.2L1565.0,1381.7L1547.5,1363.2ZM1556.6,1331.9L1574.1,1350.4L1556.6,1368.9L1539.1,1350.4ZM1548.2,1336.3L1565.7,1354.8L1548.2,1373.3L1530.7,1354.8ZM1539.9,1334.7L1557.4,1353.2L1539.9,1371.7L1522.4,1353.2ZM1531.7,1332.4L1549.2,1350.9L1531.7,1369.4L1514.2,1350.9ZM1523.5,1331.9L1541.0,1350.4L1523.5,1368.9L1506.0,1350.4ZM1515.3,1325.6L1532.8,1344.1L1515.3,1362.6L1497.8,1344.1ZM1507.2,1336.9L1524.7,1355.4L1507.2,1373.9L1489.7,1355.4ZM1499.2,1337.9L1516.7,1356.4L1499.2,1374.9L1481.7,1356.4ZM1491.2,1342.0L1508.7,1360.5L1491.2,1379.0L1473.7,1360.5ZM1483.2,1334.9L1500.7,1353.4L1483.2,1371.9L1465.7,1353.4ZM1475.3,1334.8L1492.8,1353.3L1475.3,1371.8L1457.8,1353.3ZM1467.5,1340.4L1485.0,1358.9L1467.5,1377.4L1450.0,1358.9ZM1459.7,1336.4L1477.2,1354.9L1459.7,1373.4L1442.2,1354.9ZM1451.9,1336.2L1469.4,1354.7L1451.9,1373.2L1434.4,1354.7ZM1444.2,1325.8L1461.7,1344.3L1444.2,1362.8L1426.7,1344.3ZM1436.6,1338.6L1454.1,1357.1L1436.6,1375.6L1419.1,1357.1ZM1429.0,1329.9L1446.5,1348.4L1429.0,1366.9L1411.5,1348.4ZM1421.4,1334.0L1438.9,1352.5L1421.4,1371.0L1403.9,1352.5ZM1413.9,1336.3L1431.4,1354.8L1413.9,1373.3L1396.4,1354.8ZM1406.4,1333.9L1423.9,1352.4L1406.4,1370.9L1388.9,1352.4ZM1399.0,1333.9L1416.5,1352.4L1399.0,1370.9L1381.5,1352.4ZM1391.6,1335.3L1409.1,1353.8L1391.6,1372.3L1374.1,1353.8ZM1384.3,1335.7L1401.8,1354.2L1384.3,1372.7L1366.8,1354.2ZM1377.0,1335.6L1394.5,1354.1L1377.0,1372.6L1359.5,1354.1ZM1369.8,1334.8L1387.3,1353.3L1369.8,1371.8L1352.3,1353.3ZM1362.6,1330.7L1380.1,1349.2L1362.6,1367.7L1345.1,1349.2ZM1355.4,1331.5L1372.9,1350.0L1355.4,1368.5L1337.9,1350.0ZM1348.3,1325.3L1365.8,1343.8L1348.3,1362.3L1330.8,1343.8ZM1341.2,1321.8L1358.7,1340.3L1341.2,1358.8L1323.7,1340.3ZM1334.2,1326.4L1351.7,1344.9L1334.2,1363.4L1316.7,1344.9ZM1327.2,1324.6L1344.7,1343.1L1327.2,1361.6L1309.7,1343.1ZM1320.3,1313.3L1337.8,1331.8L1320.3,1350.3L1302.8,1331.8ZM1313.4,1315.8L1330.9,1334.3L1313.4,1352.8L1295.9,1334.3ZM1306.5,1307.9L1324.0,1326.4L1306.5,1344.9L1289.0,1326.4ZM1299.7,1302.6L1317.2,1321.1L1299.7,1339.6L1282.2,1321.1ZM1292.9,1291.3L1310.4,1309.8L1292.9,1328.3L1275.4,1309.8ZM1286.1,1276.0L1303.6,1294.5L1286.1,1313.0L1268.6,1294.5ZM1279.4,1266.2L1296.9,1284.7L1279.4,1303.2L1261.9,1284.7ZM1272.8,1259.3L1290.3,1277.8L1272.8,1296.3L1255.3,1277.8ZM1266.1,1233.9L1283.6,1252.4L1266.1,1270.9L1248.6,1252.4ZM1259.5,1204.5L1277.0,1223.0L1259.5,1241.5L1242.0,1223.0ZM1253.0,1174.2L1270.5,1192.7L1253.0,1211.2L1235.5,1192.7ZM1246.5,1142.4L1264.0,1160.9L1246.5,1179.4L1229.0,1160.9ZM1240.0,1132.1L1257.5,1150.6L1240.0,1169.1L1222.5,1150.6ZM1233.6,1081.7L1251.1,1100.2L1233.6,1118.7L1216.1,1100.2ZM1227.1,1059.5L1244.6,1078.0L1227.1,1096.5L1209.6,1078.0ZM1220.8,1005.9L1238.3,1024.4L1220.8,1042.9L1203.3,1024.4ZM1214.4,967.7L1231.9,986.2L1214.4,1004.7L1196.9,986.2ZM1208.1,899.5L1225.6,918.0L1208.1,936.5L1190.6,918.0ZM1201.9,837.0L1219.4,855.5L1201.9,874.0L1184.4,855.5ZM1195.7,805.1L1213.2,823.6L1195.7,842.1L1178.2,823.6ZM1189.5,745.7L1207.0,764.2L1189.5,782.7L1172.0,764.2ZM1183.3,677.9L1200.8,696.4L1183.3,714.9L1165.8,696.4ZM1177.2,639.3L1194.7,657.8L1177.2,676.3L1159.7,657.8ZM1171.1,573.0L1188.6,591.5L1171.1,610.0L1153.6,591.5ZM1165.0,494.9L1182.5,513.4L1165.0,531.9L1147.5,513.4ZM1159.0,439.7L1176.5,458.2L1159.0,476.7L1141.5,458.2ZM1153.0,379.4L1170.5,397.9L1153.0,416.4L1135.5,397.9ZM1147.0,335.4L1164.5,353.9L1147.0,372.4L1129.5,353.9ZM1141.1,286.4L1158.6,304.9L1141.1,323.4L1123.6,304.9ZM1135.2,241.3L1152.7,259.8L1135.2,278.3L1117.7,259.8ZM1129.4,211.6L1146.9,230.1L1129.4,248.6L1111.9,230.1ZM1123.5,210.7L1141.0,229.2L1123.5,247.7L1106.0,229.2ZM1117.7,218.2L1135.2,236.7L1117.7,255.2L1100.2,236.7ZM1112.0,230.1L1129.5,248.6L1112.0,267.1L1094.5,248.6ZM1106.2,251.6L1123.7,270.1L1106.2,288.6L1088.7,270.1ZM1100.5,283.2L1118.0,301.7L1100.5,320.2L1083.0,301.7ZM1094.9,321.1L1112.4,339.6L1094.9,358.1L1077.4,339.6ZM1089.2,346.5L1106.7,365.0L1089.2,383.5L1071.7,365.0ZM1083.6,389.9L1101.1,408.4L1083.6,426.9L1066.1,408.4ZM1078.0,444.4L1095.5,462.9L1078.0,481.4L1060.5,462.9ZM1072.4,495.6L1089.9,514.1L1072.4,532.6L1054.9,514.1ZM1066.9,549.6L1084.4,568.1L1066.9,586.6L1049.4,568.1ZM1061.4,600.6L1078.9,619.1L1061.4,637.6L1043.9,619.1ZM1056.0,676.6L1073.5,695.1L1056.0,713.6L1038.5,695.1ZM1050.5,723.6L1068.0,742.1L1050.5,760.6L1033.0,742.1ZM1045.1,774.2L1062.6,792.7L1045.1,811.2L1027.6,792.7ZM1039.7,830.1L1057.2,848.6L1039.7,867.1L1022.2,848.6ZM1034.4,860.7L1051.9,879.2L1034.4,897.7L1016.9,879.2ZM1029.0,903.3L1046.5,921.8L1029.0,940.3L1011.5,921.8ZM1023.7,928.5L1041.2,947.0L1023.7,965.5L1006.2,947.0ZM1018.5,971.4L1036.0,989.9L1018.5,1008.4L1001.0,989.9ZM1013.2,1018.0L1030.7,1036.5L1013.2,1055.0L995.7,1036.5ZM1008.0,1061.2L1025.5,1079.7L1008.0,1098.2L990.5,1079.7ZM1002.8,1108.9L1020.3,1127.4L1002.8,1145.9L985.3,1127.4ZM997.6,1123.2L1015.1,1141.7L997.6,1160.2L980.1,1141.7ZM992.5,1137.6L1010.0,1156.1L992.5,1174.6L975.0,1156.1ZM987.4,1153.0L1004.9,1171.5L987.4,1190.0L969.9,1171.5ZM982.3,1182.3L999.8,1200.8L982.3,1219.3L964.8,1200.8ZM977.2,1202.7L994.7,1221.2L977.2,1239.7L959.7,1221.2ZM972.2,1207.1L989.7,1225.6L972.2,1244.1L954.7,1225.6ZM967.2,1208.0L984.7,1226.5L967.2,1245.0L949.7,1226.5ZM962.2,1221.1L979.7,1239.6L962.2,1258.1L944.7,1239.6ZM957.2,1239.5L974.7,1258.0L957.2,1276.5L939.7,1258.0ZM952.3,1235.1L969.8,1253.6L952.3,1272.1L934.8,1253.6ZM947.4,1244.7L964.9,1263.2L947.4,1281.7L929.9,1263.2ZM942.5,1251.0L960.0,1269.5L942.5,1288.0L925.0,1269.5ZM937.6,1258.9L955.1,1277.4L937.6,1295.9L920.1,1277.4ZM932.8,1261.7L950.3,1280.2L932.8,1298.7L915.3,1280.2ZM928.0,1266.3L945.5,1284.8L928.0,1303.3L910.5,1284.8ZM923.2,1279.1L940.7,1297.6L923.2,1316.1L905.7,1297.6ZM918.4,1271.2L935.9,1289.7L918.4,1308.2L900.9,1289.7ZM913.6,1280.8L931.1,1299.3L913.6,1317.8L896.1,1299.3ZM908.9,1283.2L926.4,1301.7L908.9,1320.2L891.4,1301.7ZM904.2,1287.8L921.7,1306.3L904.2,1324.8L886.7,1306.3ZM899.5,1281.2L917.0,1299.7L899.5,1318.2L882.0,1299.7ZM894.9,1285.9L912.4,1304.4L894.9,1322.9L877.4,1304.4ZM890.3,1285.5L907.8,1304.0L890.3,1322.5L872.8,1304.0ZM885.6,1298.6L903.1,1317.1L885.6,1335.6L868.1,1317.1ZM881.1,1307.9L898.6,1326.4L881.1,1344.9L863.6,1326.4ZM876.5,1302.5L894.0,1321.0L876.5,1339.5L859.0,1321.0ZM871.9,1293.5L889.4,1312.0L871.9,1330.5L854.4,1312.0ZM867.4,1293.2L884.9,1311.7L867.4,1330.2L849.9,1311.7ZM862.9,1311.1L880.4,1329.6L862.9,1348.1L845.4,1329.6ZM858.4,1294.5L875.9,1313.0L858.4,1331.5L840.9,1313.0ZM854.0,1318.8L871.5,1337.3L854.0,1355.8L836.5,1337.3ZM849.5,1308.1L867.0,1326.6L849.5,1345.1L832.0,1326.6ZM845.1,1307.0L862.6,1325.5L845.1,1344.0L827.6,1325.5ZM840.7,1294.1L858.2,1312.6L840.7,1331.1L823.2,1312.6ZM836.3,1328.5L853.8,1347.0L836.3,1365.5L818.8,1347.0ZM832.0,1325.2L849.5,1343.7L832.0,1362.2L814.5,1343.7ZM827.7,1330.8L845.2,1349.3L827.7,1367.8L810.2,1349.3ZM823.3,1320.9L840.8,1339.4L823.3,1357.9L805.8,1339.4ZM819.0,1331.0L836.5,1349.5L819.0,1368.0L801.5,1349.5ZM814.8,1306.7L832.3,1325.2L814.8,1343.7L797.3,1325.2ZM810.5,1322.9L828.0,1341.4L810.5,1359.9L793.0,1341.4ZM806.3,1318.0L823.8,1336.5L806.3,1355.0L788.8,1336.5ZM802.1,1289.6L819.6,1308.1L802.1,1326.6L784.6,1308.1ZM797.9,1305.9L815.4,1324.4L797.9,1342.9L780.4,1324.4ZM793.7,1316.7L811.2,1335.2L793.7,1353.7L776.2,1335.2ZM789.5,1305.4L807.0,1323.9L789.5,1342.4L772.0,1323.9ZM785.4,1304.4L802.9,1322.9L785.4,1341.4L767.9,1322.9ZM781.3,1298.5L798.8,1317.0L781.3,1335.5L763.8,1317.0ZM777.2,1318.6L794.7,1337.1L777.2,1355.6L759.7,1337.1ZM773.1,1308.2L790.6,1326.7L773.1,1345.2L755.6,1326.7ZM769.0,1311.1L786.5,1329.6L769.0,1348.1L751.5,1329.6ZM765.0,1312.0L782.5,1330.5L765.0,1349.0L747.5,1330.5ZM760.9,1315.5L778.4,1334.0L760.9,1352.5L743.4,1334.0ZM756.9,1302.4L774.4,1320.9L756.9,1339.4L739.4,1320.9ZM752.9,1303.3L770.4,1321.8L752.9,1340.3L735.4,1321.8ZM749.0,1327.4L766.5,1345.9L749.0,1364.4L731.5,1345.9ZM745.0,1318.5L762.5,1337.0L745.0,1355.5L727.5,1337.0ZM741.1,1312.1L758.6,1330.6L741.1,1349.1L723.6,1330.6ZM737.1,1302.7L754.6,1321.2L737.1,1339.7L719.6,1321.2ZM733.2,1308.6L750.7,1327.1L733.2,1345.6L715.7,1327.1ZM729.3,1302.0L746.8,1320.5L729.3,1339.0L711.8,1320.5ZM725.5,1313.1L743.0,1331.6L725.5,1350.1L708.0,1331.6ZM721.6,1316.5L739.1,1335.0L721.6,1353.5L704.1,1335.0ZM717.8,1309.0L735.3,1327.5L717.8,1346.0L700.3,1327.5ZM714.0,1297.1L731.5,1315.6L714.0,1334.1L696.5,1315.6ZM710.2,1317.9L727.7,1336.4L710.2,1354.9L692.7,1336.4ZM706.4,1315.2L723.9,1333.7L706.4,1352.2L688.9,1333.7ZM702.6,1318.5L720.1,1337.0L702.6,1355.5L685.1,1337.0ZM698.9,1312.2L716.4,1330.7L698.9,1349.2L681.4,1330.7ZM695.1,1301.0L712.6,1319.5L695.1,1338.0L677.6,1319.5ZM691.4,1311.1L708.9,1329.6L691.4,1348.1L673.9,1329.6ZM687.7,1313.0L705.2,1331.5L687.7,1350.0L670.2,1331.5ZM684.0,1315.1L701.5,1333.6L684.0,1352.1L666.5,1333.6ZM680.3,1323.6L697.8,1342.1L680.3,1360.6L662.8,1342.1ZM676.7,1314.0L694.2,1332.5L676.7,1351.0L659.2,1332.5ZM673.0,1331.6L690.5,1350.1L673.0,1368.6L655.5,1350.1ZM669.4,1308.7L686.9,1327.2L669.4,1345.7L651.9,1327.2ZM665.8,1317.3L683.3,1335.8L665.8,1354.3L648.3,1335.8ZM662.2,1305.8L679.7,1324.3L662.2,1342.8L644.7,1324.3ZM658.6,1310.9L676.1,1329.4L658.6,1347.9L641.1,1329.4ZM655.0,1311.7L672.5,1330.2L655.0,1348.7L637.5,1330.2ZM651.5,1319.9L669.0,1338.4L651.5,1356.9L634.0,1338.4ZM648.0,1301.5L665.5,1320.0L648.0,1338.5L630.5,1320.0ZM644.4,1302.0L661.9,1320.5L644.4,1339.0L626.9,1320.5ZM640.9,1324.6L658.4,1343.1L640.9,1361.6L623.4,1343.1ZM637.4,1310.0L654.9,1328.5L637.4,1347.0L619.9,1328.5ZM634.0,1295.4L651.5,1313.9L634.0,1332.4L616.5,1313.9ZM630.5,1309.3L648.0,1327.8L630.5,1346.3L613.0,1327.8ZM627.1,1321.0L644.6,1339.5L627.1,1358.0L609.6,1339.5ZM623.6,1330.7L641.1,1349.2L623.6,1367.7L606.1,1349.2ZM620.2,1297.0L637.7,1315.5L620.2,1334.0L602.7,1315.5ZM616.8,1325.1L634.3,1343.6L616.8,1362.1L599.3,1343.6ZM613.4,1331.8L630.9,1350.3L613.4,1368.8L595.9,1350.3ZM610.0,1300.5L627.5,1319.0L610.0,1337.5L592.5,1319.0ZM606.7,1305.4L624.2,1323.9L606.7,1342.4L589.2,1323.9ZM603.3,1310.9L620.8,1329.4L603.3,1347.9L585.8,1329.4ZM600.0,1307.4L617.5,1325.9L600.0,1344.4L582.5,1325.9ZM596.7,1312.5L614.2,1331.0L596.7,1349.5L579.2,1331.0ZM593.4,1306.3L610.9,1324.8L593.4,1343.3L575.9,1324.8ZM590.1,1310.7L607.6,1329.2L590.1,1347.7L572.6,1329.2ZM586.8,1309.3L604.3,1327.8L586.8,1346.3L569.3,1327.8ZM583.5,1311.2L601.0,1329.7L583.5,1348.2L566.0,1329.7ZM580.2,1305.8L597.7,1324.3L580.2,1342.8L562.7,1324.3ZM577.0,1318.5L594.5,1337.0L577.0,1355.5L559.5,1337.0ZM573.8,1309.6L591.3,1328.1L573.8,1346.6L556.3,1328.1ZM570.6,1329.5L588.1,1348.0L570.6,1366.5L553.1,1348.0ZM567.4,1315.9L584.9,1334.4L567.4,1352.9L549.9,1334.4ZM564.2,1298.9L581.7,1317.4L564.2,1335.9L546.7,1317.4ZM561.0,1312.6L578.5,1331.1L561.0,1349.6L543.5,1331.1ZM557.8,1317.2L575.3,1335.7L557.8,1354.2L540.3,1335.7ZM554.7,1315.2L572.2,1333.7L554.7,1352.2L537.2,1333.7ZM551.5,1304.2L569.0,1322.7L551.5,1341.2L534.0,1322.7ZM548.4,1319.6L565.9,1338.1L548.4,1356.6L530.9,1338.1ZM545.3,1293.7L562.8,1312.2L545.3,1330.7L527.8,1312.2ZM542.2,1310.8L559.7,1329.3L542.2,1347.8L524.7,1329.3ZM539.1,1307.3L556.6,1325.8L539.1,1344.3L521.6,1325.8ZM536.0,1290.4L553.5,1308.9L536.0,1327.4L518.5,1308.9ZM533.0,1290.4L550.5,1308.9L533.0,1327.4L515.5,1308.9ZM529.9,1316.7L547.4,1335.2L529.9,1353.7L512.4,1335.2ZM526.9,1318.3L544.4,1336.8L526.9,1355.3L509.4,1336.8ZM523.8,1314.7L541.3,1333.2L523.8,1351.7L506.3,1333.2ZM520.8,1309.5L538.3,1328.0L520.8,1346.5L503.3,1328.0ZM517.8,1299.1L535.3,1317.6L517.8,1336.1L500.3,1317.6ZM514.8,1319.4L532.3,1337.9L514.8,1356.4L497.3,1337.9ZM511.8,1311.1L529.3,1329.6L511.8,1348.1L494.3,1329.6ZM508.8,1324.5L526.3,1343.0L508.8,1361.5L491.3,1343.0ZM505.9,1296.5L523.4,1315.0L505.9,1333.5L488.4,1315.0ZM502.9,1298.5L520.4,1317.0L502.9,1335.5L485.4,1317.0ZM500.0,1331.9L517.5,1350.4L500.0,1368.9L482.5,1350.4ZM497.1,1309.2L514.6,1327.7L497.1,1346.2L479.6,1327.7ZM494.2,1313.9L511.7,1332.4L494.2,1350.9L476.7,1332.4ZM491.3,1309.7L508.8,1328.2L491.3,1346.7L473.8,1328.2ZM488.4,1308.8L505.9,1327.3L488.4,1345.8L470.9,1327.3ZM485.5,1311.7L503.0,1330.2L485.5,1348.7L468.0,1330.2ZM482.6,1306.5L500.1,1325.0L482.6,1343.5L465.1,1325.0ZM479.7,1313.6L497.2,1332.1L479.7,1350.6L462.2,1332.1ZM476.9,1297.8L494.4,1316.3L476.9,1334.8L459.4,1316.3ZM474.1,1300.6L491.6,1319.1L474.1,1337.6L456.6,1319.1ZM471.2,1332.0L488.7,1350.5L471.2,1369.0L453.7,1350.5ZM468.4,1300.9L485.9,1319.4L468.4,1337.9L450.9,1319.4ZM465.6,1310.4L483.1,1328.9L465.6,1347.4L448.1,1328.9ZM462.8,1323.8L480.3,1342.3L462.8,1360.8L445.3,1342.3ZM460.0,1315.4L477.5,1333.9L460.0,1352.4L442.5,1333.9ZM457.2,1307.5L474.7,1326.0L457.2,1344.5L439.7,1326.0ZM454.5,1299.6L472.0,1318.1L454.5,1336.6L437.0,1318.1ZM451.7,1298.6L469.2,1317.1L451.7,1335.6L434.2,1317.1ZM449.0,1315.5L466.5,1334.0L449.0,1352.5L431.5,1334.0ZM446.2,1313.3L463.7,1331.8L446.2,1350.3L428.7,1331.8ZM443.5,1299.4L461.0,1317.9L443.5,1336.4L426.0,1317.9ZM440.8,1310.3L458.3,1328.8L440.8,1347.3L423.3,1328.8ZM438.1,1315.3L455.6,1333.8L438.1,1352.3L420.6,1333.8ZM435.4,1332.0L452.9,1350.5L435.4,1369.0L417.9,1350.5ZM432.7,1305.3L450.2,1323.8L432.7,1342.3L415.2,1323.8ZM430.0,1307.9L447.5,1326.4L430.0,1344.9L412.5,1326.4ZM427.4,1315.5L444.9,1334.0L427.4,1352.5L409.9,1334.0ZM424.7,1311.7L442.2,1330.2L424.7,1348.7L407.2,1330.2ZM422.1,1328.0L439.6,1346.5L422.1,1365.0L404.6,1346.5ZM419.4,1306.3L436.9,1324.8L419.4,1343.3L401.9,1324.8ZM416.8,1297.1L434.3,1315.6L416.8,1334.1L399.3,1315.6ZM414.2,1300.1L431.7,1318.6L414.2,1337.1L396.7,1318.6ZM411.6,1320.9L429.1,1339.4L411.6,1357.9L394.1,1339.4ZM409.0,1319.1L426.5,1337.6L409.0,1356.1L391.5,1337.6ZM406.4,1317.3L423.9,1335.8L406.4,1354.3L388.9,1335.8ZM403.8,1316.2L421.3,1334.7L403.8,1353.2L386.3,1334.7ZM401.2,1306.4L418.7,1324.9L401.2,1343.4L383.7,1324.9ZM398.7,1302.2L416.2,1320.7L398.7,1339.2L381.2,1320.7ZM396.1,1319.7L413.6,1338.2L396.1,1356.7L378.6,1338.2ZM393.6,1316.6L411.1,1335.1L393.6,1353.6L376.1,1335.1ZM391.1,1324.4L408.6,1342.9L391.1,1361.4L373.6,1342.9ZM388.5,1290.5L406.0,1309.0L388.5,1327.5L371.0,1309.0ZM386.0,1323.5L403.5,1342.0L386.0,1360.5L368.5,1342.0ZM383.5,1297.1L401.0,1315.6L383.5,1334.1L366.0,1315.6ZM381.0,1308.3L398.5,1326.8L381.0,1345.3L363.5,1326.8ZM378.5,1307.3L396.0,1325.8L378.5,1344.3L361.0,1325.8ZM376.0,1306.0L393.5,1324.5L376.0,1343.0L358.5,1324.5ZM373.6,1319.2L391.1,1337.7L373.6,1356.2L356.1,1337.7ZM371.1,1301.3L388.6,1319.8L371.1,1338.3L353.6,1319.8ZM368.7,1327.4L386.2,1345.9L368.7,1364.4L351.2,1345.9ZM366.2,1314.8L383.7,1333.3L366.2,1351.8L348.7,1333.3ZM363.8,1298.6L381.3,1317.1L363.8,1335.6L346.3,1317.1ZM361.3,1308.9L378.8,1327.4L361.3,1345.9L343.8,1327.4ZM358.9,1324.4L376.4,1342.9L358.9,1361.4L341.4,1342.9ZM356.5,1318.9L374.0,1337.4L356.5,1355.9L339.0,1337.4ZM354.1,1318.1L371.6,1336.6L354.1,1355.1L336.6,1336.6ZM351.7,1293.0L369.2,1311.5L351.7,1330.0L334.2,1311.5ZM349.3,1311.6L366.8,1330.1L349.3,1348.6L331.8,1330.1ZM346.9,1311.1L364.4,1329.6L346.9,1348.1L329.4,1329.6ZM344.6,1304.5L362.1,1323.0L344.6,1341.5L327.1,1323.0ZM342.2,1299.5L359.7,1318.0L342.2,1336.5L324.7,1318.0ZM339.9,1312.0L357.4,1330.5L339.9,1349.0L322.4,1330.5ZM337.5,1309.1L355.0,1327.6L337.5,1346.1L320.0,1327.6ZM335.2,1322.0L352.7,1340.5L335.2,1359.0L317.7,1340.5ZM332.8,1310.7L350.3,1329.2L332.8,1347.7L315.3,1329.2ZM330.5,1330.8L348.0,1349.3L330.5,1367.8L313.0,1349.3ZM328.2,1307.0L345.7,1325.5L328.2,1344.0L310.7,1325.5ZM325.9,1303.6L343.4,1322.1L325.9,1340.6L308.4,1322.1ZM323.6,1321.7L341.1,1340.2L323.6,1358.7L306.1,1340.2ZM321.3,1317.3L338.8,1335.8L321.3,1354.3L303.8,1335.8Z"/>
<polyline fill="none" stroke="#0000ff" stroke-width="4" stroke-linejoin="round" points="320.4,1357.5 322.9,1357.5 325.4,1357.5 327.8,1357.5 330.3,1357.5 332.8,1357.5 335.3,1357.5 337.8,1357.5 340.2,1357.5 342.7,1357.5 345.2,1357.5 347.7,1357.5 350.2,1357.5 352.6,1357.5 355.1,1357.5 357.6,1357.5 360.1,1357.5 362.6,1357.5 365.0,1357.5 367.5,1357.5 370.0,1357.5 372.5,1357.5 375.0,1357.5 377.4,1357.5 379.9,1357.5 382.4,1357.5 384.9,1357.5 387.4,1357.5 389.8,1357.5 392.3,1357.5 394.8,1357.5 397.3,1357.5 399.8,1357.5 402.2,1357.5 404.7,1357.5 407.2,1357.5 409.7,1357.5 412.2,1357.5 414.6,1357.5 417.1,1357.5 419.6,1357.5 422.1,1357.5 424.6,1357.5 427.0,1357.5 429.5,1357.5 432.0,1357.5 434.5,1357.5 437.0,1357.5 439.4,1357.5 441.9,1357.5 444.4,1357.5 446.9,1357.5 449.4,1357.5 451.8,1357.5 454.3,1357.5 456.8,1357.5 459.3,1357.5 461.8,1357.5 464.2,1357.5 466.7,1357.5 469.2,1357.5 471.7,1357.5 474.2,1357.5 476.6,1357.5 479.1,1357.5 481.6,1357.5 484.1,1357.5 486.6,1357.5 489.0,1357.5 491.5,1357.5 494.0,1357.5 496.5,1357.5 499.0,1357.5 501.4,1357.5 503.9,1357.5 506.4,1357.5 508.9,1357.5 511.4,1357.5 513.8,1357.5 516.3,1357.5 518.8,1357.5 521.3,1357.5 523.8,1357.5 526.2,1357.5 528.7,1357.5 531.2,1357.5 533.7,1357.5 536.2,1357.5 538.6,1357.5 541.1,1357.5 543.6,1357.5 546.1,1357.5 548.6,1357.5 551.0,1357.5 553.5,1357.5 556.0,1357.5 558.5,1357.5 561.0,1357.5 563.4,1357.5 565.9,1357.5 568.4,1357.5 570.9,1357.5 573.4,1357.5 575.8,1357.5 578.3,1357.5 580.8,1357.5 583.3,1357.5 585.8,1357.5 588.2,1357.5 590.7,1357.5 593.2,1357.5 595.7,1357.5 598.2,1357.5 600.6,1357.5 603.1,1357.5 605.6,1357.5 608.1,1357.5 610.6,1357.5 613.0,1357.5 615.5,1357.5 618.0,1357.5 620.5,1357.5 623.0,1357.5 625.4,1357.5 627.9,1357.5 630.4,1357.5 632.9,1357.5 635.4,1357.5 637.8,1357.5 640.3,1357.5 642.8,1357.5 645.3,1357.5 647.8,1357.5 650.2,1357.5 652.7,1357.5 655.2,1357.5 657.7,1357.5 660.2,1357.5 662.6,1357.5 665.1,1357.5 667.6,1357.5 670.1,1357.5 672.6,1357.5 675.0,1357.5 677.5,1357.5 680.0,1357.5 682.5,1357.5 685.0,1357.4 687.4,1357.4 689.9,1357.4 692.4,1357.4 694.9,1357.4 697.4,1357.4 699.8,1357.4 702.3,1357.4 704.8,1357.4 707.3,1357.4 709.8,1357.4 712.2,1357.4 714.7,1357.4 717.2,1357.4 719.7,1357.4 722.2,1357.4 724.6,1357.4 727.1,1357.4 729.6,1357.4 732.1,1357.4 734.6,1357.4 737.0,1357.3 739.5,1357.3 742.0,1357.3 744.5,1357.3 747.0,1357.3 749.4,1357.3 751.9,1357.3 754.4,1357.3 756.9,1357.2 759.4,1357.2 761.8,1357.2 764.3,1357.2 766.8,1357.2 769.3,1357.1 771.8,1357.1 774.2,1357.1 776.7,1357.0 779.2,1357.0 781.7,1357.0 784.2,1357.0 786.6,1356.9 789.1,1356.9 791.6,1356.8 794.1,1356.8 796.6,1356.7 799.0,1356.7 801.5,1356.6 804.0,1356.6 806.5,1356.5 809.0,1356.4 811.4,1356.4 813.9,1356.3 816.4,1356.2 818.9,1356.1 821.4,1356.1 823.8,1356.0 826.3,1355.9 828.8,1355.8 831.3,1355.6 833.8,1355.5 836.2,1355.4 838.7,1355.3 841.2,1355.1 843.7,1355.0 846.2,1354.8 848.6,1354.7 851.1,1354.5 853.6,1354.3 856.1,1354.1 858.6,1353.9 861.0,1353.7 863.5,1353.4 866.0,1353.2 868.5,1352.9 871.0,1352.7 873.4,1352.4 875.9,1352.1 878.4,1351.8 880.9,1351.5 883.4,1351.1 885.8,1350.7 888.3,1350.4 890.8,1350.0 893.3,1349.5 895.8,1349.1 898.2,1348.6 900.7,1348.2 903.2,1347.6 905.7,1347.1 908.2,1346.6 910.6,1346.0 913.1,1345.4 915.6,1344.7 918.1,1344.1 920.6,1343.4 923.0,1342.6 925.5,1341.9 928.0,1341.1 930.5,1340.2 933.0,1339.4 935.4,1338.5 937.9,1337.5 940.4,1336.5 942.9,1335.5 945.4,1334.4 947.8,1333.3 950.3,1332.2 952.8,1331.0 955.3,1329.7 957.8,1328.4 960.2,1327.1 962.7,1325.7 965.2,1324.2 967.7,1322.7 970.2,1321.2 972.6,1319.6 975.1,1317.9 977.6,1316.1 980.1,1314.3 982.6,1312.5 985.0,1310.6 987.5,1308.6 990.0,1306.5 992.5,1304.4 995.0,1302.2 997.4,1299.9 999.9,1297.6 1002.4,1295.1 1004.9,1292.7 1007.4,1290.1 1009.8,1287.4 1012.3,1284.7 1014.8,1281.9 1017.3,1279.0 1019.8,1276.0 1022.2,1273.0 1024.7,1269.8 1027.2,1266.6 1029.7,1263.3 1032.2,1259.9 1034.6,1256.4 1037.1,1252.8 1039.6,1249.2 1042.1,1245.4 1044.6,1241.5 1047.0,1237.6 1049.5,1233.6 1052.0,1229.4 1054.5,1225.2 1057.0,1220.9 1059.4,1216.5 1061.9,1212.0 1064.4,1207.4 1066.9,1202.7 1069.4,1198.0 1071.8,1193.1 1074.3,1188.1 1076.8,1183.1 1079.3,1178.0 1081.8,1172.7 1084.2,1167.4 1086.7,1162.0 1089.2,1156.5 1091.7,1151.0 1094.2,1145.3 1096.6,1139.6 1099.1,1133.8 1101.6,1127.9 1104.1,1121.9 1106.6,1115.9 1109.0,1109.8 1111.5,1103.6 1114.0,1097.4 1116.5,1091.1 1119.0,1084.7 1121.4,1078.3 1123.9,1071.8 1126.4,1065.3 1128.9,1058.8 1131.4,1052.1 1133.8,1045.5 1136.3,1038.8 1138.8,1032.1 1141.3,1025.3 1143.8,1018.5 1146.2,1011.7 1148.7,1004.9 1151.2,998.1 1153.7,991.3 1156.2,984.4 1158.6,977.6 1161.1,970.8 1163.6,963.9 1166.1,957.1 1168.6,950.4 1171.0,943.6 1173.5,936.9 1176.0,930.2 1178.5,923.5 1181.0,916.9 1183.4,910.4 1185.9,903.9 1188.4,897.4 1190.9,891.1 1193.3,884.8 1195.8,878.6 1198.3,872.4 1200.8,866.4 1203.3,860.4 1205.7,854.6 1208.2,848.8 1210.7,843.2 1213.2,837.7 1215.7,832.3 1218.1,827.0 1220.6,821.8 1223.1,816.8 1225.6,811.9 1228.1,807.2 1230.5,802.6 1233.0,798.1 1235.5,793.9 1238.0,789.7 1240.5,785.8 1242.9,782.0 1245.4,778.3 1247.9,774.9 1250.4,771.6 1252.9,768.5 1255.3,765.6 1257.8,762.9 1260.3,760.4 1262.8,758.1 1265.3,755.9 1267.7,754.0 1270.2,752.3 1272.7,750.7 1275.2,749.4 1277.7,748.3 1280.1,747.3 1282.6,746.6 1285.1,746.1 1287.6,745.8 1290.1,745.7 1292.5,745.8 1295.0,746.1 1297.5,746.7 1300.0,747.4 1302.5,748.4 1304.9,749.6 1307.4,751.0 1309.9,752.6 1312.4,754.4 1314.9,756.4 1317.3,758.6 1319.8,761.0 1322.3,763.7 1324.8,766.5 1327.3,769.5 1329.7,772.7 1332.2,776.1 1334.7,779.7 1337.2,783.4 1339.7,787.3 1342.1,791.4 1344.6,795.7 1347.1,800.1 1349.6,804.7 1352.1,809.5 1354.5,814.4 1357.0,819.4 1359.5,824.6 1362.0,829.9 1364.5,835.4 1366.9,840.9 1369.4,846.6 1371.9,852.4 1374.4,858.4 1376.9,864.4 1379.3,870.5 1381.8,876.7 1384.3,883.0 1386.8,889.4 1389.3,895.9 1391.7,902.4 1394.2,909.0 1396.7,915.6 1399.2,922.3 1401.7,929.1 1404.1,935.9 1406.6,942.7 1409.1,949.6 1411.6,956.5 1414.1,963.4 1416.5,970.4 1419.0,977.3 1421.5,984.3 1424.0,991.2 1426.5,998.2 1428.9,1005.1 1431.4,1012.1 1433.9,1019.0 1436.4,1025.9 1438.9,1032.8 1441.3,1039.6 1443.8,1046.4 1446.3,1053.2 1448.8,1059.9 1451.3,1066.6 1453.7,1073.2 1456.2,1079.8 1458.7,1086.3 1461.2,1092.7 1463.7,1099.1 1466.1,1105.4 1468.6,1111.7 1471.1,1117.9 1473.6,1124.0 1476.1,1130.0 1478.5,1136.0 1481.0,1141.9 1483.5,1147.7 1486.0,1153.4 1488.5,1159.0 1490.9,1164.6 1493.4,1170.0 1495.9,1175.4 1498.4,1180.6 1500.9,1185.8 1503.3,1190.9 1505.8,1195.9 1508.3,1200.8 1510.8,1205.6 1513.3,1210.3 1515.7,1214.9 1518.2,1219.4 1520.7,1223.8 1523.2,1228.2 1525.7,1232.4 1528.1,1236.5 1530.6,1240.6 1533.1,1244.5 1535.6,1248.3 1538.1,1252.1 1540.5,1255.8 1543.0,1259.3 1545.5,1262.8 1548.0,1266.2 1550.5,1269.5 1552.9,1272.7 1555.4,1275.8 1557.9,1278.8 1560.4,1281.8 1562.9,1284.6 1565.3,1287.4 1567.8,1290.1 1570.3,1292.7 1572.8,1295.3 1575.3,1297.7 1577.7,1300.1 1580.2,1302.4 1582.7,1304.6 1585.2,1306.8 1587.7,1308.9 1590.1,1310.9 1592.6,1312.8 1595.1,1314.7 1597.6,1316.5 1600.1,1318.3 1602.5,1320.0 1605.0,1321.6 1607.5,1323.2 1610.0,1324.7 1612.5,1326.2 1614.9,1327.6 1617.4,1328.9 1619.9,1330.2 1622.4,1331.5 1624.9,1332.7 1627.3,1333.8 1629.8,1334.9 1632.3,1336.0 1634.8,1337.0 1637.3,1338.0 1639.7,1338.9 1642.2,1339.8 1644.7,1340.7 1647.2,1341.5 1649.7,1342.3 1652.1,1343.1 1654.6,1343.8 1657.1,1344.5 1659.6,1345.1 1662.1,1345.8 1664.5,1346.4 1667.0,1347.0 1669.5,1347.5 1672.0,1348.0 1674.5,1348.5 1676.9,1349.0 1679.4,1349.5 1681.9,1349.9 1684.4,1350.3 1686.9,1350.7 1689.3,1351.1 1691.8,1351.4 1694.3,1351.8 1696.8,1352.1 1699.3,1352.4 1701.7,1352.7 1704.2,1352.9 1706.7,1353.2 1709.2,1353.4 1711.7,1353.7 1714.1,1353.9 1716.6,1354.1 1719.1,1354.3 1721.6,1354.5 1724.1,1354.7 1726.5,1354.8 1729.0,1355.0 1731.5,1355.1 1734.0,1355.3 1736.5,1355.4 1738.9,1355.5 1741.4,1355.7 1743.9,1355.8 1746.4,1355.9 1748.9,1356.0 1751.3,1356.1 1753.8,1356.2 1756.3,1356.3 1758.8,1356.3 1761.3,1356.4 1763.7,1356.5 1766.2,1356.5 1768.7,1356.6 1771.2,1356.7 1773.7,1356.7 1776.1,1356.8 1778.6,1356.8 1781.1,1356.9 1783.6,1356.9 1786.1,1356.9 1788.5,1357.0 1791.0,1357.0 1793.5,1357.0 1796.0,1357.1 1798.5,1357.1 1800.9,1357.1 1803.4,1357.1 1805.9,1357.2 1808.4,1357.2 1810.9,1357.2 1813.3,1357.2 1815.8,1357.2 1818.3,1357.3 1820.8,1357.3 1823.3,1357.3 1825.7,1357.3 1828.2,1357.3 1830.7,1357.3 1833.2,1357.3 1835.7,1357.4 1838.1,1357.4 1840.6,1357.4 1843.1,1357.4 1845.6,1357.4 1848.1,1357.4 1850.5,1357.4 1853.0,1357.4 1855.5,1357.4 1858.0,1357.4 1860.5,1357.4 1862.9,1357.4 1865.4,1357.4 1867.9,1357.4 1870.4,1357.4 1872.9,1357.4 1875.3,1357.4 1877.8,1357.4 1880.3,1357.4 1882.8,1357.4 1885.3,1357.4 1887.7,1357.5 1890.2,1357.5 1892.7,1357.5 1895.2,1357.5 1897.7,1357.5 1900.1,1357.5 1902.6,1357.5 1905.1,1357.5 1907.6,1357.5 1910.1,1357.5 1912.5,1357.5 1915.0,1357.5 1917.5,1357.5 1920.0,1357.5 1922.5,1357.5 1924.9,1357.5 1927.4,1357.5 1929.9,1357.5 1932.4,1357.5 1934.9,1357.5 1937.3,1357.5 1939.8,1357.5 1942.3,1357.5 1944.8,1357.5 1947.3,1357.5 1949.7,1357.5 1952.2,1357.5 1954.7,1357.5 1957.2,1357.5 1959.7,1357.5 1962.1,1357.5 1964.6,1357.5 1967.1,1357.5 1969.6,1357.5 1972.1,1357.5 1974.5,1357.5 1977.0,1357.5 1979.5,1357.5 1982.0,1357.5 1984.5,1357.5 1986.9,1357.5 1989.4,1357.5 1991.9,1357.5 1994.4,1357.5 1996.9,1357.5 1999.3,1357.5 2001.8,1357.5 2004.3,1357.5 2006.8,1357.5 2009.3,1357.5 2011.7,1357.5 2014.2,1357.5 2016.7,1357.5 2019.2,1357.5 2021.7,1357.5 2024.1,1357.5 2026.6,1357.5 2029.1,1357.5 2031.6,1357.5 2034.1,1357.5 2036.5,1357.5 2039.0,1357.5 2041.5,1357.5 2044.0,1357.5 2046.5,1357.5 2048.9,1357.5 2051.4,1357.5 2053.9,1357.5"/>
<polyline fill="none" stroke="#008000" stroke-width="4" stroke-linejoin="round" points="320.4,1349.9 322.9,1349.9 325.4,1349.9 327.8,1349.9 330.3,1349.9 332.8,1349.9 335.3,1349.9 337.8,1349.9 340.2,1349.9 342.7,1349.9 345.2,1349.9 347.7,1349.9 350.2,1349.9 352.6,1349.9 355.1,1349.9 357.6,1349.9 360.1,1349.9 362.6,1349.9 365.0,1349.9 367.5,1349.9 370.0,1349.9 372.5,1349.9 375.0,1349.9 377.4,1349.9 379.9,1349.9 382.4,1349.9 384.9,1349.9 387.4,1349.9 389.8,1349.9 392.3,1349.9 394.8,1349.9 397.3,1349.9 399.8,1349.9 402.2,1349.9 404.7,1349.9 407.2,1349.9 409.7,1349.9 412.2,1349.9 414.6,1349.9 417.1,1349.9 419.6,1349.9 422.1,1349.9 424.6,1349.9 427.0,1349.9 429.5,1349.9 432.0,1349.9 434.5,1349.9 437.0,1349.9 439.4,1349.9 441.9,1349.9 444.4,1349.9 446.9,1349.9 449.4,1349.9 451.8,1349.9 454.3,1349.9 456.8,1349.9 459.3,1349.9 461.8,1349.9 464.2,1349.9 466.7,1349.9 469.2,1349.9 471.7,1349.9 474.2,1349.9 476.6,1349.9 479.1,1349.9 481.6,1349.9 484.1,1349.9 486.6,1349.9 489.0,1349.9 491.5,1349.9 494.0,1349.9 496.5,1349.9 499.0,1349.9 501.4,1349.9 503.9,1349.9 506.4,1349.9 508.9,1349.9 511.4,1349.9 513.8,1349.9 516.3,1349.9 518.8,1349.9 521.3,1349.9 523.8,1349.9 526.2,1349.9 528.7,1349.9 531.2,1349.9 533.7,1349.9 536.2,1349.9 538.6,1349.9 541.1,1349.9 543.6,1349.9 546.1,1349.9 548.6,1349.9 551.0,1349.9 553.5,1349.9 556.0,1349.9 558.5,1349.9 561.0,1349.9 563.4,1349.9 565.9,1349.9 568.4,1349.9 570.9,1349.9 573.4,1349.9 575.8,1349.9 578.3,1349.9 580.8,1349.9 583.3,1349.9 585.8,1349.9 588.2,1349.9 590.7,1349.9 593.2,1349.9 595.7,1349.9 598.2,1349.9 600.6,1349.9 603.1,1349.9 605.6,1349.9 608.1,1349.9 610.6,1349.9 613.0,1349.9 615.5,1349.9 618.0,1349.9 620.5,1349.9 623.0,1349.9 625.4,1349.9 627.9,1349.9 630.4,1349.9 632.9,1349.9 635.4,1349.9 637.8,1349.9 640.3,1349.9 642.8,1349.9 645.3,1349.9 647.8,1349.9 650.2,1349.9 652.7,1349.9 655.2,1349.9 657.7,1349.9 660.2,1349.9 662.6,1349.9 665.1,1349.9 667.6,1349.9 670.1,1349.9 672.6,1349.9 675.0,1349.9 677.5,1349.9 680.0,1349.9 682.5,1349.9 685.0,1349.8 687.4,1349.8 689.9,1349.8 692.4,1349.8 694.9,1349.8 697.4,1349.8 699.8,1349.8 702.3,1349.8 704.8,1349.8 707.3,1349.8 709.8,1349.8 712.2,1349.8 714.7,1349.8 717.2,1349.8 719.7,1349.8 722.2,1349.8 724.6,1349.8 727.1,1349.7 729.6,1349.7 732.1,1349.7 734.6,1349.7 737.0,1349.7 739.5,1349.7 742.0,1349.7 744.5,1349.6 747.0,1349.6 749.4,1349.6 751.9,1349.6 754.4,1349.6 756.9,1349.5 759.4,1349.5 761.8,1349.5 764.3,1349.4 766.8,1349.4 769.3,1349.4 771.8,1349.3 774.2,1349.3 776.7,1349.2 779.2,1349.2 781.7,1349.1 784.2,1349.1 786.6,1349.0 789.1,1348.9 791.6,1348.9 794.1,1348.8 796.6,1348.7 799.0,1348.6 801.5,1348.5 804.0,1348.4 806.5,1348.3 809.0,1348.2 811.4,1348.1 813.9,1347.9 816.4,1347.8 818.9,1347.7 821.4,1347.5 823.8,1347.3 826.3,1347.2 828.8,1347.0 831.3,1346.8 833.8,1346.5 836.2,1346.3 838.7,1346.1 841.2,1345.8 843.7,1345.5 846.2,1345.3 848.6,1344.9 851.1,1344.6 853.6,1344.3 856.1,1343.9 858.6,1343.5 861.0,1343.1 863.5,1342.7 866.0,1342.2 868.5,1341.8 871.0,1341.3 873.4,1340.7 875.9,1340.2 878.4,1339.6 880.9,1338.9 883.4,1338.3 885.8,1337.6 888.3,1336.9 890.8,1336.1 893.3,1335.3 895.8,1334.4 898.2,1333.5 900.7,1332.6 903.2,1331.6 905.7,1330.6 908.2,1329.5 910.6,1328.4 913.1,1327.2 915.6,1326.0 918.1,1324.7 920.6,1323.4 923.0,1322.0 925.5,1320.5 928.0,1319.0 930.5,1317.4 933.0,1315.7 935.4,1314.0 937.9,1312.1 940.4,1310.3 942.9,1308.3 945.4,1306.2 947.8,1304.1 950.3,1301.9 952.8,1299.6 955.3,1297.2 957.8,1294.8 960.2,1292.2 962.7,1289.6 965.2,1286.8 967.7,1284.0 970.2,1281.0 972.6,1278.0 975.1,1274.8 977.6,1271.6 980.1,1268.2 982.6,1264.7 985.0,1261.1 987.5,1257.4 990.0,1253.6 992.5,1249.7 995.0,1245.6 997.4,1241.5 999.9,1237.2 1002.4,1232.8 1004.9,1228.3 1007.4,1223.6 1009.8,1218.9 1012.3,1214.0 1014.8,1209.0 1017.3,1203.9 1019.8,1198.6 1022.2,1193.2 1024.7,1187.7 1027.2,1182.1 1029.7,1176.3 1032.2,1170.5 1034.6,1164.5 1037.1,1158.4 1039.6,1152.1 1042.1,1145.8 1044.6,1139.3 1047.0,1132.8 1049.5,1126.1 1052.0,1119.3 1054.5,1112.4 1057.0,1105.4 1059.4,1098.3 1061.9,1091.1 1064.4,1083.8 1066.9,1076.4 1069.4,1068.9 1071.8,1061.3 1074.3,1053.7 1076.8,1046.0 1079.3,1038.2 1081.8,1030.3 1084.2,1022.4 1086.7,1014.5 1089.2,1006.4 1091.7,998.4 1094.2,990.3 1096.6,982.1 1099.1,974.0 1101.6,965.8 1104.1,957.6 1106.6,949.4 1109.0,941.2 1111.5,933.0 1114.0,924.9 1116.5,916.7 1119.0,908.6 1121.4,900.5 1123.9,892.4 1126.4,884.4 1128.9,876.5 1131.4,868.6 1133.8,860.8 1136.3,853.1 1138.8,845.5 1141.3,838.0 1143.8,830.5 1146.2,823.2 1148.7,816.1 1151.2,809.0 1153.7,802.1 1156.2,795.3 1158.6,788.7 1161.1,782.2 1163.6,775.9 1166.1,769.8 1168.6,763.8 1171.0,758.1 1173.5,752.5 1176.0,747.2 1178.5,742.0 1181.0,737.1 1183.4,732.3 1185.9,727.8 1188.4,723.6 1190.9,719.5 1193.3,715.7 1195.8,712.2 1198.3,708.9 1200.8,705.8 1203.3,703.0 1205.7,700.5 1208.2,698.2 1210.7,696.2 1213.2,694.5 1215.7,693.0 1218.1,691.9 1220.6,690.9 1223.1,690.3 1225.6,689.9 1228.1,689.9 1230.5,690.1 1233.0,690.5 1235.5,691.3 1238.0,692.4 1240.5,693.7 1242.9,695.4 1245.4,697.3 1247.9,699.5 1250.4,702.0 1252.9,704.7 1255.3,707.8 1257.8,711.0 1260.3,714.6 1262.8,718.4 1265.3,722.5 1267.7,726.8 1270.2,731.3 1272.7,736.1 1275.2,741.1 1277.7,746.4 1280.1,751.8 1282.6,757.5 1285.1,763.4 1287.6,769.5 1290.1,775.7 1292.5,782.2 1295.0,788.8 1297.5,795.6 1300.0,802.5 1302.5,809.6 1304.9,816.8 1307.4,824.2 1309.9,831.7 1312.4,839.3 1314.9,847.0 1317.3,854.8 1319.8,862.8 1322.3,870.8 1324.8,878.8 1327.3,887.0 1329.7,895.2 1332.2,903.4 1334.7,911.7 1337.2,920.0 1339.7,928.4 1342.1,936.8 1344.6,945.2 1347.1,953.6 1349.6,961.9 1352.1,970.3 1354.5,978.7 1357.0,987.0 1359.5,995.3 1362.0,1003.6 1364.5,1011.8 1366.9,1020.0 1369.4,1028.1 1371.9,1036.1 1374.4,1044.1 1376.9,1052.0 1379.3,1059.9 1381.8,1067.6 1384.3,1075.3 1386.8,1082.9 1389.3,1090.3 1391.7,1097.7 1394.2,1105.0 1396.7,1112.2 1399.2,1119.2 1401.7,1126.2 1404.1,1133.0 1406.6,1139.8 1409.1,1146.4 1411.6,1152.8 1414.1,1159.2 1416.5,1165.4 1419.0,1171.5 1421.5,1177.5 1424.0,1183.4 1426.5,1189.1 1428.9,1194.7 1431.4,1200.2 1433.9,1205.5 1436.4,1210.7 1438.9,1215.8 1441.3,1220.8 1443.8,1225.6 1446.3,1230.3 1448.8,1234.9 1451.3,1239.3 1453.7,1243.6 1456.2,1247.8 1458.7,1251.9 1461.2,1255.8 1463.7,1259.7 1466.1,1263.4 1468.6,1267.0 1471.1,1270.5 1473.6,1273.8 1476.1,1277.1 1478.5,1280.2 1481.0,1283.3 1483.5,1286.2 1486.0,1289.0 1488.5,1291.8 1490.9,1294.4 1493.4,1297.0 1495.9,1299.4 1498.4,1301.8 1500.9,1304.0 1503.3,1306.2 1505.8,1308.3 1508.3,1310.3 1510.8,1312.2 1513.3,1314.1 1515.7,1315.8 1518.2,1317.5 1520.7,1319.2 1523.2,1320.7 1525.7,1322.2 1528.1,1323.7 1530.6,1325.0 1533.1,1326.3 1535.6,1327.6 1538.1,1328.8 1540.5,1329.9 1543.0,1331.0 1545.5,1332.0 1548.0,1333.0 1550.5,1333.9 1552.9,1334.8 1555.4,1335.7 1557.9,1336.5 1560.4,1337.2 1562.9,1338.0 1565.3,1338.6 1567.8,1339.3 1570.3,1339.9 1572.8,1340.5 1575.3,1341.1 1577.7,1341.6 1580.2,1342.1 1582.7,1342.6 1585.2,1343.0 1587.7,1343.4 1590.1,1343.8 1592.6,1344.2 1595.1,1344.6 1597.6,1344.9 1600.1,1345.2 1602.5,1345.5 1605.0,1345.8 1607.5,1346.1 1610.0,1346.3 1612.5,1346.5 1614.9,1346.8 1617.4,1347.0 1619.9,1347.2 1622.4,1347.4 1624.9,1347.5 1627.3,1347.7 1629.8,1347.8 1632.3,1348.0 1634.8,1348.1 1637.3,1348.2 1639.7,1348.3 1642.2,1348.5 1644.7,1348.6 1647.2,1348.6 1649.7,1348.7 1652.1,1348.8 1654.6,1348.9 1657.1,1349.0 1659.6,1349.0 1662.1,1349.1 1664.5,1349.2 1667.0,1349.2 1669.5,1349.3 1672.0,1349.3 1674.5,1349.3 1676.9,1349.4 1679.4,1349.4 1681.9,1349.5 1684.4,1349.5 1686.9,1349.5 1689.3,1349.6 1691.8,1349.6 1694.3,1349.6 1696.8,1349.6 1699.3,1349.6 1701.7,1349.7 1704.2,1349.7 1706.7,1349.7 1709.2,1349.7 1711.7,1349.7 1714.1,1349.7 1716.6,1349.7 1719.1,1349.8 1721.6,1349.8 1724.1,1349.8 1726.5,1349.8 1729.0,1349.8 1731.5,1349.8 1734.0,1349.8 1736.5,1349.8 1738.9,1349.8 1741.4,1349.8 1743.9,1349.8 1746.4,1349.8 1748.9,1349.8 1751.3,1349.8 1753.8,1349.8 1756.3,1349.8 1758.8,1349.8 1761.3,1349.9 1763.7,1349.9 1766.2,1349.9 1768.7,1349.9 1771.2,1349.9 1773.7,1349.9 1776.1,1349.9 1778.6,1349.9 1781.1,1349.9 1783.6,1349.9 1786.1,1349.9 1788.5,1349.9 1791.0,1349.9 1793.5,1349.9 1796.0,1349.9 1798.5,1349.9 1800.9,1349.9 1803.4,1349.9 1805.9,1349.9 1808.4,1349.9 1810.9,1349.9 1813.3,1349.9 1815.8,1349.9 1818.3,1349.9 1820.8,1349.9 1823.3,1349.9 1825.7,1349.9 1828.2,1349.9 1830.7,1349.9 1833.2,1349.9 1835.7,1349.9 1838.1,1349.9 1840.6,1349.9 1843.1,1349.9 1845.6,1349.9 1848.1,1349.9 1850.5,1349.9 1853.0,1349.9 1855.5,1349.9 1858.0,1349.9 1860.5,1349.9 1862.9,1349.9 1865.4,1349.9 1867.9,1349.9 1870.4,1349.9 1872.9,1349.9 1875.3,1349.9 1877.8,1349.9 1880.3,1349.9 1882.8,1349.9 1885.3,1349.9 1887.7,1349.9 1890.2,1349.9 1892.7,1349.9 1895.2,1349.9 1897.7,1349.9 1900.1,1349.9 1902.6,1349.9 1905.1,1349.9 1907.6,1349.9 1910.1,1349.9 1912.5,1349.9 1915.0,1349.9 1917.5,1349.9 1920.0,1349.9 1922.5,1349.9 1924.9,1349.9 1927.4,1349.9 1929.9,1349.9 1932.4,1349.9 1934.9,1349.9 1937.3,1349.9 1939.8,1349.9 1942.3,1349.9 1944.8,1349.9 1947.3,1349.9 1949.7,1349.9 1952.2,1349.9 1954.7,1349.9 1957.2,1349.9 1959.7,1349.9 1962.1,1349.9 1964.6,1349.9 1967.1,1349.9 1969.6,1349.9 1972.1,1349.9 1974.5,1349.9 1977.0,1349.9 1979.5,1349.9 1982.0,1349.9 1984.5,1349.9 1986.9,1349.9 1989.4,1349.9 1991.9,1349.9 1994.4,1349.9 1996.9,1349.9 1999.3,1349.9 2001.8,1349.9 2004.3,1349.9 2006.8,1349.9 2009.3,1349.9 2011.7,1349.9 2014.2,1349.9 2016.7,1349.9 2019.2,1349.9 2021.7,1349.9 2024.1,1349.9 2026.6,1349.9 2029.1,1349.9 2031.6,1349.9 2034.1,1349.9 2036.5,1349.9 2039.0,1349.9 2041.5,1349.9 2044.0,1349.9 2046.5,1349.9 2048.9,1349.9 2051.4,1349.9 2053.9,1349.9"/>
<polyline fill="none" stroke="#ff0000" stroke-width="4" stroke-linejoin="round" points="320.4,1355.9 322.9,1355.9 325.4,1355.9 327.8,1355.9 330.3,1355.9 332.8,1355.9 335.3,1355.9 337.8,1355.9 340.2,1355.9 342.7,1355.9 345.2,1355.9 347.7,1355.9 350.2,1355.9 352.6,1355.9 355.1,1355.9 357.6,1355.9 360.1,1355.9 362.6,1355.9 365.0,1355.9 367.5,1355.9 370.0,1355.9 372.5,1355.9 375.0,1355.9 377.4,1355.9 379.9,1355.9 382.4,1355.9 384.9,1355.9 387.4,1355.9 389.8,1355.9 392.3,1355.9 394.8,1355.9 397.3,1355.9 399.8,1355.9 402.2,1355.9 404.7,1355.9 407.2,1355.9 409.7,1355.9 412.2,1355.9 414.6,1355.9 417.1,1355.9 419.6,1355.9 422.1,1355.9 424.6,1355.9 427.0,1355.9 429.5,1355.9 432.0,1355.9 434.5,1355.9 437.0,1355.9 439.4,1355.9 441.9,1355.9 444.4,1355.9 446.9,1355.9 449.4,1355.9 451.8,1355.9 454.3,1355.9 456.8,1355.9 459.3,1355.9 461.8,1355.9 464.2,1355.9 466.7,1355.9 469.2,1355.9 471.7,1355.9 474.2,1355.9 476.6,1355.9 479.1,1355.9 481.6,1355.9 484.1,1355.9 486.6,1355.9 489.0,1355.9 491.5,1355.9 494.0,1355.9 496.5,1355.9 499.0,1355.9 501.4,1355.9 503.9,1355.9 506.4,1355.9 508.9,1355.9 511.4,1355.9 513.8,1355.9 516.3,1355.9 518.8,1355.9 521.3,1355.9 523.8,1355.9 526.2,1355.9 528.7,1355.9 531.2,1355.9 533.7,1355.9 536.2,1355.9 538.6,1355.9 541.1,1355.9 543.6,1355.9 546.1,1355.9 548.6,1355.9 551.0,1355.9 553.5,1355.9 556.0,1355.9 558.5,1355.9 561.0,1355.9 563.4,1355.9 565.9,1355.9 568.4,1355.9 570.9,1355.9 573.4,1355.9 575.8,1355.9 578.3,1355.9 580.8,1355.9 583.3,1355.9 585.8,1355.9 588.2,1355.9 590.7,1355.9 593.2,1355.9 595.7,1355.9 598.2,1355.9 600.6,1355.9 603.1,1355.9 605.6,1355.9 608.1,1355.9 610.6,1355.9 613.0,1355.9 615.5,1355.9 618.0,1355.9 620.5,1355.9 623.0,1355.9 625.4,1355.9 627.9,1355.9 630.4,1355.9 632.9,1355.9 635.4,1355.9 637.8,1355.9 640.3,1355.9 642.8,1355.9 645.3,1355.9 647.8,1355.9 650.2,1355.9 652.7,1355.9 655.2,1355.9 657.7,1355.9 660.2,1355.9 662.6,1355.9 665.1,1355.9 667.6,1355.9 670.1,1355.9 672.6,1355.9 675.0,1355.9 677.5,1355.9 680.0,1355.9 682.5,1355.9 685.0,1355.9 687.4,1355.9 689.9,1355.9 692.4,1355.9 694.9,1355.9 697.4,1355.9 699.8,1355.9 702.3,1355.9 704.8,1355.9 707.3,1355.9 709.8,1355.9 712.2,1355.9 714.7,1355.9 717.2,1355.9 719.7,1355.9 722.2,1355.9 724.6,1355.9 727.1,1355.9 729.6,1355.9 732.1,1355.9 734.6,1355.9 737.0,1355.9 739.5,1355.9 742.0,1355.9 744.5,1355.9 747.0,1355.9 749.4,1355.9 751.9,1355.9 754.4,1355.9 756.9,1355.9 759.4,1355.9 761.8,1355.9 764.3,1355.9 766.8,1355.9 769.3,1355.9 771.8,1355.9 774.2,1355.9 776.7,1355.9 779.2,1355.9 781.7,1355.9 784.2,1355.9 786.6,1355.9 789.1,1355.9 791.6,1355.9 794.1,1355.9 796.6,1355.9 799.0,1355.8 801.5,1355.8 804.0,1355.8 806.5,1355.8 809.0,1355.8 811.4,1355.8 813.9,1355.7 816.4,1355.7 818.9,1355.7 821.4,1355.7 823.8,1355.6 826.3,1355.6 828.8,1355.6 831.3,1355.5 833.8,1355.5 836.2,1355.4 838.7,1355.4 841.2,1355.3 843.7,1355.3 846.2,1355.2 848.6,1355.1 851.1,1355.0 853.6,1354.9 856.1,1354.8 858.6,1354.7 861.0,1354.6 863.5,1354.4 866.0,1354.3 868.5,1354.1 871.0,1353.9 873.4,1353.7 875.9,1353.5 878.4,1353.3 880.9,1353.0 883.4,1352.7 885.8,1352.4 888.3,1352.1 890.8,1351.7 893.3,1351.3 895.8,1350.9 898.2,1350.4 900.7,1349.9 903.2,1349.4 905.7,1348.8 908.2,1348.2 910.6,1347.5 913.1,1346.8 915.6,1346.0 918.1,1345.2 920.6,1344.3 923.0,1343.3 925.5,1342.3 928.0,1341.2 930.5,1340.0 933.0,1338.7 935.4,1337.4 937.9,1335.9 940.4,1334.4 942.9,1332.8 945.4,1331.0 947.8,1329.2 950.3,1327.2 952.8,1325.1 955.3,1322.9 957.8,1320.5 960.2,1318.0 962.7,1315.3 965.2,1312.5 967.7,1309.6 970.2,1306.5 972.6,1303.2 975.1,1299.7 977.6,1296.1 980.1,1292.2 982.6,1288.2 985.0,1284.0 987.5,1279.5 990.0,1274.9 992.5,1270.0 995.0,1264.9 997.4,1259.6 999.9,1254.1 1002.4,1248.3 1004.9,1242.3 1007.4,1236.0 1009.8,1229.5 1012.3,1222.7 1014.8,1215.7 1017.3,1208.4 1019.8,1200.8 1022.2,1193.0 1024.7,1184.9 1027.2,1176.6 1029.7,1168.0 1032.2,1159.1 1034.6,1150.0 1037.1,1140.6 1039.6,1131.0 1042.1,1121.1 1044.6,1110.9 1047.0,1100.5 1049.5,1089.9 1052.0,1079.0 1054.5,1067.9 1057.0,1056.6 1059.4,1045.1 1061.9,1033.4 1064.4,1021.5 1066.9,1009.5 1069.4,997.2 1071.8,984.9 1074.3,972.3 1076.8,959.7 1079.3,947.0 1081.8,934.2 1084.2,921.3 1086.7,908.3 1089.2,895.3 1091.7,882.3 1094.2,869.3 1096.6,856.3 1099.1,843.4 1101.6,830.6 1104.1,817.8 1106.6,805.1 1109.0,792.6 1111.5,780.2 1114.0,768.0 1116.5,756.0 1119.0,744.2 1121.4,732.6 1123.9,721.3 1126.4,710.3 1128.9,699.7 1131.4,689.3 1133.8,679.3 1136.3,669.7 1138.8,660.4 1141.3,651.6 1143.8,643.2 1146.2,635.3 1148.7,627.8 1151.2,620.8 1153.7,614.3 1156.2,608.3 1158.6,602.8 1161.1,597.9 1163.6,593.5 1166.1,589.7 1168.6,586.4 1171.0,583.8 1173.5,581.7 1176.0,580.2 1178.5,579.2 1181.0,578.9 1183.4,579.1 1185.9,579.6 1188.4,580.5 1190.9,581.8 1193.3,583.5 1195.8,585.5 1198.3,587.9 1200.8,590.7 1203.3,593.8 1205.7,597.3 1208.2,601.1 1210.7,605.3 1213.2,609.8 1215.7,614.7 1218.1,619.9 1220.6,625.4 1223.1,631.2 1225.6,637.3 1228.1,643.7 1230.5,650.4 1233.0,657.4 1235.5,664.6 1238.0,672.1 1240.5,679.9 1242.9,687.9 1245.4,696.1 1247.9,704.5 1250.4,713.1 1252.9,721.9 1255.3,730.9 1257.8,740.1 1260.3,749.5 1262.8,758.9 1265.3,768.6 1267.7,778.3 1270.2,788.2 1272.7,798.1 1275.2,808.2 1277.7,818.3 1280.1,828.6 1282.6,838.8 1285.1,849.1 1287.6,859.5 1290.1,869.8 1292.5,880.2 1295.0,890.6 1297.5,901.0 1300.0,911.4 1302.5,921.7 1304.9,932.0 1307.4,942.3 1309.9,952.5 1312.4,962.7 1314.9,972.7 1317.3,982.7 1319.8,992.7 1322.3,1002.5 1324.8,1012.2 1327.3,1021.9 1329.7,1031.4 1332.2,1040.8 1334.7,1050.0 1337.2,1059.2 1339.7,1068.2 1342.1,1077.1 1344.6,1085.8 1347.1,1094.4 1349.6,1102.8 1352.1,1111.1 1354.5,1119.2 1357.0,1127.2 1359.5,1135.0 1362.0,1142.6 1364.5,1150.1 1366.9,1157.4 1369.4,1164.6 1371.9,1171.6 1374.4,1178.4 1376.9,1185.0 1379.3,1191.5 1381.8,1197.8 1384.3,1203.9 1386.8,1209.9 1389.3,1215.7 1391.7,1221.3 1394.2,1226.8 1396.7,1232.1 1399.2,1237.3 1401.7,1242.3 1404.1,1247.1 1406.6,1251.8 1409.1,1256.3 1411.6,1260.7 1414.1,1264.9 1416.5,1269.0 1419.0,1272.9 1421.5,1276.7 1424.0,1280.4 1426.5,1283.9 1428.9,1287.3 1431.4,1290.6 1433.9,1293.7 1436.4,1296.8 1438.9,1299.7 1441.3,1302.4 1443.8,1305.1 1446.3,1307.7 1448.8,1310.1 1451.3,1312.5 1453.7,1314.7 1456.2,1316.9 1458.7,1319.0 1461.2,1320.9 1463.7,1322.8 1466.1,1324.6 1468.6,1326.3 1471.1,1327.9 1473.6,1329.5 1476.1,1331.0 1478.5,1332.4 1481.0,1333.7 1483.5,1335.0 1486.0,1336.2 1488.5,1337.3 1490.9,1338.4 1493.4,1339.5 1495.9,1340.5 1498.4,1341.4 1500.9,1342.3 1503.3,1343.1 1505.8,1343.9 1508.3,1344.6 1510.8,1345.3 1513.3,1346.0 1515.7,1346.6 1518.2,1347.2 1520.7,1347.8 1523.2,1348.3 1525.7,1348.8 1528.1,1349.3 1530.6,1349.7 1533.1,1350.1 1535.6,1350.5 1538.1,1350.9 1540.5,1351.2 1543.0,1351.5 1545.5,1351.8 1548.0,1352.1 1550.5,1352.4 1552.9,1352.6 1555.4,1352.9 1557.9,1353.1 1560.4,1353.3 1562.9,1353.5 1565.3,1353.7 1567.8,1353.8 1570.3,1354.0 1572.8,1354.1 1575.3,1354.3 1577.7,1354.4 1580.2,1354.5 1582.7,1354.6 1585.2,1354.7 1587.7,1354.8 1590.1,1354.9 1592.6,1355.0 1595.1,1355.0 1597.6,1355.1 1600.1,1355.2 1602.5,1355.2 1605.0,1355.3 1607.5,1355.3 1610.0,1355.4 1612.5,1355.4 1614.9,1355.5 1617.4,1355.5 1619.9,1355.5 1622.4,1355.6 1624.9,1355.6 1627.3,1355.6 1629.8,1355.7 1632.3,1355.7 1634.8,1355.7 1637.3,1355.7 1639.7,1355.7 1642.2,1355.8 1644.7,1355.8 1647.2,1355.8 1649.7,1355.8 1652.1,1355.8 1654.6,1355.8 1657.1,1355.8 1659.6,1355.8 1662.1,1355.9 1664.5,1355.9 1667.0,1355.9 1669.5,1355.9 1672.0,1355.9 1674.5,1355.9 1676.9,1355.9 1679.4,1355.9 1681.9,1355.9 1684.4,1355.9 1686.9,1355.9 1689.3,1355.9 1691.8,1355.9 1694.3,1355.9 1696.8,1355.9 1699.3,1355.9 1701.7,1355.9 1704.2,1355.9 1706.7,1355.9 1709.2,1355.9 1711.7,1355.9 1714.1,1355.9 1716.6,1355.9 1719.1,1355.9 1721.6,1355.9 1724.1,1355.9 1726.5,1355.9 1729.0,1355.9 1731.5,1355.9 1734.0,1355.9 1736.5,1355.9 1738.9,1355.9 1741.4,1355.9 1743.9,1355.9 1746.4,1355.9 1748.9,1355.9 1751.3,1355.9 1753.8,1355.9 1756.3,1355.9 1758.8,1355.9 1761.3,1355.9 1763.7,1355.9 1766.2,1355.9 1768.7,1355.9 1771.2,1355.9 1773.7,1355.9 1776.1,1355.9 1778.6,1355.9 1781.1,1355.9 1783.6,1355.9 1786.1,1355.9 1788.5,1355.9 1791.0,1355.9 1793.5,1355.9 1796.0,1355.9 1798.5,1355.9 1800.9,1355.9 1803.4,1355.9 1805.9,1355.9 1808.4,1355.9 1810.9,1355.9 1813.3,1355.9 1815.8,1355.9 1818.3,1355.9 1820.8,1355.9 1823.3,1355.9 1825.7,1355.9 1828.2,1355.9 1830.7,1355.9 1833.2,1355.9 1835.7,1355.9 1838.1,1355.9 1840.6,1355.9 1843.1,1355.9 1845.6,1355.9 1848.1,1355.9 1850.5,1355.9 1853.0,1355.9 1855.5,1355.9 1858.0,1355.9 1860.5,1355.9 1862.9,1355.9 1865.4,1355.9 1867.9,1355.9 1870.4,1355.9 1872.9,1355.9 1875.3,1355.9 1877.8,1355.9 1880.3,1355.9 1882.8,1355.9 1885.3,1355.9 1887.7,1355.9 1890.2,1355.9 1892.7,1355.9 1895.2,1355.9 1897.7,1355.9 1900.1,1355.9 1902.6,1355.9 1905.1,1355.9 1907.6,1355.9 1910.1,1355.9 1912.5,1355.9 1915.0,1355.9 1917.5,1355.9 1920.0,1355.9 1922.5,1355.9 1924.9,1355.9 1927.4,1355.9 1929.9,1355.9 1932.4,1355.9 1934.9,1355.9 1937.3,1355.9 1939.8,1355.9 1942.3,1355.9 1944.8,1355.9 1947.3,1355.9 1949.7,1355.9 1952.2,1355.9 1954.7,1355.9 1957.2,1355.9 1959.7,1355.9 1962.1,1355.9 1964.6,1355.9 1967.1,1355.9 1969.6,1355.9 1972.1,1355.9 1974.5,1355.9 1977.0,1355.9 1979.5,1355.9 1982.0,1355.9 1984.5,1355.9 1986.9,1355.9 1989.4,1355.9 1991.9,1355.9 1994.4,1355.9 1996.9,1355.9 1999.3,1355.9 2001.8,1355.9 2004.3,1355.9 2006.8,1355.9 2009.3,1355.9 2011.7,1355.9 2014.2,1355.9 2016.7,1355.9 2019.2,1355.9 2021.7,1355.9 2024.1,1355.9 2026.6,1355.9 2029.1,1355.9 2031.6,1355.9 2034.1,1355.9 2036.5,1355.9 2039.0,1355.9 2041.5,1355.9 2044.0,1355.9 2046.5,1355.9 2048.9,1355.9 2051.4,1355.9 2053.9,1355.9"/>
<polyline fill="none" stroke="#800000" stroke-width="4" stroke-linejoin="round" points="320.4,1353.9 322.9,1353.9 325.4,1353.9 327.8,1353.9 330.3,1353.9 332.8,1353.9 335.3,1353.9 337.8,1353.9 340.2,1353.9 342.7,1353.9 345.2,1353.9 347.7,1353.9 350.2,1353.9 352.6,1353.9 355.1,1353.9 357.6,1353.9 360.1,1353.9 362.6,1353.9 365.0,1353.9 367.5,1353.9 370.0,1353.9 372.5,1353.9 375.0,1353.9 377.4,1353.9 379.9,1353.9 382.4,1353.9 384.9,1353.9 387.4,1353.9 389.8,1353.9 392.3,1353.9 394.8,1353.9 397.3,1353.9 399.8,1353.9 402.2,1353.9 404.7,1353.9 407.2,1353.9 409.7,1353.9 412.2,1353.9 414.6,1353.9 417.1,1353.9 419.6,1353.9 422.1,1353.9 424.6,1353.9 427.0,1353.9 429.5,1353.9 432.0,1353.9 434.5,1353.9 437.0,1353.9 439.4,1353.9 441.9,1353.9 444.4,1353.9 446.9,1353.9 449.4,1353.9 451.8,1353.9 454.3,1353.9 456.8,1353.9 459.3,1353.9 461.8,1353.9 464.2,1353.9 466.7,1353.9 469.2,1353.9 471.7,1353.9 474.2,1353.9 476.6,1353.9 479.1,1353.9 481.6,1353.9 484.1,1353.9 486.6,1353.9 489.0,1353.9 491.5,1353.9 494.0,1353.9 496.5,1353.9 499.0,1353.9 501.4,1353.9 503.9,1353.9 506.4,1353.9 508.9,1353.9 511.4,1353.9 513.8,1353.9 516.3,1353.9 518.8,1353.9 521.3,1353.9 523.8,1353.9 526.2,1353.9 528.7,1353.9 531.2,1353.9 533.7,1353.9 536.2,1353.9 538.6,1353.9 541.1,1353.9 543.6,1353.9 546.1,1353.9 548.6,1353.9 551.0,1353.9 553.5,1353.9 556.0,1353.9 558.5,1353.9 561.0,1353.9 563.4,1353.9 565.9,1353.9 568.4,1353.9 570.9,1353.9 573.4,1353.9 575.8,1353.9 578.3,1353.9 580.8,1353.9 583.3,1353.9 585.8,1353.9 588.2,1353.9 590.7,1353.9 593.2,1353.9 595.7,1353.9 598.2,1353.9 600.6,1353.9 603.1,1353.9 605.6,1353.9 608.1,1353.9 610.6,1353.9 613.0,1353.9 615.5,1353.9 618.0,1353.9 620.5,1353.9 623.0,1353.9 625.4,1353.9 627.9,1353.9 630.4,1353.9 632.9,1353.9 635.4,1353.9 637.8,1353.9 640.3,1353.9 642.8,1353.9 645.3,1353.9 647.8,1353.9 650.2,1353.9 652.7,1353.9 655.2,1353.9 657.7,1353.9 660.2,1353.9 662.6,1353.9 665.1,1353.9 667.6,1353.9 670.1,1353.9 672.6,1353.9 675.0,1353.9 677.5,1353.9 680.0,1353.9 682.5,1353.9 685.0,1353.9 687.4,1353.9 689.9,1353.9 692.4,1353.9 694.9,1353.9 697.4,1353.9 699.8,1353.9 702.3,1353.9 704.8,1353.9 707.3,1353.9 709.8,1353.9 712.2,1353.9 714.7,1353.9 717.2,1353.9 719.7,1353.9 722.2,1353.9 724.6,1353.9 727.1,1353.9 729.6,1353.9 732.1,1353.9 734.6,1353.9 737.0,1353.9 739.5,1353.9 742.0,1353.9 744.5,1353.9 747.0,1353.9 749.4,1353.9 751.9,1353.9 754.4,1353.9 756.9,1353.9 759.4,1353.9 761.8,1353.9 764.3,1353.9 766.8,1353.9 769.3,1353.9 771.8,1353.9 774.2,1353.9 776.7,1353.9 779.2,1353.9 781.7,1353.9 784.2,1353.9 786.6,1353.9 789.1,1353.8 791.6,1353.8 794.1,1353.8 796.6,1353.8 799.0,1353.8 801.5,1353.8 804.0,1353.8 806.5,1353.8 809.0,1353.8 811.4,1353.8 813.9,1353.8 816.4,1353.7 818.9,1353.7 821.4,1353.7 823.8,1353.7 826.3,1353.7 828.8,1353.6 831.3,1353.6 833.8,1353.6 836.2,1353.5 838.7,1353.5 841.2,1353.4 843.7,1353.4 846.2,1353.3 848.6,1353.2 851.1,1353.1 853.6,1353.0 856.1,1353.0 858.6,1352.8 861.0,1352.7 863.5,1352.6 866.0,1352.4 868.5,1352.3 871.0,1352.1 873.4,1351.9 875.9,1351.7 878.4,1351.4 880.9,1351.2 883.4,1350.9 885.8,1350.6 888.3,1350.2 890.8,1349.8 893.3,1349.4 895.8,1348.9 898.2,1348.4 900.7,1347.9 903.2,1347.3 905.7,1346.7 908.2,1346.0 910.6,1345.2 913.1,1344.4 915.6,1343.5 918.1,1342.5 920.6,1341.4 923.0,1340.3 925.5,1339.1 928.0,1337.8 930.5,1336.3 933.0,1334.8 935.4,1333.2 937.9,1331.4 940.4,1329.5 942.9,1327.5 945.4,1325.3 947.8,1322.9 950.3,1320.5 952.8,1317.8 955.3,1315.0 957.8,1312.0 960.2,1308.8 962.7,1305.3 965.2,1301.7 967.7,1297.9 970.2,1293.8 972.6,1289.5 975.1,1285.0 977.6,1280.2 980.1,1275.1 982.6,1269.8 985.0,1264.2 987.5,1258.3 990.0,1252.1 992.5,1245.6 995.0,1238.8 997.4,1231.7 999.9,1224.3 1002.4,1216.5 1004.9,1208.4 1007.4,1200.0 1009.8,1191.2 1012.3,1182.1 1014.8,1172.6 1017.3,1162.8 1019.8,1152.7 1022.2,1142.2 1024.7,1131.3 1027.2,1120.1 1029.7,1108.6 1032.2,1096.7 1034.6,1084.6 1037.1,1072.0 1039.6,1059.2 1042.1,1046.1 1044.6,1032.7 1047.0,1019.0 1049.5,1005.1 1052.0,990.9 1054.5,976.4 1057.0,961.8 1059.4,946.9 1061.9,931.9 1064.4,916.7 1066.9,901.4 1069.4,886.0 1071.8,870.5 1074.3,854.9 1076.8,839.3 1079.3,823.7 1081.8,808.2 1084.2,792.6 1086.7,777.2 1089.2,761.9 1091.7,746.7 1094.2,731.8 1096.6,717.0 1099.1,702.5 1101.6,688.2 1104.1,674.3 1106.6,660.7 1109.0,647.4 1111.5,634.6 1114.0,622.2 1116.5,610.3 1119.0,598.9 1121.4,588.0 1123.9,577.7 1126.4,567.9 1128.9,558.7 1131.4,550.2 1133.8,542.3 1136.3,535.1 1138.8,528.6 1141.3,522.8 1143.8,517.7 1146.2,513.3 1148.7,509.7 1151.2,506.9 1153.7,504.8 1156.2,503.5 1158.6,502.9 1161.1,503.1 1163.6,503.9 1166.1,505.1 1168.6,507.0 1171.0,509.4 1173.5,512.4 1176.0,515.9 1178.5,519.9 1181.0,524.5 1183.4,529.5 1185.9,535.1 1188.4,541.2 1190.9,547.8 1193.3,554.8 1195.8,562.3 1198.3,570.3 1200.8,578.7 1203.3,587.5 1205.7,596.7 1208.2,606.3 1210.7,616.2 1213.2,626.5 1215.7,637.1 1218.1,648.1 1220.6,659.3 1223.1,670.8 1225.6,682.6 1228.1,694.5 1230.5,706.7 1233.0,719.1 1235.5,731.7 1238.0,744.4 1240.5,757.3 1242.9,770.2 1245.4,783.3 1247.9,796.4 1250.4,809.6 1252.9,822.9 1255.3,836.1 1257.8,849.4 1260.3,862.6 1262.8,875.8 1265.3,889.0 1267.7,902.1 1270.2,915.1 1272.7,928.0 1275.2,940.8 1277.7,953.5 1280.1,966.1 1282.6,978.5 1285.1,990.7 1287.6,1002.8 1290.1,1014.7 1292.5,1026.4 1295.0,1038.0 1297.5,1049.3 1300.0,1060.4 1302.5,1071.3 1304.9,1081.9 1307.4,1092.4 1309.9,1102.6 1312.4,1112.5 1314.9,1122.3 1317.3,1131.7 1319.8,1141.0 1322.3,1149.9 1324.8,1158.7 1327.3,1167.1 1329.7,1175.4 1332.2,1183.3 1334.7,1191.1 1337.2,1198.6 1339.7,1205.8 1342.1,1212.8 1344.6,1219.5 1347.1,1226.0 1349.6,1232.3 1352.1,1238.4 1354.5,1244.2 1357.0,1249.8 1359.5,1255.1 1362.0,1260.3 1364.5,1265.2 1366.9,1270.0 1369.4,1274.5 1371.9,1278.9 1374.4,1283.0 1376.9,1287.0 1379.3,1290.8 1381.8,1294.4 1384.3,1297.8 1386.8,1301.1 1389.3,1304.2 1391.7,1307.2 1394.2,1310.0 1396.7,1312.7 1399.2,1315.2 1401.7,1317.6 1404.1,1319.9 1406.6,1322.0 1409.1,1324.1 1411.6,1326.0 1414.1,1327.8 1416.5,1329.5 1419.0,1331.2 1421.5,1332.7 1424.0,1334.1 1426.5,1335.5 1428.9,1336.7 1431.4,1337.9 1433.9,1339.1 1436.4,1340.1 1438.9,1341.1 1441.3,1342.0 1443.8,1342.9 1446.3,1343.7 1448.8,1344.4 1451.3,1345.1 1453.7,1345.8 1456.2,1346.4 1458.7,1347.0 1461.2,1347.5 1463.7,1348.0 1466.1,1348.5 1468.6,1348.9 1471.1,1349.3 1473.6,1349.6 1476.1,1350.0 1478.5,1350.3 1481.0,1350.6 1483.5,1350.9 1486.0,1351.1 1488.5,1351.3 1490.9,1351.6 1493.4,1351.8 1495.9,1351.9 1498.4,1352.1 1500.9,1352.3 1503.3,1352.4 1505.8,1352.5 1508.3,1352.7 1510.8,1352.8 1513.3,1352.9 1515.7,1353.0 1518.2,1353.0 1520.7,1353.1 1523.2,1353.2 1525.7,1353.2 1528.1,1353.3 1530.6,1353.4 1533.1,1353.4 1535.6,1353.5 1538.1,1353.5 1540.5,1353.5 1543.0,1353.6 1545.5,1353.6 1548.0,1353.6 1550.5,1353.7 1552.9,1353.7 1555.4,1353.7 1557.9,1353.7 1560.4,1353.7 1562.9,1353.7 1565.3,1353.8 1567.8,1353.8 1570.3,1353.8 1572.8,1353.8 1575.3,1353.8 1577.7,1353.8 1580.2,1353.8 1582.7,1353.8 1585.2,1353.8 1587.7,1353.8 1590.1,1353.8 1592.6,1353.8 1595.1,1353.8 1597.6,1353.9 1600.1,1353.9 1602.5,1353.9 1605.0,1353.9 1607.5,1353.9 1610.0,1353.9 1612.5,1353.9 1614.9,1353.9 1617.4,1353.9 1619.9,1353.9 1622.4,1353.9 1624.9,1353.9 1627.3,1353.9 1629.8,1353.9 1632.3,1353.9 1634.8,1353.9 1637.3,1353.9 1639.7,1353.9 1642.2,1353.9 1644.7,1353.9 1647.2,1353.9 1649.7,1353.9 1652.1,1353.9 1654.6,1353.9 1657.1,1353.9 1659.6,1353.9 1662.1,1353.9 1664.5,1353.9 1667.0,1353.9 1669.5,1353.9 1672.0,1353.9 1674.5,1353.9 1676.9,1353.9 1679.4,1353.9 1681.9,1353.9 1684.4,1353.9 1686.9,1353.9 1689.3,1353.9 1691.8,1353.9 1694.3,1353.9 1696.8,1353.9 1699.3,1353.9 1701.7,1353.9 1704.2,1353.9 1706.7,1353.9 1709.2,1353.9 1711.7,1353.9 1714.1,1353.9 1716.6,1353.9 1719.1,1353.9 1721.6,1353.9 1724.1,1353.9 1726.5,1353.9 1729.0,1353.9 1731.5,1353.9 1734.0,1353.9 1736.5,1353.9 1738.9,1353.9 1741.4,1353.9 1743.9,1353.9 1746.4,1353.9 1748.9,1353.9 1751.3,1353.9 1753.8,1353.9 1756.3,1353.9 1758.8,1353.9 1761.3,1353.9 1763.7,1353.9 1766.2,1353.9 1768.7,1353.9 1771.2,1353.9 1773.7,1353.9 1776.1,1353.9 1778.6,1353.9 1781.1,1353.9 1783.6,1353.9 1786.1,1353.9 1788.5,1353.9 1791.0,1353.9 1793.5,1353.9 1796.0,1353.9 1798.5,1353.9 1800.9,1353.9 1803.4,1353.9 1805.9,1353.9 1808.4,1353.9 1810.9,1353.9 1813.3,1353.9 1815.8,1353.9 1818.3,1353.9 1820.8,1353.9 1823.3,1353.9 1825.7,1353.9 1828.2,1353.9 1830.7,1353.9 1833.2,1353.9 1835.7,1353.9 1838.1,1353.9 1840.6,1353.9 1843.1,1353.9 1845.6,1353.9 1848.1,1353.9 1850.5,1353.9 1853.0,1353.9 1855.5,1353.9 1858.0,1353.9 1860.5,1353.9 1862.9,1353.9 1865.4,1353.9 1867.9,1353.9 1870.4,1353.9 1872.9,1353.9 1875.3,1353.9 1877.8,1353.9 1880.3,1353.9 1882.8,1353.9 1885.3,1353.9 1887.7,1353.9 1890.2,1353.9 1892.7,1353.9 1895.2,1353.9 1897.7,1353.9 1900.1,1353.9 1902.6,1353.9 1905.1,1353.9 1907.6,1353.9 1910.1,1353.9 1912.5,1353.9 1915.0,1353.9 1917.5,1353.9 1920.0,1353.9 1922.5,1353.9 1924.9,1353.9 1927.4,1353.9 1929.9,1353.9 1932.4,1353.9 1934.9,1353.9 1937.3,1353.9 1939.8,1353.9 1942.3,1353.9 1944.8,1353.9 1947.3,1353.9 1949.7,1353.9 1952.2,1353.9 1954.7,1353.9 1957.2,1353.9 1959.7,1353.9 1962.1,1353.9 1964.6,1353.9 1967.1,1353.9 1969.6,1353.9 1972.1,1353.9 1974.5,1353.9 1977.0,1353.9 1979.5,1353.9 1982.0,1353.9 1984.5,1353.9 1986.9,1353.9 1989.4,1353.9 1991.9,1353.9 1994.4,1353.9 1996.9,1353.9 1999.3,1353.9 2001.8,1353.9 2004.3,1353.9 2006.8,1353.9 2009.3,1353.9 2011.7,1353.9 2014.2,1353.9 2016.7,1353.9 2019.2,1353.9 2021.7,1353.9 2024.1,1353.9 2026.6,1353.9 2029.1,1353.9 2031.6,1353.9 2034.1,1353.9 2036.5,1353.9 2039.0,1353.9 2041.5,1353.9 2044.0,1353.9 2046.5,1353.9 2048.9,1353.9 2051.4,1353.9 2053.9,1353.9"/>
<polyline fill="none" stroke="#ff8000" stroke-width="4" stroke-linejoin="round" points="320.4,1354.7 322.9,1354.7 325.4,1354.7 327.8,1354.7 330.3,1354.7 332.8,1354.7 335.3,1354.7 337.8,1354.7 340.2,1354.7 342.7,1354.7 345.2,1354.7 347.7,1354.7 350.2,1354.7 352.6,1354.7 355.1,1354.7 357.6,1354.7 360.1,1354.7 362.6,1354.7 365.0,1354.7 367.5,1354.7 370.0,1354.7 372.5,1354.7 375.0,1354.7 377.4,1354.7 379.9,1354.7 382.4,1354.7 384.9,1354.7 387.4,1354.7 389.8,1354.7 392.3,1354.7 394.8,1354.7 397.3,1354.7 399.8,1354.7 402.2,1354.7 404.7,1354.7 407.2,1354.7 409.7,1354.7 412.2,1354.7 414.6,1354.7 417.1,1354.7 419.6,1354.7 422.1,1354.7 424.6,1354.7 427.0,1354.7 429.5,1354.7 432.0,1354.7 434.5,1354.7 437.0,1354.7 439.4,1354.7 441.9,1354.7 444.4,1354.7 446.9,1354.7 449.4,1354.7 451.8,1354.7 454.3,1354.7 456.8,1354.7 459.3,1354.7 461.8,1354.7 464.2,1354.7 466.7,1354.7 469.2,1354.7 471.7,1354.7 474.2,1354.7 476.6,1354.7 479.1,1354.7 481.6,1354.7 484.1,1354.7 486.6,1354.7 489.0,1354.7 491.5,1354.7 494.0,1354.7 496.5,1354.7 499.0,1354.7 501.4,1354.7 503.9,1354.7 506.4,1354.7 508.9,1354.7 511.4,1354.7 513.8,1354.7 516.3,1354.7 518.8,1354.7 521.3,1354.7 523.8,1354.7 526.2,1354.7 528.7,1354.7 531.2,1354.7 533.7,1354.7 536.2,1354.7 538.6,1354.7 541.1,1354.7 543.6,1354.7 546.1,1354.7 548.6,1354.7 551.0,1354.7 553.5,1354.7 556.0,1354.7 558.5,1354.7 561.0,1354.7 563.4,1354.7 565.9,1354.7 568.4,1354.7 570.9,1354.7 573.4,1354.7 575.8,1354.7 578.3,1354.7 580.8,1354.7 583.3,1354.7 585.8,1354.7 588.2,1354.7 590.7,1354.7 593.2,1354.7 595.7,1354.7 598.2,1354.7 600.6,1354.7 603.1,1354.7 605.6,1354.7 608.1,1354.7 610.6,1354.7 613.0,1354.7 615.5,1354.7 618.0,1354.7 620.5,1354.7 623.0,1354.7 625.4,1354.7 627.9,1354.7 630.4,1354.7 632.9,1354.7 635.4,1354.7 637.8,1354.7 640.3,1354.7 642.8,1354.7 645.3,1354.7 647.8,1354.7 650.2,1354.7 652.7,1354.7 655.2,1354.7 657.7,1354.7 660.2,1354.7 662.6,1354.7 665.1,1354.7 667.6,1354.7 670.1,1354.7 672.6,1354.7 675.0,1354.7 677.5,1354.7 680.0,1354.7 682.5,1354.7 685.0,1354.7 687.4,1354.7 689.9,1354.7 692.4,1354.7 694.9,1354.7 697.4,1354.7 699.8,1354.7 702.3,1354.7 704.8,1354.7 707.3,1354.7 709.8,1354.7 712.2,1354.7 714.7,1354.7 717.2,1354.7 719.7,1354.7 722.2,1354.7 724.6,1354.7 727.1,1354.7 729.6,1354.7 732.1,1354.7 734.6,1354.7 737.0,1354.7 739.5,1354.7 742.0,1354.7 744.5,1354.7 747.0,1354.7 749.4,1354.7 751.9,1354.7 754.4,1354.7 756.9,1354.7 759.4,1354.7 761.8,1354.7 764.3,1354.7 766.8,1354.7 769.3,1354.7 771.8,1354.7 774.2,1354.7 776.7,1354.6 779.2,1354.6 781.7,1354.6 784.2,1354.6 786.6,1354.6 789.1,1354.6 791.6,1354.6 794.1,1354.6 796.6,1354.6 799.0,1354.6 801.5,1354.6 804.0,1354.6 806.5,1354.6 809.0,1354.6 811.4,1354.6 813.9,1354.6 816.4,1354.6 818.9,1354.6 821.4,1354.6 823.8,1354.6 826.3,1354.6 828.8,1354.6 831.3,1354.6 833.8,1354.6 836.2,1354.6 838.7,1354.6 841.2,1354.6 843.7,1354.6 846.2,1354.6 848.6,1354.5 851.1,1354.5 853.6,1354.5 856.1,1354.5 858.6,1354.4 861.0,1354.4 863.5,1354.4 866.0,1354.3 868.5,1354.3 871.0,1354.2 873.4,1354.1 875.9,1354.1 878.4,1354.0 880.9,1353.9 883.4,1353.8 885.8,1353.7 888.3,1353.5 890.8,1353.4 893.3,1353.2 895.8,1353.0 898.2,1352.7 900.7,1352.5 903.2,1352.2 905.7,1351.9 908.2,1351.5 910.6,1351.1 913.1,1350.7 915.6,1350.1 918.1,1349.6 920.6,1349.0 923.0,1348.3 925.5,1347.5 928.0,1346.7 930.5,1345.7 933.0,1344.7 935.4,1343.5 937.9,1342.3 940.4,1340.9 942.9,1339.4 945.4,1337.7 947.8,1335.9 950.3,1334.0 952.8,1331.8 955.3,1329.4 957.8,1326.9 960.2,1324.1 962.7,1321.1 965.2,1317.9 967.7,1314.3 970.2,1310.5 972.6,1306.4 975.1,1302.0 977.6,1297.3 980.1,1292.2 982.6,1286.8 985.0,1281.0 987.5,1274.8 990.0,1268.1 992.5,1261.1 995.0,1253.6 997.4,1245.7 999.9,1237.2 1002.4,1228.3 1004.9,1218.9 1007.4,1209.0 1009.8,1198.6 1012.3,1187.6 1014.8,1176.1 1017.3,1164.1 1019.8,1151.5 1022.2,1138.3 1024.7,1124.6 1027.2,1110.4 1029.7,1095.6 1032.2,1080.3 1034.6,1064.4 1037.1,1048.1 1039.6,1031.2 1042.1,1013.8 1044.6,996.0 1047.0,977.8 1049.5,959.1 1052.0,940.0 1054.5,920.6 1057.0,900.9 1059.4,880.9 1061.9,860.7 1064.4,840.2 1066.9,819.6 1069.4,799.0 1071.8,778.2 1074.3,757.5 1076.8,736.9 1079.3,716.3 1081.8,695.9 1084.2,675.8 1086.7,656.0 1089.2,636.5 1091.7,617.4 1094.2,598.9 1096.6,580.8 1099.1,563.4 1101.6,546.6 1104.1,530.5 1106.6,515.3 1109.0,500.8 1111.5,487.2 1114.0,474.6 1116.5,462.9 1119.0,452.3 1121.4,442.7 1123.9,434.2 1126.4,426.9 1128.9,420.7 1131.4,415.7 1133.8,411.9 1136.3,409.3 1138.8,407.9 1141.3,407.8 1143.8,408.5 1146.2,410.1 1148.7,412.5 1151.2,415.8 1153.7,419.8 1156.2,424.7 1158.6,430.3 1161.1,436.8 1163.6,443.9 1166.1,451.9 1168.6,460.5 1171.0,469.9 1173.5,479.9 1176.0,490.5 1178.5,501.8 1181.0,513.7 1183.4,526.2 1185.9,539.2 1188.4,552.7 1190.9,566.6 1193.3,581.0 1195.8,595.8 1198.3,611.0 1200.8,626.5 1203.3,642.4 1205.7,658.5 1208.2,674.8 1210.7,691.4 1213.2,708.1 1215.7,724.9 1218.1,741.9 1220.6,758.9 1223.1,775.9 1225.6,793.0 1228.1,810.0 1230.5,827.0 1233.0,843.9 1235.5,860.7 1238.0,877.4 1240.5,893.9 1242.9,910.3 1245.4,926.4 1247.9,942.3 1250.4,958.0 1252.9,973.4 1255.3,988.6 1257.8,1003.4 1260.3,1017.9 1262.8,1032.2 1265.3,1046.1 1267.7,1059.6 1270.2,1072.8 1272.7,1085.7 1275.2,1098.2 1277.7,1110.3 1280.1,1122.1 1282.6,1133.5 1285.1,1144.5 1287.6,1155.2 1290.1,1165.4 1292.5,1175.3 1295.0,1184.9 1297.5,1194.0 1300.0,1202.9 1302.5,1211.3 1304.9,1219.4 1307.4,1227.2 1309.9,1234.6 1312.4,1241.7 1314.9,1248.4 1317.3,1254.9 1319.8,1261.0 1322.3,1266.8 1324.8,1272.4 1327.3,1277.7 1329.7,1282.6 1332.2,1287.4 1334.7,1291.8 1337.2,1296.1 1339.7,1300.1 1342.1,1303.8 1344.6,1307.4 1347.1,1310.7 1349.6,1313.8 1352.1,1316.8 1354.5,1319.6 1357.0,1322.1 1359.5,1324.6 1362.0,1326.8 1364.5,1329.0 1366.9,1330.9 1369.4,1332.8 1371.9,1334.5 1374.4,1336.1 1376.9,1337.6 1379.3,1339.0 1381.8,1340.3 1384.3,1341.5 1386.8,1342.6 1389.3,1343.6 1391.7,1344.5 1394.2,1345.4 1396.7,1346.2 1399.2,1346.9 1401.7,1347.6 1404.1,1348.3 1406.6,1348.8 1409.1,1349.4 1411.6,1349.8 1414.1,1350.3 1416.5,1350.7 1419.0,1351.1 1421.5,1351.4 1424.0,1351.7 1426.5,1352.0 1428.9,1352.3 1431.4,1352.5 1433.9,1352.7 1436.4,1352.9 1438.9,1353.1 1441.3,1353.2 1443.8,1353.4 1446.3,1353.5 1448.8,1353.6 1451.3,1353.7 1453.7,1353.8 1456.2,1353.9 1458.7,1354.0 1461.2,1354.1 1463.7,1354.1 1466.1,1354.2 1468.6,1354.2 1471.1,1354.3 1473.6,1354.3 1476.1,1354.4 1478.5,1354.4 1481.0,1354.4 1483.5,1354.4 1486.0,1354.5 1488.5,1354.5 1490.9,1354.5 1493.4,1354.5 1495.9,1354.5 1498.4,1354.6 1500.9,1354.6 1503.3,1354.6 1505.8,1354.6 1508.3,1354.6 1510.8,1354.6 1513.3,1354.6 1515.7,1354.6 1518.2,1354.6 1520.7,1354.6 1523.2,1354.6 1525.7,1354.6 1528.1,1354.6 1530.6,1354.6 1533.1,1354.6 1535.6,1354.6 1538.1,1354.6 1540.5,1354.6 1543.0,1354.6 1545.5,1354.6 1548.0,1354.6 1550.5,1354.6 1552.9,1354.6 1555.4,1354.6 1557.9,1354.6 1560.4,1354.6 1562.9,1354.6 1565.3,1354.6 1567.8,1354.6 1570.3,1354.6 1572.8,1354.6 1575.3,1354.6 1577.7,1354.6 1580.2,1354.6 1582.7,1354.6 1585.2,1354.7 1587.7,1354.7 1590.1,1354.7 1592.6,1354.7 1595.1,1354.7 1597.6,1354.7 1600.1,1354.7 1602.5,1354.7 1605.0,1354.7 1607.5,1354.7 1610.0,1354.7 1612.5,1354.7 1614.9,1354.7 1617.4,1354.7 1619.9,1354.7 1622.4,1354.7 1624.9,1354.7 1627.3,1354.7 1629.8,1354.7 1632.3,1354.7 1634.8,1354.7 1637.3,1354.7 1639.7,1354.7 1642.2,1354.7 1644.7,1354.7 1647.2,1354.7 1649.7,1354.7 1652.1,1354.7 1654.6,1354.7 1657.1,1354.7 1659.6,1354.7 1662.1,1354.7 1664.5,1354.7 1667.0,1354.7 1669.5,1354.7 1672.0,1354.7 1674.5,1354.7 1676.9,1354.7 1679.4,1354.7 1681.9,1354.7 1684.4,1354.7 1686.9,1354.7 1689.3,1354.7 1691.8,1354.7 1694.3,1354.7 1696.8,1354.7 1699.3,1354.7 1701.7,1354.7 1704.2,1354.7 1706.7,1354.7 1709.2,1354.7 1711.7,1354.7 1714.1,1354.7 1716.6,1354.7 1719.1,1354.7 1721.6,1354.7 1724.1,1354.7 1726.5,1354.7 1729.0,1354.7 1731.5,1354.7 1734.0,1354.7 1736.5,1354.7 1738.9,1354.7 1741.4,1354.7 1743.9,1354.7 1746.4,1354.7 1748.9,1354.7 1751.3,1354.7 1753.8,1354.7 1756.3,1354.7 1758.8,1354.7 1761.3,1354.7 1763.7,1354.7 1766.2,1354.7 1768.7,1354.7 1771.2,1354.7 1773.7,1354.7 1776.1,1354.7 1778.6,1354.7 1781.1,1354.7 1783.6,1354.7 1786.1,1354.7 1788.5,1354.7 1791.0,1354.7 1793.5,1354.7 1796.0,1354.7 1798.5,1354.7 1800.9,1354.7 1803.4,1354.7 1805.9,1354.7 1808.4,1354.7 1810.9,1354.7 1813.3,1354.7 1815.8,1354.7 1818.3,1354.7 1820.8,1354.7 1823.3,1354.7 1825.7,1354.7 1828.2,1354.7 1830.7,1354.7 1833.2,1354.7 1835.7,1354.7 1838.1,1354.7 1840.6,1354.7 1843.1,1354.7 1845.6,1354.7 1848.1,1354.7 1850.5,1354.7 1853.0,1354.7 1855.5,1354.7 1858.0,1354.7 1860.5,1354.7 1862.9,1354.7 1865.4,1354.7 1867.9,1354.7 1870.4,1354.7 1872.9,1354.7 1875.3,1354.7 1877.8,1354.7 1880.3,1354.7 1882.8,1354.7 1885.3,1354.7 1887.7,1354.7 1890.2,1354.7 1892.7,1354.7 1895.2,1354.7 1897.7,1354.7 1900.1,1354.7 1902.6,1354.7 1905.1,1354.7 1907.6,1354.7 1910.1,1354.7 1912.5,1354.7 1915.0,1354.7 1917.5,1354.7 1920.0,1354.7 1922.5,1354.7 1924.9,1354.7 1927.4,1354.7 1929.9,1354.7 1932.4,1354.7 1934.9,1354.7 1937.3,1354.7 1939.8,1354.7 1942.3,1354.7 1944.8,1354.7 1947.3,1354.7 1949.7,1354.7 1952.2,1354.7 1954.7,1354.7 1957.2,1354.7 1959.7,1354.7 1962.1,1354.7 1964.6,1354.7 1967.1,1354.7 1969.6,1354.7 1972.1,1354.7 1974.5,1354.7 1977.0,1354.7 1979.5,1354.7 1982.0,1354.7 1984.5,1354.7 1986.9,1354.7 1989.4,1354.7 1991.9,1354.7 1994.4,1354.7 1996.9,1354.7 1999.3,1354.7 2001.8,1354.7 2004.3,1354.7 2006.8,1354.7 2009.3,1354.7 2011.7,1354.7 2014.2,1354.7 2016.7,1354.7 2019.2,1354.7 2021.7,1354.7 2024.1,1354.7 2026.6,1354.7 2029.1,1354.7 2031.6,1354.7 2034.1,1354.7 2036.5,1354.7 2039.0,1354.7 2041.5,1354.7 2044.0,1354.7 2046.5,1354.7 2048.9,1354.7 2051.4,1354.7 2053.9,1354.7"/>
<polyline fill="none" stroke="#000080" stroke-width="4" stroke-linejoin="round" points="320.4,1357.0 322.9,1357.0 325.4,1357.0 327.8,1357.0 330.3,1357.0 332.8,1357.0 335.3,1357.0 337.8,1357.0 340.2,1357.0 342.7,1357.0 345.2,1357.0 347.7,1357.0 350.2,1357.0 352.6,1357.0 355.1,1357.0 357.6,1357.0 360.1,1357.0 362.6,1357.0 365.0,1357.0 367.5,1357.0 370.0,1357.0 372.5,1357.0 375.0,1357.0 377.4,1357.0 379.9,1357.0 382.4,1357.0 384.9,1357.0 387.4,1357.0 389.8,1357.0 392.3,1357.0 394.8,1357.0 397.3,1357.0 399.8,1357.0 402.2,1357.0 404.7,1357.0 407.2,1357.0 409.7,1357.0 412.2,1357.0 414.6,1357.0 417.1,1357.0 419.6,1357.0 422.1,1357.0 424.6,1357.0 427.0,1357.0 429.5,1357.0 432.0,1357.0 434.5,1357.0 437.0,1357.0 439.4,1357.0 441.9,1357.0 444.4,1357.0 446.9,1357.0 449.4,1357.0 451.8,1357.0 454.3,1357.0 456.8,1357.0 459.3,1357.0 461.8,1357.0 464.2,1357.0 466.7,1357.0 469.2,1357.0 471.7,1357.0 474.2,1357.0 476.6,1357.0 479.1,1357.0 481.6,1357.0 484.1,1357.0 486.6,1357.0 489.0,1357.0 491.5,1357.0 494.0,1357.0 496.5,1357.0 499.0,1357.0 501.4,1357.0 503.9,1357.0 506.4,1357.0 508.9,1357.0 511.4,1357.0 513.8,1357.0 516.3,1357.0 518.8,1357.0 521.3,1357.0 523.8,1357.0 526.2,1357.0 528.7,1357.0 531.2,1357.0 533.7,1357.0 536.2,1357.0 538.6,1357.0 541.1,1357.0 543.6,1357.0 546.1,1357.0 548.6,1357.0 551.0,1357.0 553.5,1357.0 556.0,1357.0 558.5,1357.0 561.0,1357.0 563.4,1357.0 565.9,1357.0 568.4,1357.0 570.9,1357.0 573.4,1357.0 575.8,1357.0 578.3,1357.0 580.8,1357.0 583.3,1357.0 585.8,1357.0 588.2,1357.0 590.7,1357.0 593.2,1357.0 595.7,1357.0 598.2,1357.0 600.6,1357.0 603.1,1357.0 605.6,1357.0 608.1,1357.0 610.6,1357.0 613.0,1357.0 615.5,1357.0 618.0,1357.0 620.5,1357.0 623.0,1357.0 625.4,1357.0 627.9,1357.0 630.4,1357.0 632.9,1357.0 635.4,1357.0 637.8,1357.0 640.3,1357.0 642.8,1357.0 645.3,1357.0 647.8,1357.0 650.2,1357.0 652.7,1357.0 655.2,1357.0 657.7,1357.0 660.2,1357.0 662.6,1357.0 665.1,1357.0 667.6,1357.0 670.1,1357.0 672.6,1357.0 675.0,1357.0 677.5,1357.0 680.0,1357.0 682.5,1357.0 685.0,1357.0 687.4,1357.0 689.9,1357.0 692.4,1357.0 694.9,1357.0 697.4,1357.0 699.8,1357.0 702.3,1357.0 704.8,1357.0 707.3,1357.0 709.8,1357.0 712.2,1357.0 714.7,1357.0 717.2,1357.0 719.7,1357.0 722.2,1357.0 724.6,1357.0 727.1,1357.0 729.6,1357.0 732.1,1357.0 734.6,1357.0 737.0,1357.0 739.5,1357.0 742.0,1357.0 744.5,1357.0 747.0,1357.0 749.4,1357.0 751.9,1357.0 754.4,1357.0 756.9,1357.0 759.4,1357.0 761.8,1357.0 764.3,1357.0 766.8,1357.0 769.3,1357.0 771.8,1357.0 774.2,1357.0 776.7,1357.0 779.2,1357.0 781.7,1357.0 784.2,1357.0 786.6,1357.0 789.1,1357.0 791.6,1357.0 794.1,1357.0 796.6,1357.0 799.0,1357.0 801.5,1357.0 804.0,1357.0 806.5,1357.0 809.0,1357.0 811.4,1357.0 813.9,1357.0 816.4,1357.0 818.9,1357.0 821.4,1357.0 823.8,1357.0 826.3,1357.0 828.8,1357.0 831.3,1356.9 833.8,1356.9 836.2,1356.9 838.7,1356.9 841.2,1356.9 843.7,1356.9 846.2,1356.9 848.6,1356.9 851.1,1356.9 853.6,1356.9 856.1,1356.9 858.6,1356.9 861.0,1356.9 863.5,1356.8 866.0,1356.8 868.5,1356.8 871.0,1356.8 873.4,1356.7 875.9,1356.7 878.4,1356.6 880.9,1356.6 883.4,1356.5 885.8,1356.4 888.3,1356.4 890.8,1356.3 893.3,1356.1 895.8,1356.0 898.2,1355.9 900.7,1355.7 903.2,1355.5 905.7,1355.3 908.2,1355.0 910.6,1354.7 913.1,1354.4 915.6,1354.0 918.1,1353.6 920.6,1353.1 923.0,1352.6 925.5,1351.9 928.0,1351.3 930.5,1350.5 933.0,1349.6 935.4,1348.7 937.9,1347.6 940.4,1346.4 942.9,1345.0 945.4,1343.6 947.8,1341.9 950.3,1340.1 952.8,1338.1 955.3,1335.9 957.8,1333.4 960.2,1330.7 962.7,1327.8 965.2,1324.6 967.7,1321.0 970.2,1317.2 972.6,1313.0 975.1,1308.4 977.6,1303.4 980.1,1298.1 982.6,1292.2 985.0,1286.0 987.5,1279.2 990.0,1271.9 992.5,1264.1 995.0,1255.7 997.4,1246.7 999.9,1237.1 1002.4,1226.9 1004.9,1216.0 1007.4,1204.5 1009.8,1192.2 1012.3,1179.3 1014.8,1165.6 1017.3,1151.2 1019.8,1136.1 1022.2,1120.2 1024.7,1103.6 1027.2,1086.2 1029.7,1068.0 1032.2,1049.2 1034.6,1029.5 1037.1,1009.2 1039.6,988.2 1042.1,966.5 1044.6,944.2 1047.0,921.3 1049.5,897.8 1052.0,873.8 1054.5,849.4 1057.0,824.5 1059.4,799.2 1061.9,773.7 1064.4,747.9 1066.9,722.0 1069.4,696.0 1071.8,670.0 1074.3,644.1 1076.8,618.3 1079.3,592.8 1081.8,567.6 1084.2,542.9 1086.7,518.7 1089.2,495.0 1091.7,472.1 1094.2,450.0 1096.6,428.7 1099.1,408.5 1101.6,389.2 1104.1,371.2 1106.6,354.3 1109.0,338.7 1111.5,324.4 1114.0,311.6 1116.5,300.3 1119.0,290.4 1121.4,282.2 1123.9,275.5 1126.4,270.5 1128.9,267.2 1131.4,265.5 1133.8,265.4 1136.3,266.5 1138.8,268.6 1141.3,271.7 1143.8,275.9 1146.2,281.0 1148.7,287.2 1151.2,294.4 1153.7,302.5 1156.2,311.5 1158.6,321.5 1161.1,332.4 1163.6,344.1 1166.1,356.6 1168.6,370.0 1171.0,384.0 1173.5,398.8 1176.0,414.3 1178.5,430.4 1181.0,447.2 1183.4,464.4 1185.9,482.2 1188.4,500.5 1190.9,519.1 1193.3,538.2 1195.8,557.6 1198.3,577.2 1200.8,597.1 1203.3,617.3 1205.7,637.5 1208.2,657.9 1210.7,678.4 1213.2,698.9 1215.7,719.3 1218.1,739.8 1220.6,760.1 1223.1,780.4 1225.6,800.4 1228.1,820.3 1230.5,840.0 1233.0,859.5 1235.5,878.6 1238.0,897.5 1240.5,916.0 1242.9,934.2 1245.4,952.1 1247.9,969.5 1250.4,986.6 1252.9,1003.2 1255.3,1019.5 1257.8,1035.2 1260.3,1050.6 1262.8,1065.5 1265.3,1079.9 1267.7,1093.9 1270.2,1107.4 1272.7,1120.4 1275.2,1133.0 1277.7,1145.1 1280.1,1156.7 1282.6,1167.9 1285.1,1178.7 1287.6,1188.9 1290.1,1198.8 1292.5,1208.2 1295.0,1217.2 1297.5,1225.7 1300.0,1233.9 1302.5,1241.7 1304.9,1249.0 1307.4,1256.0 1309.9,1262.7 1312.4,1269.0 1314.9,1274.9 1317.3,1280.5 1319.8,1285.8 1322.3,1290.8 1324.8,1295.5 1327.3,1299.9 1329.7,1304.1 1332.2,1308.0 1334.7,1311.6 1337.2,1315.1 1339.7,1318.3 1342.1,1321.3 1344.6,1324.1 1347.1,1326.7 1349.6,1329.1 1352.1,1331.3 1354.5,1333.4 1357.0,1335.4 1359.5,1337.2 1362.0,1338.8 1364.5,1340.4 1366.9,1341.8 1369.4,1343.1 1371.9,1344.3 1374.4,1345.5 1376.9,1346.5 1379.3,1347.4 1381.8,1348.3 1384.3,1349.1 1386.8,1349.8 1389.3,1350.5 1391.7,1351.1 1394.2,1351.7 1396.7,1352.2 1399.2,1352.7 1401.7,1353.1 1404.1,1353.5 1406.6,1353.8 1409.1,1354.1 1411.6,1354.4 1414.1,1354.7 1416.5,1354.9 1419.0,1355.1 1421.5,1355.3 1424.0,1355.5 1426.5,1355.7 1428.9,1355.8 1431.4,1355.9 1433.9,1356.0 1436.4,1356.1 1438.9,1356.2 1441.3,1356.3 1443.8,1356.4 1446.3,1356.4 1448.8,1356.5 1451.3,1356.6 1453.7,1356.6 1456.2,1356.6 1458.7,1356.7 1461.2,1356.7 1463.7,1356.7 1466.1,1356.8 1468.6,1356.8 1471.1,1356.8 1473.6,1356.8 1476.1,1356.8 1478.5,1356.9 1481.0,1356.9 1483.5,1356.9 1486.0,1356.9 1488.5,1356.9 1490.9,1356.9 1493.4,1356.9 1495.9,1356.9 1498.4,1356.9 1500.9,1356.9 1503.3,1356.9 1505.8,1356.9 1508.3,1356.9 1510.8,1356.9 1513.3,1356.9 1515.7,1356.9 1518.2,1357.0 1520.7,1357.0 1523.2,1357.0 1525.7,1357.0 1528.1,1357.0 1530.6,1357.0 1533.1,1357.0 1535.6,1357.0 1538.1,1357.0 1540.5,1357.0 1543.0,1357.0 1545.5,1357.0 1548.0,1357.0 1550.5,1357.0 1552.9,1357.0 1555.4,1357.0 1557.9,1357.0 1560.4,1357.0 1562.9,1357.0 1565.3,1357.0 1567.8,1357.0 1570.3,1357.0 1572.8,1357.0 1575.3,1357.0 1577.7,1357.0 1580.2,1357.0 1582.7,1357.0 1585.2,1357.0 1587.7,1357.0 1590.1,1357.0 1592.6,1357.0 1595.1,1357.0 1597.6,1357.0 1600.1,1357.0 1602.5,1357.0 1605.0,1357.0 1607.5,1357.0 1610.0,1357.0 1612.5,1357.0 1614.9,1357.0 1617.4,1357.0 1619.9,1357.0 1622.4,1357.0 1624.9,1357.0 1627.3,1357.0 1629.8,1357.0 1632.3,1357.0 1634.8,1357.0 1637.3,1357.0 1639.7,1357.0 1642.2,1357.0 1644.7,1357.0 1647.2,1357.0 1649.7,1357.0 1652.1,1357.0 1654.6,1357.0 1657.1,1357.0 1659.6,1357.0 1662.1,1357.0 1664.5,1357.0 1667.0,1357.0 1669.5,1357.0 1672.0,1357.0 1674.5,1357.0 1676.9,1357.0 1679.4,1357.0 1681.9,1357.0 1684.4,1357.0 1686.9,1357.0 1689.3,1357.0 1691.8,1357.0 1694.3,1357.0 1696.8,1357.0 1699.3,1357.0 1701.7,1357.0 1704.2,1357.0 1706.7,1357.0 1709.2,1357.0 1711.7,1357.0 1714.1,1357.0 1716.6,1357.0 1719.1,1357.0 1721.6,1357.0 1724.1,1357.0 1726.5,1357.0 1729.0,1357.0 1731.5,1357.0 1734.0,1357.0 1736.5,1357.0 1738.9,1357.0 1741.4,1357.0 1743.9,1357.0 1746.4,1357.0 1748.9,1357.0 1751.3,1357.0 1753.8,1357.0 1756.3,1357.0 1758.8,1357.0 1761.3,1357.0 1763.7,1357.0 1766.2,1357.0 1768.7,1357.0 1771.2,1357.0 1773.7,1357.0 1776.1,1357.0 1778.6,1357.0 1781.1,1357.0 1783.6,1357.0 1786.1,1357.0 1788.5,1357.0 1791.0,1357.0 1793.5,1357.0 1796.0,1357.0 1798.5,1357.0 1800.9,1357.0 1803.4,1357.0 1805.9,1357.0 1808.4,1357.0 1810.9,1357.0 1813.3,1357.0 1815.8,1357.0 1818.3,1357.0 1820.8,1357.0 1823.3,1357.0 1825.7,1357.0 1828.2,1357.0 1830.7,1357.0 1833.2,1357.0 1835.7,1357.0 1838.1,1357.0 1840.6,1357.0 1843.1,1357.0 1845.6,1357.0 1848.1,1357.0 1850.5,1357.0 1853.0,1357.0 1855.5,1357.0 1858.0,1357.0 1860.5,1357.0 1862.9,1357.0 1865.4,1357.0 1867.9,1357.0 1870.4,1357.0 1872.9,1357.0 1875.3,1357.0 1877.8,1357.0 1880.3,1357.0 1882.8,1357.0 1885.3,1357.0 1887.7,1357.0 1890.2,1357.0 1892.7,1357.0 1895.2,1357.0 1897.7,1357.0 1900.1,1357.0 1902.6,1357.0 1905.1,1357.0 1907.6,1357.0 1910.1,1357.0 1912.5,1357.0 1915.0,1357.0 1917.5,1357.0 1920.0,1357.0 1922.5,1357.0 1924.9,1357.0 1927.4,1357.0 1929.9,1357.0 1932.4,1357.0 1934.9,1357.0 1937.3,1357.0 1939.8,1357.0 1942.3,1357.0 1944.8,1357.0 1947.3,1357.0 1949.7,1357.0 1952.2,1357.0 1954.7,1357.0 1957.2,1357.0 1959.7,1357.0 1962.1,1357.0 1964.6,1357.0 1967.1,1357.0 1969.6,1357.0 1972.1,1357.0 1974.5,1357.0 1977.0,1357.0 1979.5,1357.0 1982.0,1357.0 1984.5,1357.0 1986.9,1357.0 1989.4,1357.0 1991.9,1357.0 1994.4,1357.0 1996.9,1357.0 1999.3,1357.0 2001.8,1357.0 2004.3,1357.0 2006.8,1357.0 2009.3,1357.0 2011.7,1357.0 2014.2,1357.0 2016.7,1357.0 2019.2,1357.0 2021.7,1357.0 2024.1,1357.0 2026.6,1357.0 2029.1,1357.0 2031.6,1357.0 2034.1,1357.0 2036.5,1357.0 2039.0,1357.0 2041.5,1357.0 2044.0,1357.0 2046.5,1357.0 2048.9,1357.0 2051.4,1357.0 2053.9,1357.0"/>
<polyline fill="none" stroke="#800080" stroke-width="4" stroke-linejoin="round" points="320.4,1356.7 322.9,1356.7 325.4,1356.7 327.8,1356.7 330.3,1356.7 332.8,1356.7 335.3,1356.7 337.8,1356.7 340.2,1356.7 342.7,1356.7 345.2,1356.7 347.7,1356.7 350.2,1356.7 352.6,1356.7 355.1,1356.7 357.6,1356.7 360.1,1356.7 362.6,1356.7 365.0,1356.7 367.5,1356.7 370.0,1356.7 372.5,1356.7 375.0,1356.7 377.4,1356.7 379.9,1356.7 382.4,1356.7 384.9,1356.7 387.4,1356.7 389.8,1356.7 392.3,1356.7 394.8,1356.7 397.3,1356.7 399.8,1356.7 402.2,1356.7 404.7,1356.7 407.2,1356.7 409.7,1356.7 412.2,1356.7 414.6,1356.7 417.1,1356.7 419.6,1356.7 422.1,1356.7 424.6,1356.7 427.0,1356.7 429.5,1356.7 432.0,1356.7 434.5,1356.7 437.0,1356.7 439.4,1356.7 441.9,1356.7 444.4,1356.7 446.9,1356.7 449.4,1356.7 451.8,1356.7 454.3,1356.7 456.8,1356.7 459.3,1356.7 461.8,1356.7 464.2,1356.7 466.7,1356.7 469.2,1356.7 471.7,1356.7 474.2,1356.7 476.6,1356.7 479.1,1356.7 481.6,1356.7 484.1,1356.7 486.6,1356.7 489.0,1356.7 491.5,1356.7 494.0,1356.7 496.5,1356.7 499.0,1356.7 501.4,1356.7 503.9,1356.7 506.4,1356.7 508.9,1356.7 511.4,1356.7 513.8,1356.7 516.3,1356.7 518.8,1356.7 521.3,1356.7 523.8,1356.7 526.2,1356.7 528.7,1356.7 531.2,1356.7 533.7,1356.7 536.2,1356.7 538.6,1356.7 541.1,1356.7 543.6,1356.7 546.1,1356.7 548.6,1356.7 551.0,1356.7 553.5,1356.7 556.0,1356.7 558.5,1356.7 561.0,1356.7 563.4,1356.7 565.9,1356.7 568.4,1356.7 570.9,1356.7 573.4,1356.7 575.8,1356.7 578.3,1356.7 580.8,1356.7 583.3,1356.7 585.8,1356.7 588.2,1356.7 590.7,1356.7 593.2,1356.7 595.7,1356.7 598.2,1356.7 600.6,1356.7 603.1,1356.7 605.6,1356.7 608.1,1356.7 610.6,1356.7 613.0,1356.7 615.5,1356.7 618.0,1356.7 620.5,1356.7 623.0,1356.7 625.4,1356.7 627.9,1356.7 630.4,1356.7 632.9,1356.7 635.4,1356.7 637.8,1356.7 640.3,1356.7 642.8,1356.7 645.3,1356.7 647.8,1356.7 650.2,1356.7 652.7,1356.7 655.2,1356.7 657.7,1356.7 660.2,1356.7 662.6,1356.7 665.1,1356.7 667.6,1356.7 670.1,1356.7 672.6,1356.7 675.0,1356.7 677.5,1356.7 680.0,1356.7 682.5,1356.7 685.0,1356.7 687.4,1356.7 689.9,1356.7 692.4,1356.7 694.9,1356.7 697.4,1356.7 699.8,1356.7 702.3,1356.7 704.8,1356.7 707.3,1356.7 709.8,1356.7 712.2,1356.7 714.7,1356.7 717.2,1356.7 719.7,1356.7 722.2,1356.7 724.6,1356.7 727.1,1356.7 729.6,1356.7 732.1,1356.7 734.6,1356.7 737.0,1356.7 739.5,1356.7 742.0,1356.7 744.5,1356.7 747.0,1356.7 749.4,1356.7 751.9,1356.7 754.4,1356.7 756.9,1356.7 759.4,1356.7 761.8,1356.7 764.3,1356.7 766.8,1356.7 769.3,1356.7 771.8,1356.7 774.2,1356.7 776.7,1356.7 779.2,1356.7 781.7,1356.7 784.2,1356.7 786.6,1356.7 789.1,1356.7 791.6,1356.7 794.1,1356.7 796.6,1356.7 799.0,1356.7 801.5,1356.7 804.0,1356.7 806.5,1356.7 809.0,1356.7 811.4,1356.7 813.9,1356.7 816.4,1356.7 818.9,1356.7 821.4,1356.7 823.8,1356.7 826.3,1356.6 828.8,1356.6 831.3,1356.6 833.8,1356.6 836.2,1356.6 838.7,1356.6 841.2,1356.5 843.7,1356.5 846.2,1356.5 848.6,1356.5 851.1,1356.4 853.6,1356.4 856.1,1356.3 858.6,1356.3 861.0,1356.2 863.5,1356.1 866.0,1356.0 868.5,1355.9 871.0,1355.8 873.4,1355.6 875.9,1355.5 878.4,1355.3 880.9,1355.1 883.4,1354.8 885.8,1354.6 888.3,1354.3 890.8,1353.9 893.3,1353.6 895.8,1353.1 898.2,1352.7 900.7,1352.1 903.2,1351.5 905.7,1350.8 908.2,1350.1 910.6,1349.2 913.1,1348.3 915.6,1347.3 918.1,1346.1 920.6,1344.8 923.0,1343.4 925.5,1341.8 928.0,1340.1 930.5,1338.2 933.0,1336.1 935.4,1333.9 937.9,1331.4 940.4,1328.6 942.9,1325.6 945.4,1322.4 947.8,1318.8 950.3,1315.0 952.8,1310.8 955.3,1306.3 957.8,1301.4 960.2,1296.1 962.7,1290.4 965.2,1284.2 967.7,1277.7 970.2,1270.6 972.6,1263.0 975.1,1254.9 977.6,1246.3 980.1,1237.1 982.6,1227.4 985.0,1217.0 987.5,1206.0 990.0,1194.4 992.5,1182.1 995.0,1169.2 997.4,1155.6 999.9,1141.3 1002.4,1126.3 1004.9,1110.7 1007.4,1094.3 1009.8,1077.3 1012.3,1059.5 1014.8,1041.1 1017.3,1022.0 1019.8,1002.3 1022.2,981.9 1024.7,960.9 1027.2,939.4 1029.7,917.3 1032.2,894.6 1034.6,871.5 1037.1,848.0 1039.6,824.0 1042.1,799.7 1044.6,775.2 1047.0,750.4 1049.5,725.4 1052.0,700.4 1054.5,675.3 1057.0,650.3 1059.4,625.4 1061.9,600.6 1064.4,576.2 1066.9,552.1 1069.4,528.4 1071.8,505.2 1074.3,482.6 1076.8,460.7 1079.3,439.5 1081.8,419.2 1084.2,399.8 1086.7,381.3 1089.2,363.9 1091.7,347.6 1094.2,332.5 1096.6,318.6 1099.1,306.1 1101.6,294.9 1104.1,285.0 1106.6,276.7 1109.0,269.8 1111.5,264.3 1114.0,260.5 1116.5,258.1 1119.0,257.3 1121.4,258.1 1123.9,260.5 1126.4,264.3 1128.9,269.8 1131.4,276.7 1133.8,285.1 1136.3,295.0 1138.8,306.3 1141.3,318.9 1143.8,332.9 1146.2,348.1 1148.7,364.5 1151.2,382.0 1153.7,400.6 1156.2,420.1 1158.6,440.6 1161.1,461.9 1163.6,483.9 1166.1,506.6 1168.6,529.9 1171.0,553.7 1173.5,578.0 1176.0,602.6 1178.5,627.4 1181.0,652.4 1183.4,677.6 1185.9,702.7 1188.4,727.9 1190.9,752.9 1193.3,777.8 1195.8,802.4 1198.3,826.7 1200.8,850.7 1203.3,874.3 1205.7,897.5 1208.2,920.1 1210.7,942.3 1213.2,963.8 1215.7,984.8 1218.1,1005.2 1220.6,1024.9 1223.1,1044.0 1225.6,1062.3 1228.1,1080.0 1230.5,1097.0 1233.0,1113.4 1235.5,1129.0 1238.0,1143.9 1240.5,1158.1 1242.9,1171.6 1245.4,1184.5 1247.9,1196.7 1250.4,1208.2 1252.9,1219.1 1255.3,1229.4 1257.8,1239.1 1260.3,1248.2 1262.8,1256.7 1265.3,1264.7 1267.7,1272.2 1270.2,1279.2 1272.7,1285.7 1275.2,1291.7 1277.7,1297.4 1280.1,1302.6 1282.6,1307.4 1285.1,1311.9 1287.6,1316.0 1290.1,1319.8 1292.5,1323.2 1295.0,1326.4 1297.5,1329.4 1300.0,1332.1 1302.5,1334.5 1304.9,1336.8 1307.4,1338.8 1309.9,1340.6 1312.4,1342.3 1314.9,1343.8 1317.3,1345.2 1319.8,1346.5 1322.3,1347.6 1324.8,1348.6 1327.3,1349.5 1329.7,1350.3 1332.2,1351.1 1334.7,1351.7 1337.2,1352.3 1339.7,1352.8 1342.1,1353.3 1344.6,1353.7 1347.1,1354.1 1349.6,1354.4 1352.1,1354.7 1354.5,1354.9 1357.0,1355.2 1359.5,1355.4 1362.0,1355.5 1364.5,1355.7 1366.9,1355.8 1369.4,1355.9 1371.9,1356.0 1374.4,1356.1 1376.9,1356.2 1379.3,1356.3 1381.8,1356.3 1384.3,1356.4 1386.8,1356.4 1389.3,1356.5 1391.7,1356.5 1394.2,1356.5 1396.7,1356.6 1399.2,1356.6 1401.7,1356.6 1404.1,1356.6 1406.6,1356.6 1409.1,1356.6 1411.6,1356.6 1414.1,1356.7 1416.5,1356.7 1419.0,1356.7 1421.5,1356.7 1424.0,1356.7 1426.5,1356.7 1428.9,1356.7 1431.4,1356.7 1433.9,1356.7 1436.4,1356.7 1438.9,1356.7 1441.3,1356.7 1443.8,1356.7 1446.3,1356.7 1448.8,1356.7 1451.3,1356.7 1453.7,1356.7 1456.2,1356.7 1458.7,1356.7 1461.2,1356.7 1463.7,1356.7 1466.1,1356.7 1468.6,1356.7 1471.1,1356.7 1473.6,1356.7 1476.1,1356.7 1478.5,1356.7 1481.0,1356.7 1483.5,1356.7 1486.0,1356.7 1488.5,1356.7 1490.9,1356.7 1493.4,1356.7 1495.9,1356.7 1498.4,1356.7 1500.9,1356.7 1503.3,1356.7 1505.8,1356.7 1508.3,1356.7 1510.8,1356.7 1513.3,1356.7 1515.7,1356.7 1518.2,1356.7 1520.7,1356.7 1523.2,1356.7 1525.7,1356.7 1528.1,1356.7 1530.6,1356.7 1533.1,1356.7 1535.6,1356.7 1538.1,1356.7 1540.5,1356.7 1543.0,1356.7 1545.5,1356.7 1548.0,1356.7 1550.5,1356.7 1552.9,1356.7 1555.4,1356.7 1557.9,1356.7 1560.4,1356.7 1562.9,1356.7 1565.3,1356.7 1567.8,1356.7 1570.3,1356.7 1572.8,1356.7 1575.3,1356.7 1577.7,1356.7 1580.2,1356.7 1582.7,1356.7 1585.2,1356.7 1587.7,1356.7 1590.1,1356.7 1592.6,1356.7 1595.1,1356.7 1597.6,1356.7 1600.1,1356.7 1602.5,1356.7 1605.0,1356.7 1607.5,1356.7 1610.0,1356.7 1612.5,1356.7 1614.9,1356.7 1617.4,1356.7 1619.9,1356.7 1622.4,1356.7 1624.9,1356.7 1627.3,1356.7 1629.8,1356.7 1632.3,1356.7 1634.8,1356.7 1637.3,1356.7 1639.7,1356.7 1642.2,1356.7 1644.7,1356.7 1647.2,1356.7 1649.7,1356.7 1652.1,1356.7 1654.6,1356.7 1657.1,1356.7 1659.6,1356.7 1662.1,1356.7 1664.5,1356.7 1667.0,1356.7 1669.5,1356.7 1672.0,1356.7 1674.5,1356.7 1676.9,1356.7 1679.4,1356.7 1681.9,1356.7 1684.4,1356.7 1686.9,1356.7 1689.3,1356.7 1691.8,1356.7 1694.3,1356.7 1696.8,1356.7 1699.3,1356.7 1701.7,1356.7 1704.2,1356.7 1706.7,1356.7 1709.2,1356.7 1711.7,1356.7 1714.1,1356.7 1716.6,1356.7 1719.1,1356.7 1721.6,1356.7 1724.1,1356.7 1726.5,1356.7 1729.0,1356.7 1731.5,1356.7 1734.0,1356.7 1736.5,1356.7 1738.9,1356.7 1741.4,1356.7 1743.9,1356.7 1746.4,1356.7 1748.9,1356.7 1751.3,1356.7 1753.8,1356.7 1756.3,1356.7 1758.8,1356.7 1761.3,1356.7 1763.7,1356.7 1766.2,1356.7 1768.7,1356.7 1771.2,1356.7 1773.7,1356.7 1776.1,1356.7 1778.6,1356.7 1781.1,1356.7 1783.6,1356.7 1786.1,1356.7 1788.5,1356.7 1791.0,1356.7 1793.5,1356.7 1796.0,1356.7 1798.5,1356.7 1800.9,1356.7 1803.4,1356.7 1805.9,1356.7 1808.4,1356.7 1810.9,1356.7 1813.3,1356.7 1815.8,1356.7 1818.3,1356.7 1820.8,1356.7 1823.3,1356.7 1825.7,1356.7 1828.2,1356.7 1830.7,1356.7 1833.2,1356.7 1835.7,1356.7 1838.1,1356.7 1840.6,1356.7 1843.1,1356.7 1845.6,1356.7 1848.1,1356.7 1850.5,1356.7 1853.0,1356.7 1855.5,1356.7 1858.0,1356.7 1860.5,1356.7 1862.9,1356.7 1865.4,1356.7 1867.9,1356.7 1870.4,1356.7 1872.9,1356.7 1875.3,1356.7 1877.8,1356.7 1880.3,1356.7 1882.8,1356.7 1885.3,1356.7 1887.7,1356.7 1890.2,1356.7 1892.7,1356.7 1895.2,1356.7 1897.7,1356.7 1900.1,1356.7 1902.6,1356.7 1905.1,1356.7 1907.6,1356.7 1910.1,1356.7 1912.5,1356.7 1915.0,1356.7 1917.5,1356.7 1920.0,1356.7 1922.5,1356.7 1924.9,1356.7 1927.4,1356.7 1929.9,1356.7 1932.4,1356.7 1934.9,1356.7 1937.3,1356.7 1939.8,1356.7 1942.3,1356.7 1944.8,1356.7 1947.3,1356.7 1949.7,1356.7 1952.2,1356.7 1954.7,1356.7 1957.2,1356.7 1959.7,1356.7 1962.1,1356.7 1964.6,1356.7 1967.1,1356.7 1969.6,1356.7 1972.1,1356.7 1974.5,1356.7 1977.0,1356.7 1979.5,1356.7 1982.0,1356.7 1984.5,1356.7 1986.9,1356.7 1989.4,1356.7 1991.9,1356.7 1994.4,1356.7 1996.9,1356.7 1999.3,1356.7 2001.8,1356.7 2004.3,1356.7 2006.8,1356.7 2009.3,1356.7 2011.7,1356.7 2014.2,1356.7 2016.7,1356.7 2019.2,1356.7 2021.7,1356.7 2024.1,1356.7 2026.6,1356.7 2029.1,1356.7 2031.6,1356.7 2034.1,1356.7 2036.5,1356.7 2039.0,1356.7 2041.5,1356.7 2044.0,1356.7 2046.5,1356.7 2048.9,1356.7 2051.4,1356.7 2053.9,1356.7"/></g>
<g font-family="Liberation Sans, Arial, sans-serif" font-size="98" fill="#000"><text x="276.9" y="1384.5" text-anchor="end">0</text><text x="276.9" y="1127.9" text-anchor="end">5</text><text x="276.9" y="871.3" text-anchor="end">10</text><text x="276.9" y="614.6" text-anchor="end">15</text><text x="276.9" y="358.0" text-anchor="end">20</text><text x="276.9" y="101.4" text-anchor="end">25</text><text x="320.4" y="1476.6" text-anchor="middle">2.1</text><text x="513.0" y="1476.6" text-anchor="middle">2.4</text><text x="705.6" y="1476.6" text-anchor="middle">2.7</text><text x="898.2" y="1476.6" text-anchor="middle">3.0</text><text x="1090.8" y="1476.6" text-anchor="middle">3.3</text><text x="1283.5" y="1476.6" text-anchor="middle">3.6</text><text x="1476.1" y="1476.6" text-anchor="middle">3.9</text><text x="1668.7" y="1476.6" text-anchor="middle">4.2</text><text x="1861.3" y="1476.6" text-anchor="middle">4.5</text><text x="2053.9" y="1476.6" text-anchor="middle">4.8</text>
<text x="1050.5" y="1622" font-size="97">E (eV)</text>
<text transform="translate(98,896) rotate(-90)" font-size="98">R<tspan font-size="58" dy="38">dir</tspan><tspan dy="-38"> (%)</tspan></text>
<text x="723" y="386.8" text-anchor="middle" font-size="76">0.05 <tspan font-family="Liberation Serif, serif" font-size="68">μ</tspan>m</text><text x="723" y="479.2" text-anchor="middle" font-size="76">0.1 <tspan font-family="Liberation Serif, serif" font-size="68">μ</tspan>m</text><text x="723" y="572.4" text-anchor="middle" font-size="76">0.2 <tspan font-family="Liberation Serif, serif" font-size="68">μ</tspan>m</text><text x="723" y="664.0" text-anchor="middle" font-size="76">0.4 <tspan font-family="Liberation Serif, serif" font-size="68">μ</tspan>m</text><text x="723" y="757.0" text-anchor="middle" font-size="76">0.6 <tspan font-family="Liberation Serif, serif" font-size="68">μ</tspan>m</text><text x="723" y="850.0" text-anchor="middle" font-size="76">0.8 <tspan font-family="Liberation Serif, serif" font-size="68">μ</tspan>m</text><text x="723" y="942.4" text-anchor="middle" font-size="76">1.4 <tspan font-family="Liberation Serif, serif" font-size="68">μ</tspan>m</text><path fill="#0000ff" shape-rendering="crispEdges" d="M495.0,361.3a13.5,13.5 0 1,0 27.0,0a13.5,13.5 0 1,0 -27.0,0Z"/><path fill="#008000" shape-rendering="crispEdges" d="M495.8,441.0h25.4v25.4h-25.4Z"/><path fill="#ff0000" shape-rendering="crispEdges" d="M508.5,526.9L525.0,556.9L492.0,556.9Z"/><path fill="#800000" shape-rendering="crispEdges" d="M508.5,658.5L525.0,628.5L492.0,628.5Z"/><path fill="#ff8000" shape-rendering="crispEdges" d="M488.5,731.5L518.5,715.0L518.5,748.0Z"/><path fill="#000080" shape-rendering="crispEdges" d="M528.5,824.5L498.5,808.0L498.5,841.0Z"/><path fill="#800080" shape-rendering="crispEdges" d="M508.5,898.4L526.0,916.9L508.5,935.4L491.0,916.9Z"/>
</g>
<g fill="#fdfdfd"><rect x="174.1" y="863.0" width="18.2" height="9.3"/><rect x="201.4" y="863.0" width="17.4" height="9.3"/><rect x="174.1" y="606.3" width="18.2" height="9.3"/><rect x="201.4" y="606.3" width="17.4" height="9.3"/><rect x="340.3" y="1468.3" width="18.2" height="9.3"/><rect x="367.5" y="1468.3" width="17.4" height="9.3"/><rect x="677.7" y="472.5" width="14.3" height="7.7"/><rect x="699.1" y="472.5" width="13.7" height="7.7"/><rect x="614.3" y="935.7" width="14.3" height="7.7"/><rect x="635.8" y="935.7" width="13.7" height="7.7"/></g>
</svg>
</body></html>
